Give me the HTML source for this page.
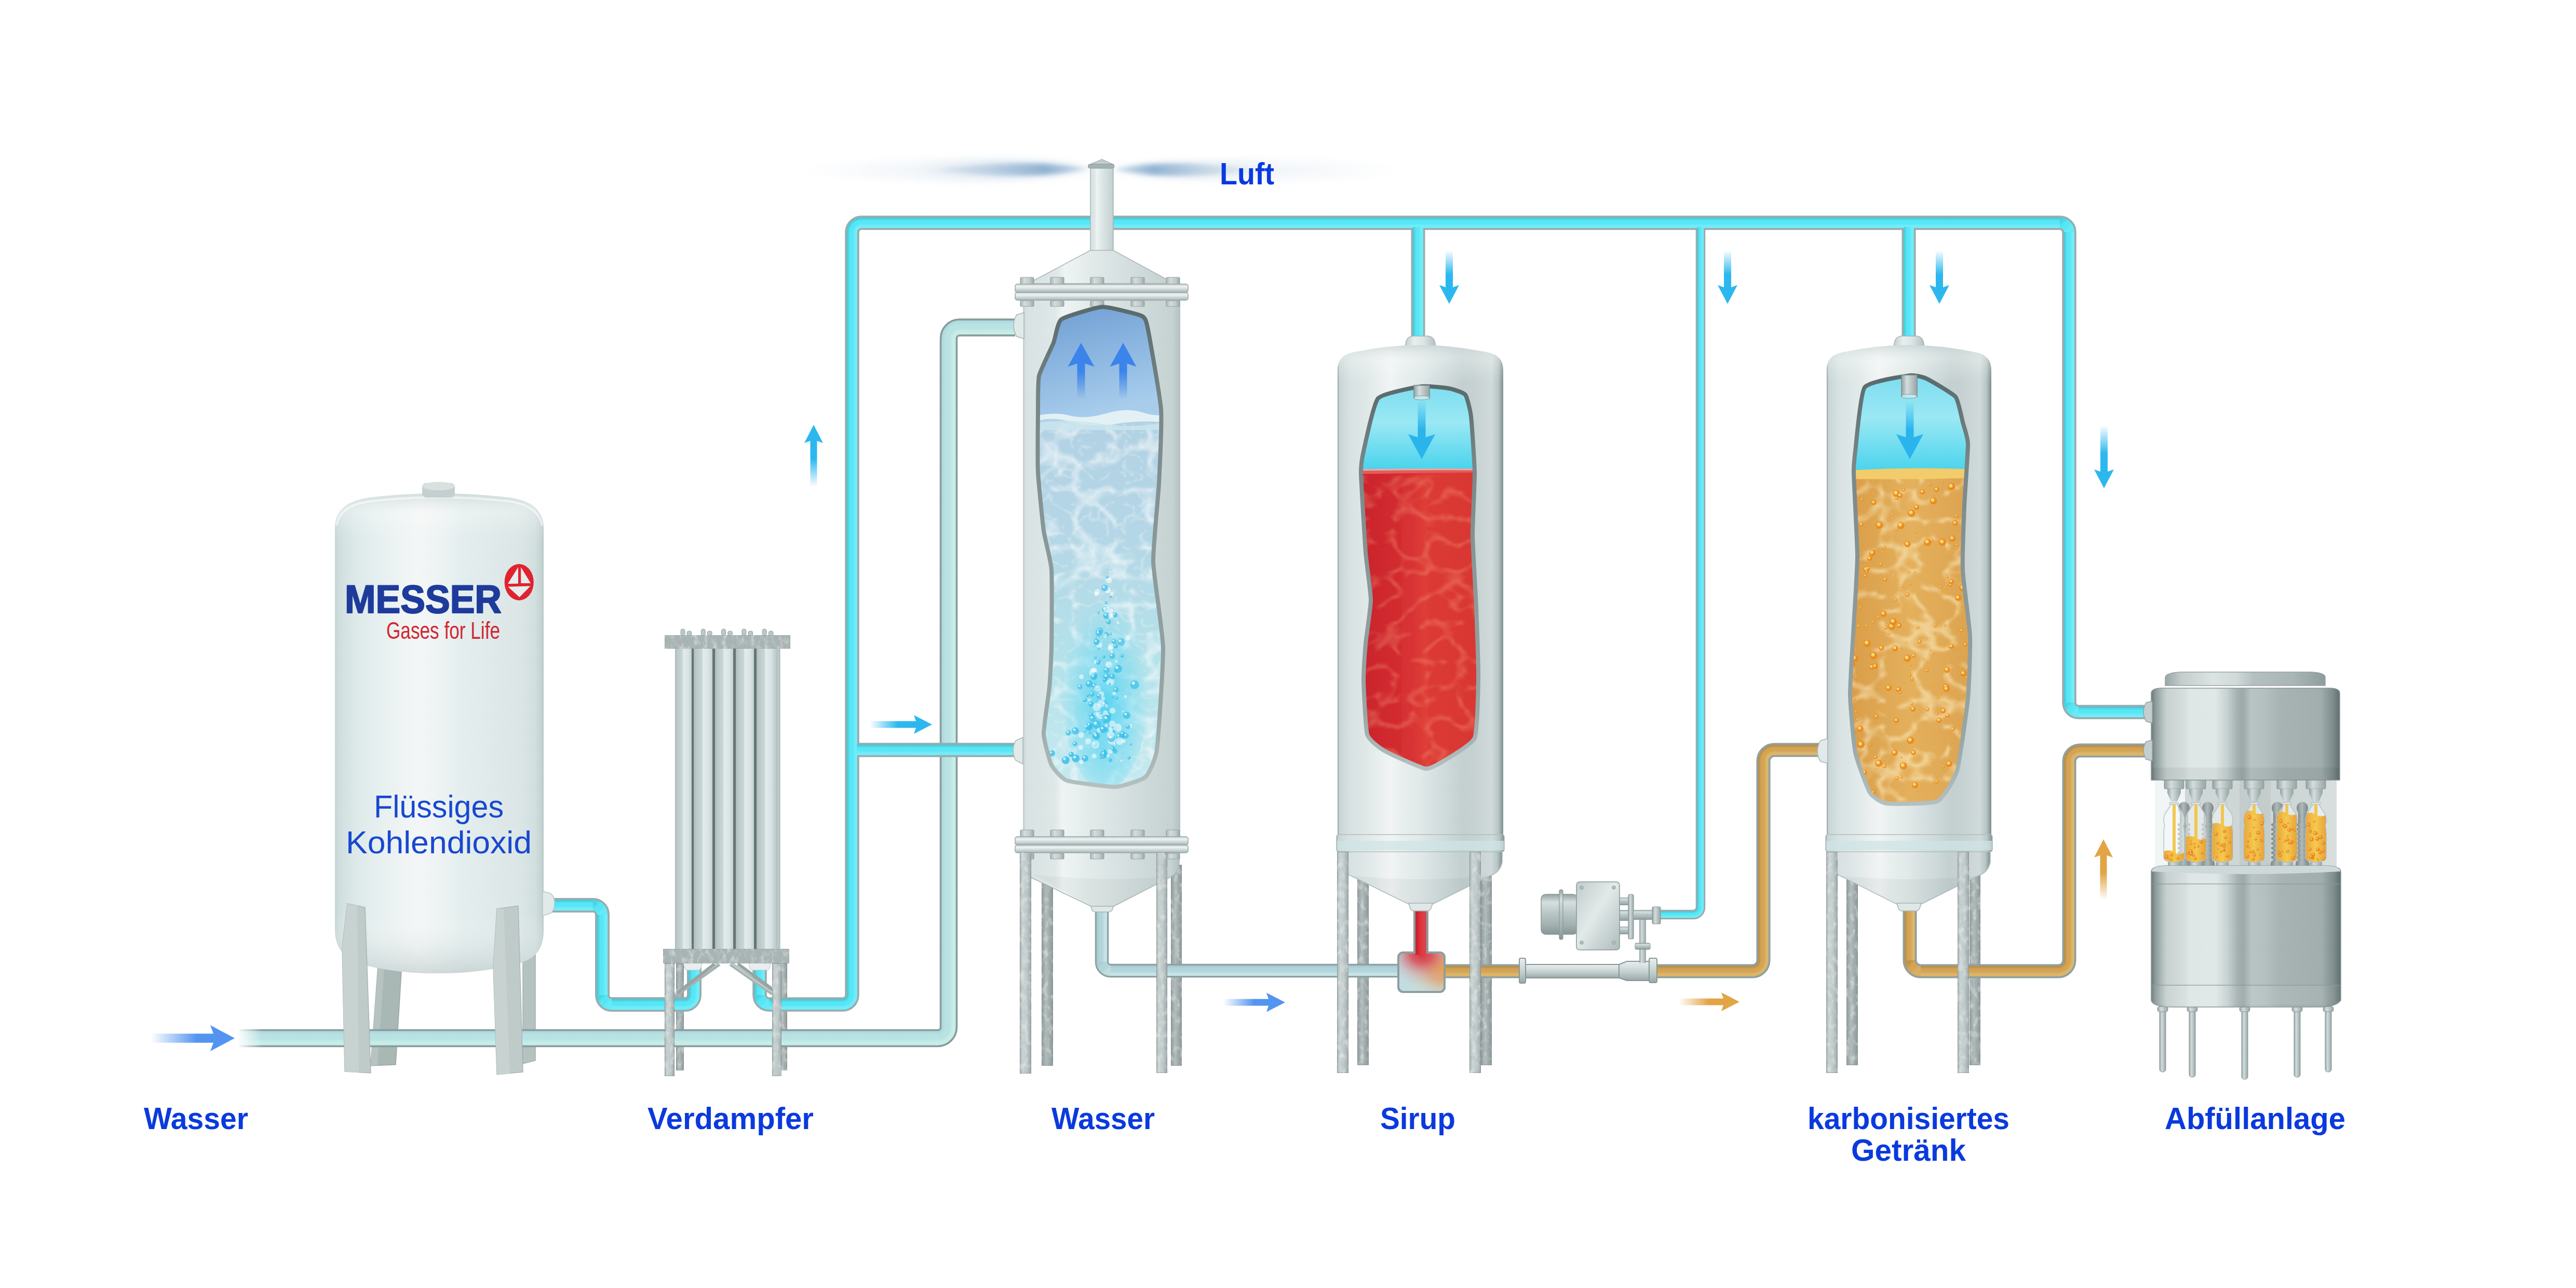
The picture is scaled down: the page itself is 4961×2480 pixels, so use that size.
<!DOCTYPE html>
<html><head><meta charset="utf-8"><style>
html,body{margin:0;padding:0;background:#fff;}
svg{display:block;}
text{font-family:"Liberation Sans",sans-serif;}
</style></head><body>
<svg width="4961" height="2480" viewBox="0 0 4961 2480">
<defs>
<linearGradient id="tankH" x1="0" y1="0" x2="1" y2="0" ><stop offset="0" stop-color="#8a9a9a"/><stop offset="0.01" stop-color="#c8d4d4"/><stop offset="0.075" stop-color="#d8e2e2"/><stop offset="0.18" stop-color="#e0e8e8"/><stop offset="0.32" stop-color="#f2f4f4"/><stop offset="0.37" stop-color="#eaf0f0"/><stop offset="0.5" stop-color="#e0e8e8"/><stop offset="0.65" stop-color="#cfdada"/><stop offset="0.75" stop-color="#c4d0d0"/><stop offset="0.82" stop-color="#c6d1d1"/><stop offset="0.93" stop-color="#d0dada"/><stop offset="0.97" stop-color="#b8c6c6"/><stop offset="1" stop-color="#7e8e8e"/></linearGradient>
<linearGradient id="tankH2" x1="0" y1="0" x2="1" y2="0" ><stop offset="0" stop-color="#c2cece"/><stop offset="0.02" stop-color="#d8e2e2"/><stop offset="0.2" stop-color="#dfe7e7"/><stop offset="0.25" stop-color="#eef3f3"/><stop offset="0.33" stop-color="#eaf0f0"/><stop offset="0.42" stop-color="#e2eaea"/><stop offset="0.6" stop-color="#d9e2e2"/><stop offset="0.8" stop-color="#cdd8d8"/><stop offset="0.95" stop-color="#c6d2d2"/><stop offset="1" stop-color="#b2c1c1"/></linearGradient>
<linearGradient id="co2H" x1="0" y1="0" x2="1" y2="0" ><stop offset="0" stop-color="#c4d4d4"/><stop offset="0.02" stop-color="#d0dede"/><stop offset="0.09" stop-color="#dce8e8"/><stop offset="0.2" stop-color="#e6efef"/><stop offset="0.4" stop-color="#f4f6f6"/><stop offset="0.55" stop-color="#eaf1f1"/><stop offset="0.6" stop-color="#e4eeee"/><stop offset="0.8" stop-color="#dee8e8"/><stop offset="0.88" stop-color="#dce6e6"/><stop offset="0.96" stop-color="#d2dfdf"/><stop offset="0.99" stop-color="#c4d2d2"/><stop offset="1" stop-color="#b8c8c8"/></linearGradient>
<linearGradient id="legG" x1="0" y1="0" x2="1" y2="0" ><stop offset="0" stop-color="#a6b2b2"/><stop offset="0.25" stop-color="#cad3d3"/><stop offset="0.6" stop-color="#c2cbcb"/><stop offset="1" stop-color="#9aa6a6"/></linearGradient>
<linearGradient id="legD" x1="0" y1="0" x2="1" y2="0" ><stop offset="0" stop-color="#8e9a9a"/><stop offset="0.4" stop-color="#b2bcbc"/><stop offset="1" stop-color="#8a9696"/></linearGradient>
<linearGradient id="co2leg" x1="0" y1="0" x2="1" y2="0" ><stop offset="0" stop-color="#bcc7c5"/><stop offset="0.5" stop-color="#d3dcda"/><stop offset="1" stop-color="#b8c3c1"/></linearGradient>
<linearGradient id="co2legD" x1="0" y1="0" x2="1" y2="0" ><stop offset="0" stop-color="#a7b3b1"/><stop offset="1" stop-color="#bcc6c4"/></linearGradient>
<linearGradient id="gasBlue" x1="0" y1="0" x2="0.3" y2="1" ><stop offset="0" stop-color="#6c9bd2"/><stop offset="0.6" stop-color="#8fb9e2"/><stop offset="1" stop-color="#a8cdec"/></linearGradient>
<linearGradient id="waterG" x1="0" y1="0" x2="0" y2="1" ><stop offset="0" stop-color="#b2d2e4"/><stop offset="0.3" stop-color="#b4d6e6"/><stop offset="0.65" stop-color="#b4e2ea"/><stop offset="1" stop-color="#c6eaf0"/></linearGradient>
<linearGradient id="gasCyan" x1="0" y1="0" x2="0" y2="1" ><stop offset="0" stop-color="#7adcef"/><stop offset="0.45" stop-color="#9ae8f4"/><stop offset="1" stop-color="#44d2ec"/></linearGradient>
<linearGradient id="redG" x1="0" y1="0" x2="1" y2="0" ><stop offset="0" stop-color="#c8222c"/><stop offset="0.45" stop-color="#d62e30"/><stop offset="0.55" stop-color="#dc3a34"/><stop offset="1" stop-color="#d83632"/></linearGradient>
<linearGradient id="beerG" x1="0" y1="0" x2="1" y2="0" ><stop offset="0" stop-color="#d99c48"/><stop offset="0.5" stop-color="#e4b05c"/><stop offset="1" stop-color="#dca24e"/></linearGradient>
<linearGradient id="plate" x1="0" y1="0" x2="0" y2="1" ><stop offset="0" stop-color="#c6d0d0"/><stop offset="0.3" stop-color="#eef2f2"/><stop offset="0.55" stop-color="#d6dfdf"/><stop offset="1" stop-color="#a6b4b4"/></linearGradient>
<linearGradient id="nozG" x1="0" y1="0" x2="1" y2="0" ><stop offset="0" stop-color="#c4cece"/><stop offset="0.3" stop-color="#e8eeee"/><stop offset="0.6" stop-color="#dce4e4"/><stop offset="1" stop-color="#b4c2c2"/></linearGradient>
<linearGradient id="boltG" x1="0" y1="0" x2="1" y2="0" ><stop offset="0" stop-color="#a8b4b4"/><stop offset="0.3" stop-color="#d4dcdc"/><stop offset="0.7" stop-color="#c0caca"/><stop offset="1" stop-color="#9aa8a8"/></linearGradient>
<linearGradient id="winStroke" x1="0" y1="0" x2="0" y2="1" ><stop offset="0" stop-color="#5a6a6c"/><stop offset="0.2" stop-color="#788688"/><stop offset="0.5" stop-color="#8a9898"/><stop offset="0.85" stop-color="#98a6a6"/><stop offset="1" stop-color="#b4c0c0"/></linearGradient>
<linearGradient id="evtube" x1="0" y1="0" x2="1" y2="0" ><stop offset="0" stop-color="#a9b9b9"/><stop offset="0.12" stop-color="#bac8c8"/><stop offset="0.44" stop-color="#c9d6d6"/><stop offset="0.5" stop-color="#e3ebeb"/><stop offset="0.8" stop-color="#d8e3e3"/><stop offset="1" stop-color="#c2d0d0"/></linearGradient>
<linearGradient id="redPipe" x1="0" y1="0" x2="1" y2="0" ><stop offset="0" stop-color="#c01e2a"/><stop offset="0.5" stop-color="#e2343c"/><stop offset="1" stop-color="#d44a52"/></linearGradient>
<linearGradient id="steel" x1="0" y1="0" x2="0" y2="1" ><stop offset="0" stop-color="#e8eeee"/><stop offset="0.35" stop-color="#d3dcdc"/><stop offset="0.7" stop-color="#b8c4c4"/><stop offset="1" stop-color="#98a6a6"/></linearGradient>
<linearGradient id="domeV" x1="0" y1="0" x2="0" y2="1" ><stop offset="0" stop-color="#c6d2d2" stop-opacity="0.7"/><stop offset="0.45" stop-color="#ffffff" stop-opacity="0.25"/><stop offset="1" stop-color="#ffffff" stop-opacity="0"/></linearGradient>
<linearGradient id="botV" x1="0" y1="0" x2="0" y2="1" ><stop offset="0" stop-color="#ffffff" stop-opacity="0"/><stop offset="1" stop-color="#b4c2c2" stop-opacity="0.55"/></linearGradient>
<linearGradient id="cylV" x1="0" y1="0" x2="0" y2="1" ><stop offset="0" stop-color="#95a3a3"/><stop offset="0.2" stop-color="#d6dfdf"/><stop offset="0.45" stop-color="#bcc8c8"/><stop offset="0.75" stop-color="#a4b2b2"/><stop offset="1" stop-color="#889696"/></linearGradient>
<linearGradient id="boxG" x1="0" y1="0" x2="1" y2="1" ><stop offset="0" stop-color="#c2cccc"/><stop offset="0.45" stop-color="#e2e9e9"/><stop offset="1" stop-color="#afbcbc"/></linearGradient>
<linearGradient id="cylH" x1="0" y1="0" x2="1" y2="0" ><stop offset="0" stop-color="#94a2a2"/><stop offset="0.35" stop-color="#d4dddd"/><stop offset="1" stop-color="#97a5a5"/></linearGradient>
<linearGradient id="drumH" x1="0" y1="0" x2="1" y2="0" ><stop offset="0" stop-color="#6a7878"/><stop offset="0.02" stop-color="#8a9898"/><stop offset="0.05" stop-color="#aab6b6"/><stop offset="0.08" stop-color="#c8d0d0"/><stop offset="0.18" stop-color="#d6dede"/><stop offset="0.2" stop-color="#dfe6e6"/><stop offset="0.34" stop-color="#e0e7e7"/><stop offset="0.4" stop-color="#c8d2d2"/><stop offset="0.455" stop-color="#a6b2b2"/><stop offset="0.485" stop-color="#9ca9a9"/><stop offset="0.53" stop-color="#b8c4c4"/><stop offset="0.6" stop-color="#b4c0c0"/><stop offset="0.68" stop-color="#a8b4b4"/><stop offset="0.9" stop-color="#a2aeae"/><stop offset="0.965" stop-color="#7e8c8c"/><stop offset="1" stop-color="#5f6e6e"/></linearGradient>
<linearGradient id="capG" x1="0" y1="0" x2="1" y2="0" ><stop offset="0" stop-color="#9aa6a6"/><stop offset="0.1" stop-color="#c4cccc"/><stop offset="0.3" stop-color="#dce3e3"/><stop offset="0.45" stop-color="#d0d8d8"/><stop offset="0.55" stop-color="#b4c0c0"/><stop offset="0.8" stop-color="#aab6b6"/><stop offset="1" stop-color="#8e9c9c"/></linearGradient>
<linearGradient id="bottleG" x1="0" y1="0" x2="1" y2="0" ><stop offset="0" stop-color="#e89c2c"/><stop offset="0.5" stop-color="#f6c848"/><stop offset="1" stop-color="#e4962a"/></linearGradient>
<radialGradient id="wispL" cx="1" cy="0.5" r="1" fx="0.97" fy="0.5"><stop offset="0" stop-color="#6f98c2" stop-opacity="0.9"/><stop offset="0.25" stop-color="#8eb0d0" stop-opacity="0.55"/><stop offset="0.6" stop-color="#c4d6e6" stop-opacity="0.25"/><stop offset="1" stop-color="#e6eef4" stop-opacity="0"/></radialGradient>
<radialGradient id="wispR" cx="0" cy="0.5" r="1" fx="0.03" fy="0.5"><stop offset="0" stop-color="#6f98c2" stop-opacity="0.9"/><stop offset="0.25" stop-color="#8eb0d0" stop-opacity="0.55"/><stop offset="0.6" stop-color="#c4d6e6" stop-opacity="0.25"/><stop offset="1" stop-color="#e6eef4" stop-opacity="0"/></radialGradient>
<radialGradient id="haze" cx="0.5" cy="0.5" r="0.5"><stop offset="0" stop-color="#d8e4ee" stop-opacity="0.6"/><stop offset="1" stop-color="#eef3f7" stop-opacity="0"/></radialGradient>
<filter id="blur6" x="-20%" y="-50%" width="140%" height="200%"><feGaussianBlur stdDeviation="6"/></filter>
<filter id="cblur" x="-5%" y="-5%" width="110%" height="110%"><feGaussianBlur stdDeviation="2.8"/></filter>
<filter id="blur3" x="-20%" y="-50%" width="140%" height="200%"><feGaussianBlur stdDeviation="3"/></filter>
<filter id="cW" x="0" y="0" width="100%" height="100%"><feTurbulence type="turbulence" baseFrequency="0.014 0.018" numOctaves="2" seed="4" result="t"/><feColorMatrix in="t" type="matrix" values="0 0 0 0 1  0 0 0 0 1  0 0 0 0 1  -4.5 0 0 0 1" result="c"/><feGaussianBlur in="c" stdDeviation="1.6" result="bl"/><feComposite in="bl" in2="SourceGraphic" operator="in"/></filter>
<filter id="cW2" x="0" y="0" width="100%" height="100%"><feTurbulence type="turbulence" baseFrequency="0.03 0.036" numOctaves="2" seed="7" result="t"/><feColorMatrix in="t" type="matrix" values="0 0 0 0 1  0 0 0 0 1  0 0 0 0 1  -6 0 0 0 1" result="c"/><feGaussianBlur in="c" stdDeviation="1" result="bl"/><feComposite in="bl" in2="SourceGraphic" operator="in"/></filter>
<filter id="cR" x="0" y="0" width="100%" height="100%"><feTurbulence type="turbulence" baseFrequency="0.016 0.02" numOctaves="2" seed="11" result="t"/><feColorMatrix in="t" type="matrix" values="0 0 0 0 1  0 0 0 0 0.42  0 0 0 0 0.25  -4.5 0 0 0 1" result="c"/><feGaussianBlur in="c" stdDeviation="1.4" result="bl"/><feComposite in="bl" in2="SourceGraphic" operator="in"/></filter>
<filter id="cB" x="0" y="0" width="100%" height="100%"><feTurbulence type="turbulence" baseFrequency="0.016 0.02" numOctaves="2" seed="13" result="t"/><feColorMatrix in="t" type="matrix" values="0 0 0 0 1  0 0 0 0 0.92  0 0 0 0 0.62  -4.5 0 0 0 1" result="c"/><feGaussianBlur in="c" stdDeviation="1.4" result="bl"/><feComposite in="bl" in2="SourceGraphic" operator="in"/></filter>
<filter id="galv" x="0" y="0" width="100%" height="100%">
<feTurbulence type="fractalNoise" baseFrequency="0.11 0.07" numOctaves="3" seed="3" result="n"/>
<feColorMatrix in="n" type="matrix" values="0 0 0 0 1  0 0 0 0 1  0 0 0 0 1  0 0 0 1.0 -0.5" result="w"/>
<feComposite in="w" in2="SourceGraphic" operator="in" result="wc"/>
<feColorMatrix in="n" type="matrix" values="0 0 0 0 0.35  0 0 0 0 0.42  0 0 0 0 0.42  0 0 0 -1.2 0.5" result="d"/>
<feComposite in="d" in2="SourceGraphic" operator="in" result="dc"/>
<feMerge><feMergeNode in="SourceGraphic"/><feMergeNode in="dc"/><feMergeNode in="wc"/></feMerge></filter>
<radialGradient id="halo" cx="0.5" cy="0.5" r="0.5"><stop offset="0" stop-color="#dde7f0" stop-opacity="0.9"/><stop offset="0.6" stop-color="#e8eff5" stop-opacity="0.5"/><stop offset="1" stop-color="#f4f7fa" stop-opacity="0"/></radialGradient>
<linearGradient id="wL" gradientUnits="userSpaceOnUse" x1="1760" y1="0" x2="2098" y2="0"><stop offset="0" stop-color="#a8c0d8" stop-opacity="0"/><stop offset="0.45" stop-color="#98b6d2" stop-opacity="0.6"/><stop offset="0.75" stop-color="#7fa6ca" stop-opacity="0.95"/><stop offset="1" stop-color="#b4cce0" stop-opacity="0.7"/></linearGradient>
<linearGradient id="wR" gradientUnits="userSpaceOnUse" x1="2148" y1="0" x2="2480" y2="0"><stop offset="0" stop-color="#b4cce0" stop-opacity="0.7"/><stop offset="0.22" stop-color="#7fa6ca" stop-opacity="0.95"/><stop offset="0.55" stop-color="#a0bcd6" stop-opacity="0.5"/><stop offset="1" stop-color="#c0d2e2" stop-opacity="0"/></linearGradient>
<filter id="wblur" x="-10%" y="-100%" width="120%" height="300%"><feGaussianBlur stdDeviation="5 4"/></filter>
<filter id="wblur2" x="-10%" y="-100%" width="120%" height="300%"><feGaussianBlur stdDeviation="14 9"/></filter>
<mask id="pm1" maskUnits="userSpaceOnUse" x="0" y="0" width="4961" height="2480"><path d="M460,1999 L1806,1999 A21,21 0 0 0 1827,1978 L1827,651.5 A21,21 0 0 1 1848,630.5 L1955,630.5" fill="none" stroke="#fff" stroke-width="26.9" stroke-linejoin="round"/></mask>
<linearGradient id="pg1_0" gradientUnits="userSpaceOnUse" x1="0" y1="1985.55" x2="0" y2="2012.45"><stop offset="0" stop-color="#acd8de"/><stop offset="0.3" stop-color="#b9e2e3"/><stop offset="0.55" stop-color="#b9e2e3"/><stop offset="0.8" stop-color="#c6ede8"/><stop offset="1" stop-color="#c6ede8"/></linearGradient>
<linearGradient id="pg1_1" gradientUnits="userSpaceOnUse" x1="1813.55" y1="0" x2="1840.45" y2="0"><stop offset="0" stop-color="#acd8de"/><stop offset="0.3" stop-color="#b9e2e3"/><stop offset="0.55" stop-color="#b9e2e3"/><stop offset="0.8" stop-color="#c6ede8"/><stop offset="1" stop-color="#c6ede8"/></linearGradient>
<linearGradient id="pg1_2" gradientUnits="userSpaceOnUse" x1="0" y1="617.05" x2="0" y2="643.95"><stop offset="0" stop-color="#acd8de"/><stop offset="0.3" stop-color="#b9e2e3"/><stop offset="0.55" stop-color="#b9e2e3"/><stop offset="0.8" stop-color="#c6ede8"/><stop offset="1" stop-color="#c6ede8"/></linearGradient>
<radialGradient id="pc1_1" gradientUnits="userSpaceOnUse" cx="1806" cy="1978" r="34.45"><stop offset="0" stop-color="#acd8de"/><stop offset="0.219158" stop-color="#acd8de"/><stop offset="0.453411" stop-color="#b9e2e3"/><stop offset="0.648621" stop-color="#b9e2e3"/><stop offset="0.843832" stop-color="#c6ede8"/><stop offset="1" stop-color="#c6ede8"/></radialGradient>
<radialGradient id="pc1_2" gradientUnits="userSpaceOnUse" cx="1848" cy="651.5" r="34.45"><stop offset="0" stop-color="#c6ede8"/><stop offset="0.219158" stop-color="#c6ede8"/><stop offset="0.375327" stop-color="#c6ede8"/><stop offset="0.570537" stop-color="#b9e2e3"/><stop offset="0.765747" stop-color="#b9e2e3"/><stop offset="1" stop-color="#acd8de"/></radialGradient>
<linearGradient id="pipefade" gradientUnits="userSpaceOnUse" x1="456" y1="0" x2="505" y2="0"><stop offset="0" stop-color="#fff" stop-opacity="1"/><stop offset="1" stop-color="#fff" stop-opacity="0"/></linearGradient>
<mask id="pm2" maskUnits="userSpaceOnUse" x="0" y="0" width="4961" height="2480"><path d="M2122,1750 L2122,1852 A17,17 0 0 0 2139,1869 L2700,1869" fill="none" stroke="#fff" stroke-width="20.1" stroke-linejoin="round"/></mask>
<linearGradient id="pg2_0" gradientUnits="userSpaceOnUse" x1="2111.95" y1="0" x2="2132.05" y2="0"><stop offset="0" stop-color="#a2c8d0"/><stop offset="0.3" stop-color="#b3d5da"/><stop offset="0.55" stop-color="#b3d5da"/><stop offset="0.8" stop-color="#c6e4e6"/><stop offset="1" stop-color="#c6e4e6"/></linearGradient>
<linearGradient id="pg2_1" gradientUnits="userSpaceOnUse" x1="0" y1="1858.95" x2="0" y2="1879.05"><stop offset="0" stop-color="#a2c8d0"/><stop offset="0.3" stop-color="#b3d5da"/><stop offset="0.55" stop-color="#b3d5da"/><stop offset="0.8" stop-color="#c6e4e6"/><stop offset="1" stop-color="#c6e4e6"/></linearGradient>
<linearGradient id="pc2_1" gradientUnits="userSpaceOnUse" x1="2112.95" y1="1859.95" x2="2131.05" y2="1878.05"><stop offset="0" stop-color="#a2c8d0"/><stop offset="0.3" stop-color="#b3d5da"/><stop offset="0.55" stop-color="#b3d5da"/><stop offset="0.8" stop-color="#c6e4e6"/><stop offset="1" stop-color="#c6e4e6"/></linearGradient>
<mask id="pm3" maskUnits="userSpaceOnUse" x="0" y="0" width="4961" height="2480"><path d="M2780,1870 L3375,1870 A21,21 0 0 0 3396,1849 L3396,1465 A21,21 0 0 1 3417,1444 L3505,1444" fill="none" stroke="#fff" stroke-width="19.4" stroke-linejoin="round"/></mask>
<linearGradient id="pg3_0" gradientUnits="userSpaceOnUse" x1="0" y1="1860.3" x2="0" y2="1879.7"><stop offset="0" stop-color="#b48a46"/><stop offset="0.3" stop-color="#d4a454"/><stop offset="0.55" stop-color="#d4a454"/><stop offset="0.8" stop-color="#dcb66a"/><stop offset="1" stop-color="#dcb66a"/></linearGradient>
<linearGradient id="pg3_1" gradientUnits="userSpaceOnUse" x1="3386.3" y1="0" x2="3405.7" y2="0"><stop offset="0" stop-color="#b48a46"/><stop offset="0.3" stop-color="#d4a454"/><stop offset="0.55" stop-color="#d4a454"/><stop offset="0.8" stop-color="#dcb66a"/><stop offset="1" stop-color="#dcb66a"/></linearGradient>
<linearGradient id="pg3_2" gradientUnits="userSpaceOnUse" x1="0" y1="1434.3" x2="0" y2="1453.7"><stop offset="0" stop-color="#b48a46"/><stop offset="0.3" stop-color="#d4a454"/><stop offset="0.55" stop-color="#d4a454"/><stop offset="0.8" stop-color="#dcb66a"/><stop offset="1" stop-color="#dcb66a"/></linearGradient>
<radialGradient id="pc3_1" gradientUnits="userSpaceOnUse" cx="3375" cy="1849" r="30.7"><stop offset="0" stop-color="#b48a46"/><stop offset="0.368078" stop-color="#b48a46"/><stop offset="0.557655" stop-color="#d4a454"/><stop offset="0.715635" stop-color="#d4a454"/><stop offset="0.873616" stop-color="#dcb66a"/><stop offset="1" stop-color="#dcb66a"/></radialGradient>
<radialGradient id="pc3_2" gradientUnits="userSpaceOnUse" cx="3417" cy="1465" r="30.7"><stop offset="0" stop-color="#dcb66a"/><stop offset="0.368078" stop-color="#dcb66a"/><stop offset="0.494463" stop-color="#dcb66a"/><stop offset="0.652443" stop-color="#d4a454"/><stop offset="0.810423" stop-color="#d4a454"/><stop offset="1" stop-color="#b48a46"/></radialGradient>
<mask id="pm4" maskUnits="userSpaceOnUse" x="0" y="0" width="4961" height="2480"><path d="M3678,1750 L3678,1849 A21,21 0 0 0 3699,1870 L3964,1870 A21,21 0 0 0 3985,1849 L3985,1466 A21,21 0 0 1 4006,1445 L4140,1445" fill="none" stroke="#fff" stroke-width="19.4" stroke-linejoin="round"/></mask>
<linearGradient id="pg4_0" gradientUnits="userSpaceOnUse" x1="3668.3" y1="0" x2="3687.7" y2="0"><stop offset="0" stop-color="#b48a46"/><stop offset="0.3" stop-color="#d4a454"/><stop offset="0.55" stop-color="#d4a454"/><stop offset="0.8" stop-color="#dcb66a"/><stop offset="1" stop-color="#dcb66a"/></linearGradient>
<linearGradient id="pg4_1" gradientUnits="userSpaceOnUse" x1="0" y1="1860.3" x2="0" y2="1879.7"><stop offset="0" stop-color="#b48a46"/><stop offset="0.3" stop-color="#d4a454"/><stop offset="0.55" stop-color="#d4a454"/><stop offset="0.8" stop-color="#dcb66a"/><stop offset="1" stop-color="#dcb66a"/></linearGradient>
<linearGradient id="pg4_2" gradientUnits="userSpaceOnUse" x1="3975.3" y1="0" x2="3994.7" y2="0"><stop offset="0" stop-color="#b48a46"/><stop offset="0.3" stop-color="#d4a454"/><stop offset="0.55" stop-color="#d4a454"/><stop offset="0.8" stop-color="#dcb66a"/><stop offset="1" stop-color="#dcb66a"/></linearGradient>
<linearGradient id="pg4_3" gradientUnits="userSpaceOnUse" x1="0" y1="1435.3" x2="0" y2="1454.7"><stop offset="0" stop-color="#b48a46"/><stop offset="0.3" stop-color="#d4a454"/><stop offset="0.55" stop-color="#d4a454"/><stop offset="0.8" stop-color="#dcb66a"/><stop offset="1" stop-color="#dcb66a"/></linearGradient>
<linearGradient id="pc4_1" gradientUnits="userSpaceOnUse" x1="3669.27" y1="1861.27" x2="3686.73" y2="1878.73"><stop offset="0" stop-color="#b48a46"/><stop offset="0.3" stop-color="#d4a454"/><stop offset="0.55" stop-color="#d4a454"/><stop offset="0.8" stop-color="#dcb66a"/><stop offset="1" stop-color="#dcb66a"/></linearGradient>
<radialGradient id="pc4_2" gradientUnits="userSpaceOnUse" cx="3964" cy="1849" r="30.7"><stop offset="0" stop-color="#b48a46"/><stop offset="0.368078" stop-color="#b48a46"/><stop offset="0.557655" stop-color="#d4a454"/><stop offset="0.715635" stop-color="#d4a454"/><stop offset="0.873616" stop-color="#dcb66a"/><stop offset="1" stop-color="#dcb66a"/></radialGradient>
<radialGradient id="pc4_3" gradientUnits="userSpaceOnUse" cx="4006" cy="1466" r="30.7"><stop offset="0" stop-color="#dcb66a"/><stop offset="0.368078" stop-color="#dcb66a"/><stop offset="0.494463" stop-color="#dcb66a"/><stop offset="0.652443" stop-color="#d4a454"/><stop offset="0.810423" stop-color="#d4a454"/><stop offset="1" stop-color="#b48a46"/></radialGradient>
<mask id="pm5" maskUnits="userSpaceOnUse" x="0" y="0" width="4961" height="2480"><path d="M1463,1862 L1463,1916 A18,18 0 0 0 1481,1934 L1623,1934 A18,18 0 0 0 1641,1916 L1641,447 A18,18 0 0 1 1659,429 L3967,429 A18,18 0 0 1 3985,447 L3985,1353 A18,18 0 0 0 4003,1371 L4140,1371" fill="none" stroke="#fff" stroke-width="19.9" stroke-linejoin="round"/></mask>
<linearGradient id="pg5_0" gradientUnits="userSpaceOnUse" x1="1453.05" y1="0" x2="1472.95" y2="0"><stop offset="0" stop-color="#42c6d4"/><stop offset="0.3" stop-color="#56e6f6"/><stop offset="0.55" stop-color="#56e6f6"/><stop offset="0.8" stop-color="#72ecf8"/><stop offset="1" stop-color="#72ecf8"/></linearGradient>
<linearGradient id="pg5_1" gradientUnits="userSpaceOnUse" x1="0" y1="1924.05" x2="0" y2="1943.95"><stop offset="0" stop-color="#42c6d4"/><stop offset="0.3" stop-color="#56e6f6"/><stop offset="0.55" stop-color="#56e6f6"/><stop offset="0.8" stop-color="#72ecf8"/><stop offset="1" stop-color="#72ecf8"/></linearGradient>
<linearGradient id="pg5_2" gradientUnits="userSpaceOnUse" x1="1631.05" y1="0" x2="1650.95" y2="0"><stop offset="0" stop-color="#42c6d4"/><stop offset="0.3" stop-color="#56e6f6"/><stop offset="0.55" stop-color="#56e6f6"/><stop offset="0.8" stop-color="#72ecf8"/><stop offset="1" stop-color="#72ecf8"/></linearGradient>
<linearGradient id="pg5_3" gradientUnits="userSpaceOnUse" x1="0" y1="419.05" x2="0" y2="438.95"><stop offset="0" stop-color="#42c6d4"/><stop offset="0.3" stop-color="#56e6f6"/><stop offset="0.55" stop-color="#56e6f6"/><stop offset="0.8" stop-color="#72ecf8"/><stop offset="1" stop-color="#72ecf8"/></linearGradient>
<linearGradient id="pg5_4" gradientUnits="userSpaceOnUse" x1="3975.05" y1="0" x2="3994.95" y2="0"><stop offset="0" stop-color="#42c6d4"/><stop offset="0.3" stop-color="#56e6f6"/><stop offset="0.55" stop-color="#56e6f6"/><stop offset="0.8" stop-color="#72ecf8"/><stop offset="1" stop-color="#72ecf8"/></linearGradient>
<linearGradient id="pg5_5" gradientUnits="userSpaceOnUse" x1="0" y1="1361.05" x2="0" y2="1380.95"><stop offset="0" stop-color="#42c6d4"/><stop offset="0.3" stop-color="#56e6f6"/><stop offset="0.55" stop-color="#56e6f6"/><stop offset="0.8" stop-color="#72ecf8"/><stop offset="1" stop-color="#72ecf8"/></linearGradient>
<linearGradient id="pc5_1" gradientUnits="userSpaceOnUse" x1="1454.05" y1="1925.05" x2="1471.95" y2="1942.95"><stop offset="0" stop-color="#42c6d4"/><stop offset="0.3" stop-color="#56e6f6"/><stop offset="0.55" stop-color="#56e6f6"/><stop offset="0.8" stop-color="#72ecf8"/><stop offset="1" stop-color="#72ecf8"/></linearGradient>
<radialGradient id="pc5_2" gradientUnits="userSpaceOnUse" cx="1623" cy="1916" r="27.95"><stop offset="0" stop-color="#42c6d4"/><stop offset="0.288014" stop-color="#42c6d4"/><stop offset="0.50161" stop-color="#56e6f6"/><stop offset="0.679606" stop-color="#56e6f6"/><stop offset="0.857603" stop-color="#72ecf8"/><stop offset="1" stop-color="#72ecf8"/></radialGradient>
<radialGradient id="pc5_3" gradientUnits="userSpaceOnUse" cx="1659" cy="447" r="27.95"><stop offset="0" stop-color="#72ecf8"/><stop offset="0.288014" stop-color="#72ecf8"/><stop offset="0.430411" stop-color="#72ecf8"/><stop offset="0.608408" stop-color="#56e6f6"/><stop offset="0.786404" stop-color="#56e6f6"/><stop offset="1" stop-color="#42c6d4"/></radialGradient>
<linearGradient id="pc5_4" gradientUnits="userSpaceOnUse" x1="3976.05" y1="420.045" x2="3993.95" y2="437.955"><stop offset="0" stop-color="#42c6d4"/><stop offset="0.3" stop-color="#56e6f6"/><stop offset="0.55" stop-color="#56e6f6"/><stop offset="0.8" stop-color="#72ecf8"/><stop offset="1" stop-color="#72ecf8"/></linearGradient>
<linearGradient id="pc5_5" gradientUnits="userSpaceOnUse" x1="3976.05" y1="1362.05" x2="3993.95" y2="1379.95"><stop offset="0" stop-color="#42c6d4"/><stop offset="0.3" stop-color="#56e6f6"/><stop offset="0.55" stop-color="#56e6f6"/><stop offset="0.8" stop-color="#72ecf8"/><stop offset="1" stop-color="#72ecf8"/></linearGradient>
<mask id="pm6" maskUnits="userSpaceOnUse" x="0" y="0" width="4961" height="2480"><path d="M1060,1743 L1142,1743 A18,18 0 0 1 1160,1761 L1160,1916 A18,18 0 0 0 1178,1934 L1319,1934 A18,18 0 0 0 1337,1916 L1337,1862" fill="none" stroke="#fff" stroke-width="20.4" stroke-linejoin="round"/></mask>
<linearGradient id="pg6_0" gradientUnits="userSpaceOnUse" x1="0" y1="1732.8" x2="0" y2="1753.2"><stop offset="0" stop-color="#42c6d4"/><stop offset="0.3" stop-color="#56e6f6"/><stop offset="0.55" stop-color="#56e6f6"/><stop offset="0.8" stop-color="#72ecf8"/><stop offset="1" stop-color="#72ecf8"/></linearGradient>
<linearGradient id="pg6_1" gradientUnits="userSpaceOnUse" x1="1149.8" y1="0" x2="1170.2" y2="0"><stop offset="0" stop-color="#42c6d4"/><stop offset="0.3" stop-color="#56e6f6"/><stop offset="0.55" stop-color="#56e6f6"/><stop offset="0.8" stop-color="#72ecf8"/><stop offset="1" stop-color="#72ecf8"/></linearGradient>
<linearGradient id="pg6_2" gradientUnits="userSpaceOnUse" x1="0" y1="1923.8" x2="0" y2="1944.2"><stop offset="0" stop-color="#42c6d4"/><stop offset="0.3" stop-color="#56e6f6"/><stop offset="0.55" stop-color="#56e6f6"/><stop offset="0.8" stop-color="#72ecf8"/><stop offset="1" stop-color="#72ecf8"/></linearGradient>
<linearGradient id="pg6_3" gradientUnits="userSpaceOnUse" x1="1326.8" y1="0" x2="1347.2" y2="0"><stop offset="0" stop-color="#42c6d4"/><stop offset="0.3" stop-color="#56e6f6"/><stop offset="0.55" stop-color="#56e6f6"/><stop offset="0.8" stop-color="#72ecf8"/><stop offset="1" stop-color="#72ecf8"/></linearGradient>
<linearGradient id="pc6_1" gradientUnits="userSpaceOnUse" x1="1150.82" y1="1733.82" x2="1169.18" y2="1752.18"><stop offset="0" stop-color="#42c6d4"/><stop offset="0.3" stop-color="#56e6f6"/><stop offset="0.55" stop-color="#56e6f6"/><stop offset="0.8" stop-color="#72ecf8"/><stop offset="1" stop-color="#72ecf8"/></linearGradient>
<linearGradient id="pc6_2" gradientUnits="userSpaceOnUse" x1="1150.82" y1="1924.82" x2="1169.18" y2="1943.18"><stop offset="0" stop-color="#42c6d4"/><stop offset="0.3" stop-color="#56e6f6"/><stop offset="0.55" stop-color="#56e6f6"/><stop offset="0.8" stop-color="#72ecf8"/><stop offset="1" stop-color="#72ecf8"/></linearGradient>
<radialGradient id="pc6_3" gradientUnits="userSpaceOnUse" cx="1319" cy="1916" r="28.2"><stop offset="0" stop-color="#42c6d4"/><stop offset="0.276596" stop-color="#42c6d4"/><stop offset="0.493617" stop-color="#56e6f6"/><stop offset="0.674468" stop-color="#56e6f6"/><stop offset="0.855319" stop-color="#72ecf8"/><stop offset="1" stop-color="#72ecf8"/></radialGradient>
<mask id="pm7" maskUnits="userSpaceOnUse" x="0" y="0" width="4961" height="2480"><path d="M1650,1444 L1955,1444" fill="none" stroke="#fff" stroke-width="19.9" stroke-linejoin="round"/></mask>
<linearGradient id="pg7_0" gradientUnits="userSpaceOnUse" x1="0" y1="1434.05" x2="0" y2="1453.95"><stop offset="0" stop-color="#42c6d4"/><stop offset="0.3" stop-color="#56e6f6"/><stop offset="0.55" stop-color="#56e6f6"/><stop offset="0.8" stop-color="#72ecf8"/><stop offset="1" stop-color="#72ecf8"/></linearGradient>
<mask id="pm8" maskUnits="userSpaceOnUse" x="0" y="0" width="4961" height="2480"><path d="M2731,437 L2731,655" fill="none" stroke="#fff" stroke-width="19.4" stroke-linejoin="round"/></mask>
<linearGradient id="pg8_0" gradientUnits="userSpaceOnUse" x1="2721.3" y1="0" x2="2740.7" y2="0"><stop offset="0" stop-color="#42c6d4"/><stop offset="0.3" stop-color="#56e6f6"/><stop offset="0.55" stop-color="#56e6f6"/><stop offset="0.8" stop-color="#72ecf8"/><stop offset="1" stop-color="#72ecf8"/></linearGradient>
<mask id="pm9" maskUnits="userSpaceOnUse" x="0" y="0" width="4961" height="2480"><path d="M3676,437 L3676,655" fill="none" stroke="#fff" stroke-width="19.4" stroke-linejoin="round"/></mask>
<linearGradient id="pg9_0" gradientUnits="userSpaceOnUse" x1="3666.3" y1="0" x2="3685.7" y2="0"><stop offset="0" stop-color="#42c6d4"/><stop offset="0.3" stop-color="#56e6f6"/><stop offset="0.55" stop-color="#56e6f6"/><stop offset="0.8" stop-color="#72ecf8"/><stop offset="1" stop-color="#72ecf8"/></linearGradient>
<mask id="pm10" maskUnits="userSpaceOnUse" x="0" y="0" width="4961" height="2480"><path d="M3275,437 L3275,1747 A14,14 0 0 1 3261,1761 L3190,1761" fill="none" stroke="#fff" stroke-width="12.1" stroke-linejoin="round"/></mask>
<linearGradient id="pg10_0" gradientUnits="userSpaceOnUse" x1="3268.95" y1="0" x2="3281.05" y2="0"><stop offset="0" stop-color="#42c6d4"/><stop offset="0.3" stop-color="#56e6f6"/><stop offset="0.55" stop-color="#56e6f6"/><stop offset="0.8" stop-color="#72ecf8"/><stop offset="1" stop-color="#72ecf8"/></linearGradient>
<linearGradient id="pg10_1" gradientUnits="userSpaceOnUse" x1="0" y1="1754.95" x2="0" y2="1767.05"><stop offset="0" stop-color="#42c6d4"/><stop offset="0.3" stop-color="#56e6f6"/><stop offset="0.55" stop-color="#56e6f6"/><stop offset="0.8" stop-color="#72ecf8"/><stop offset="1" stop-color="#72ecf8"/></linearGradient>
<radialGradient id="pc10_1" gradientUnits="userSpaceOnUse" cx="3261" cy="1747" r="20.05"><stop offset="0" stop-color="#42c6d4"/><stop offset="0.396509" stop-color="#42c6d4"/><stop offset="0.577556" stop-color="#56e6f6"/><stop offset="0.728429" stop-color="#56e6f6"/><stop offset="0.879302" stop-color="#72ecf8"/><stop offset="1" stop-color="#72ecf8"/></radialGradient>
<radialGradient id="jRed" cx="0.5" cy="0" r="0.85"><stop offset="0" stop-color="#d82e3c" stop-opacity="1"/><stop offset="0.3" stop-color="#d8444e" stop-opacity="0.8"/><stop offset="0.7" stop-color="#d08890" stop-opacity="0.25"/><stop offset="1" stop-color="#d0a0a8" stop-opacity="0"/></radialGradient>
<radialGradient id="jOr" cx="1" cy="0.4" r="0.95"><stop offset="0" stop-color="#eca442" stop-opacity="1"/><stop offset="0.35" stop-color="#e89a5a" stop-opacity="0.7"/><stop offset="0.75" stop-color="#e0c4a8" stop-opacity="0.25"/><stop offset="1" stop-color="#e0d0c0" stop-opacity="0"/></radialGradient>
<clipPath id="cw"><path d="M2123,591 C2135.32,590.44 2191.04,604.88 2198,608 C2204.96,611.12 2206.96,615.6 2210,630 C2213.04,644.4 2234.24,763.92 2236,788 C2237.76,812.08 2233.2,907.48 2232,931 C2230.8,954.52 2220.36,1056.72 2221,1082 C2221.64,1107.28 2239.44,1218.12 2240,1247 C2240.56,1275.88 2230.72,1423.08 2228,1443 C2225.28,1462.92 2212.32,1490.24 2206,1496 C2199.68,1501.76 2161.08,1514.44 2149,1515 C2136.92,1515.56 2064.92,1506.36 2055,1503 C2045.08,1499.64 2028.6,1480.2 2025,1473 C2021.4,1465.8 2010.32,1425 2010,1413 C2009.68,1401 2019.8,1336.28 2021,1323 C2022.2,1309.72 2024.68,1265.08 2025,1247 C2025.32,1228.92 2026.2,1115 2025,1097 C2023.8,1079 2012.08,1037.04 2010,1022 C2007.92,1006.96 1999.88,927.08 1999,909 C1998.12,890.92 1998.84,810.8 1999,796 C1999.16,781.2 1998.6,734.88 2001,724 C2003.4,713.12 2025.56,668.72 2029,660 C2032.44,651.28 2036.48,620.52 2044,615 C2051.52,609.48 2110.68,591.56 2123,591 Z"/></clipPath>
<clipPath id="cs"><path d="M2738,744 C2748.96,742.48 2784.28,746.72 2791,748 C2797.72,749.28 2818.64,755.68 2822,760 C2825.36,764.32 2831.56,789.92 2833,802 C2834.44,814.08 2839.76,892.76 2840,911 C2840.24,929.24 2835.76,1009.36 2836,1030 C2836.24,1050.64 2842.12,1146.68 2843,1169 C2843.88,1191.32 2847.24,1288.84 2847,1309 C2846.76,1329.16 2845.04,1408.68 2840,1421 C2834.96,1433.32 2791.6,1458.28 2784,1463 C2776.4,1467.72 2754.52,1481.44 2745,1480 C2735.48,1478.56 2673.96,1450.28 2665,1445 C2656.04,1439.72 2636.12,1424.88 2633,1414 C2629.88,1403.12 2626.24,1323 2626,1309 C2625.76,1295 2628.88,1251.32 2630,1239 C2631.12,1226.68 2640,1169 2640,1155 C2640,1141 2631.52,1083.52 2630,1064 C2628.48,1044.48 2621.32,926.6 2621,911 C2620.68,895.4 2623.36,880.52 2626,869 C2628.64,857.48 2645.04,777 2654,767 C2662.96,757 2727.04,745.52 2738,744 Z"/></clipPath>
<clipPath id="ck"><path d="M3678,723 C3687.52,721.64 3702.96,725.72 3710,729 C3717.04,732.28 3760.4,757.28 3766,764 C3771.6,770.72 3778.08,805.72 3780,813 C3781.92,820.28 3789.76,842.12 3790,855 C3790.24,867.88 3783.8,954.48 3783,974 C3782.2,993.52 3779.12,1078.92 3780,1099 C3780.88,1119.08 3793.2,1205.4 3794,1225 C3794.8,1244.6 3792,1323.28 3790,1344 C3788,1364.72 3773.72,1468.08 3769,1484 C3764.28,1499.92 3741.88,1537.96 3731,1543 C3720.12,1548.04 3643.4,1548.36 3633,1547 C3622.6,1545.64 3605.8,1533.84 3601,1526 C3596.2,1518.16 3576.04,1464.12 3573,1449 C3569.96,1433.88 3563.24,1356.6 3563,1337 C3562.76,1317.4 3568.88,1225.28 3570,1204 C3571.12,1182.72 3577,1094.44 3577,1071 C3577,1047.56 3570.32,927.16 3570,911 C3569.68,894.84 3571.32,882.2 3573,869 C3574.68,855.8 3582.6,757.68 3591,746 C3599.4,734.32 3668.48,724.36 3678,723 Z"/></clipPath>
<radialGradient id="bglow" cx="0.5" cy="0.62" r="0.55"><stop offset="0" stop-color="#42d0f2" stop-opacity="0.85"/><stop offset="0.6" stop-color="#6ad8f2" stop-opacity="0.45"/><stop offset="1" stop-color="#90e0f0" stop-opacity="0"/></radialGradient>
<linearGradient id="ag1" gradientUnits="userSpaceOnUse" x1="2082" y1="768" x2="2082" y2="660"><stop offset="0" stop-color="#3a84ea" stop-opacity="0"/><stop offset="0.5" stop-color="#3a84ea" stop-opacity="1"/></linearGradient>
<linearGradient id="ag2" gradientUnits="userSpaceOnUse" x1="2163" y1="768" x2="2163" y2="660"><stop offset="0" stop-color="#3a84ea" stop-opacity="0"/><stop offset="0.5" stop-color="#3a84ea" stop-opacity="1"/></linearGradient>
<linearGradient id="ag3" gradientUnits="userSpaceOnUse" x1="2738" y1="770" x2="2738" y2="884"><stop offset="0" stop-color="#2ab4ec" stop-opacity="0"/><stop offset="0.5" stop-color="#2ab4ec" stop-opacity="1"/></linearGradient>
<linearGradient id="ag4" gradientUnits="userSpaceOnUse" x1="3678" y1="772" x2="3678" y2="884"><stop offset="0" stop-color="#2ab4ec" stop-opacity="0"/><stop offset="0.5" stop-color="#2ab4ec" stop-opacity="1"/></linearGradient>
<linearGradient id="bellowG" x1="0" y1="0" x2="1" y2="0"><stop offset="0" stop-color="#7c8888"/><stop offset="0.45" stop-color="#b0baba"/><stop offset="1" stop-color="#7a8686"/></linearGradient>
<linearGradient id="ag5" gradientUnits="userSpaceOnUse" x1="291" y1="1999" x2="452" y2="1999"><stop offset="0" stop-color="#5394f0" stop-opacity="0"/><stop offset="0.55" stop-color="#5394f0" stop-opacity="1"/></linearGradient>
<linearGradient id="ag6" gradientUnits="userSpaceOnUse" x1="1567" y1="937" x2="1567" y2="818"><stop offset="0" stop-color="#2cb8ee" stop-opacity="0"/><stop offset="0.45" stop-color="#2cb8ee" stop-opacity="1"/></linearGradient>
<linearGradient id="ag7" gradientUnits="userSpaceOnUse" x1="1675" y1="1395" x2="1795" y2="1395"><stop offset="0" stop-color="#2cb8ee" stop-opacity="0"/><stop offset="0.45" stop-color="#2cb8ee" stop-opacity="1"/></linearGradient>
<linearGradient id="ag8" gradientUnits="userSpaceOnUse" x1="2791" y1="482" x2="2791" y2="585"><stop offset="0" stop-color="#2cb8ee" stop-opacity="0"/><stop offset="0.45" stop-color="#2cb8ee" stop-opacity="1"/></linearGradient>
<linearGradient id="ag9" gradientUnits="userSpaceOnUse" x1="3327" y1="482" x2="3327" y2="585"><stop offset="0" stop-color="#2cb8ee" stop-opacity="0"/><stop offset="0.45" stop-color="#2cb8ee" stop-opacity="1"/></linearGradient>
<linearGradient id="ag10" gradientUnits="userSpaceOnUse" x1="3735" y1="482" x2="3735" y2="585"><stop offset="0" stop-color="#2cb8ee" stop-opacity="0"/><stop offset="0.45" stop-color="#2cb8ee" stop-opacity="1"/></linearGradient>
<linearGradient id="ag11" gradientUnits="userSpaceOnUse" x1="4052" y1="819" x2="4052" y2="940"><stop offset="0" stop-color="#2cb8ee" stop-opacity="0"/><stop offset="0.45" stop-color="#2cb8ee" stop-opacity="1"/></linearGradient>
<linearGradient id="ag12" gradientUnits="userSpaceOnUse" x1="2356" y1="1930" x2="2475" y2="1930"><stop offset="0" stop-color="#5394f0" stop-opacity="0"/><stop offset="0.5" stop-color="#5394f0" stop-opacity="1"/></linearGradient>
<linearGradient id="ag13" gradientUnits="userSpaceOnUse" x1="3233" y1="1929" x2="3350" y2="1929"><stop offset="0" stop-color="#e2a444" stop-opacity="0"/><stop offset="0.5" stop-color="#e2a444" stop-opacity="1"/></linearGradient>
<linearGradient id="ag14" gradientUnits="userSpaceOnUse" x1="4051" y1="1733" x2="4051" y2="1616"><stop offset="0" stop-color="#e2a444" stop-opacity="0"/><stop offset="0.45" stop-color="#e2a444" stop-opacity="1"/></linearGradient>
</defs>
<rect width="4961" height="2480" fill="#fff"/>
<!-- bg -->
<ellipse cx="1850" cy="328" rx="320" ry="32" fill="url(#halo)" opacity="0.6"/>
<ellipse cx="2420" cy="328" rx="300" ry="32" fill="url(#halo)" opacity="0.5"/>
<path d="M1620,327 Q1850,292 2098,324 Q1850,362 1620,327 Z" fill="url(#wL)" filter="url(#wblur2)" opacity="0.4"/>
<path d="M1790,327 Q1980,304 2098,325 Q1980,350 1790,327 Z" fill="url(#wL)" filter="url(#wblur)" opacity="0.85"/>
<path d="M2148,325 Q2260,304 2420,327 Q2260,350 2148,327 Z" fill="url(#wR)" filter="url(#wblur)" opacity="0.85"/>
<path d="M2148,325 Q2400,294 2700,327 Q2400,360 2148,327 Z" fill="url(#wR)" filter="url(#wblur2)" opacity="0.35"/>
<!-- back -->
<path d="M728,1859 L773,1870 L762,2050 L714,2052 Z" fill="#a9b7b5" stroke="#9aa8a6" stroke-width="1.5"/>
<path d="M728,1859 L740,1862 L727,2051 L714,2052 Z" fill="#b6c3c1"/>
<path d="M1007,1833 L1031,1830 L1031,2042 L1007,2048 Z" fill="#b4c2c0" stroke="#a2b0ae" stroke-width="1.5"/>
<rect x="1302" y="1855" width="15" height="206" rx="2" fill="url(#legD)" stroke="#7f8c8c" stroke-width="1.5" filter="url(#galv)"/>
<rect x="1502" y="1855" width="14" height="206" rx="2" fill="url(#legD)" stroke="#7f8c8c" stroke-width="1.5" filter="url(#galv)"/>
<rect x="2006" y="1680" width="22" height="372" rx="2" fill="url(#legD)" stroke="#7f8c8c" stroke-width="1.5" filter="url(#galv)"/>
<rect x="2255" y="1665" width="21" height="387" rx="2" fill="url(#legD)" stroke="#7f8c8c" stroke-width="1.5" filter="url(#galv)"/>
<rect x="2614" y="1682" width="22" height="369" rx="2" fill="url(#legD)" stroke="#7f8c8c" stroke-width="1.5" filter="url(#galv)"/>
<rect x="2852" y="1660" width="21" height="391" rx="2" fill="url(#legD)" stroke="#7f8c8c" stroke-width="1.5" filter="url(#galv)"/>
<rect x="3556" y="1682" width="22" height="369" rx="2" fill="url(#legD)" stroke="#7f8c8c" stroke-width="1.5" filter="url(#galv)"/>
<rect x="3793" y="1660" width="21" height="391" rx="2" fill="url(#legD)" stroke="#7f8c8c" stroke-width="1.5" filter="url(#galv)"/>
<!-- pipes -->
<path d="M460,1999 L1806,1999 A21,21 0 0 0 1827,1978 L1827,651.5 A21,21 0 0 1 1848,630.5 L1955,630.5" fill="none" stroke="#889b9b" stroke-width="34.5" stroke-linejoin="round" />
<path d="M460,1999 L1806,1999 A21,21 0 0 0 1827,1978 L1827,651.5 A21,21 0 0 1 1848,630.5 L1955,630.5" fill="none" stroke="#b9e2e3" stroke-width="26.9" stroke-linejoin="round" /><g mask="url(#pm1)"><rect x="433.1" y="1984.55" width="1372.9" height="28.9" fill="url(#pg1_0)"/><rect x="1812.55" y="651.5" width="28.9" height="1326.5" fill="url(#pg1_1)"/><rect x="1848" y="616.05" width="133.9" height="28.9" fill="url(#pg1_2)"/><rect x="1806" y="1978" width="35.45" height="35.45" fill="url(#pc1_1)"/><rect x="1812.55" y="616.05" width="35.45" height="35.45" fill="url(#pc1_2)"/></g>
<rect x="440" y="1975" width="70" height="50" fill="url(#pipefade)"/>
<path d="M2122,1750 L2122,1852 A17,17 0 0 0 2139,1869 L2700,1869" fill="none" stroke="#8fa0a3" stroke-width="26.5" stroke-linejoin="round" />
<path d="M2122,1750 L2122,1852 A17,17 0 0 0 2139,1869 L2700,1869" fill="none" stroke="#b3d5da" stroke-width="20.1" stroke-linejoin="round" /><g mask="url(#pm2)"><rect x="2110.95" y="1729.9" width="22.1" height="122.1" fill="url(#pg2_0)"/><rect x="2139" y="1857.95" width="581.1" height="22.1" fill="url(#pg2_1)"/><rect x="2110.95" y="1852" width="28.05" height="28.05" fill="url(#pc2_1)" opacity="0.6"/></g>
<path d="M2780,1870 L3375,1870 A21,21 0 0 0 3396,1849 L3396,1465 A21,21 0 0 1 3417,1444 L3505,1444" fill="none" stroke="#8fa0a0" stroke-width="27" stroke-linejoin="round" /><path d="M3678,1750 L3678,1849 A21,21 0 0 0 3699,1870 L3964,1870 A21,21 0 0 0 3985,1849 L3985,1466 A21,21 0 0 1 4006,1445 L4140,1445" fill="none" stroke="#8fa0a0" stroke-width="27" stroke-linejoin="round" />
<path d="M2780,1870 L3375,1870 A21,21 0 0 0 3396,1849 L3396,1465 A21,21 0 0 1 3417,1444 L3505,1444" fill="none" stroke="#d4a454" stroke-width="19.4" stroke-linejoin="round" /><g mask="url(#pm3)"><rect x="2760.6" y="1859.3" width="614.4" height="21.4" fill="url(#pg3_0)"/><rect x="3385.3" y="1465" width="21.4" height="384" fill="url(#pg3_1)"/><rect x="3417" y="1433.3" width="107.4" height="21.4" fill="url(#pg3_2)"/><rect x="3375" y="1849" width="31.7" height="31.7" fill="url(#pc3_1)"/><rect x="3385.3" y="1433.3" width="31.7" height="31.7" fill="url(#pc3_2)"/></g><path d="M3678,1750 L3678,1849 A21,21 0 0 0 3699,1870 L3964,1870 A21,21 0 0 0 3985,1849 L3985,1466 A21,21 0 0 1 4006,1445 L4140,1445" fill="none" stroke="#d4a454" stroke-width="19.4" stroke-linejoin="round" /><g mask="url(#pm4)"><rect x="3667.3" y="1730.6" width="21.4" height="118.4" fill="url(#pg4_0)"/><rect x="3699" y="1859.3" width="265" height="21.4" fill="url(#pg4_1)"/><rect x="3974.3" y="1466" width="21.4" height="383" fill="url(#pg4_2)"/><rect x="4006" y="1434.3" width="153.4" height="21.4" fill="url(#pg4_3)"/><rect x="3667.3" y="1849" width="31.7" height="31.7" fill="url(#pc4_1)" opacity="0.6"/><rect x="3964" y="1849" width="31.7" height="31.7" fill="url(#pc4_2)"/><rect x="3974.3" y="1434.3" width="31.7" height="31.7" fill="url(#pc4_3)"/></g>
<path d="M1463,1862 L1463,1916 A18,18 0 0 0 1481,1934 L1623,1934 A18,18 0 0 0 1641,1916 L1641,447 A18,18 0 0 1 1659,429 L3967,429 A18,18 0 0 1 3985,447 L3985,1353 A18,18 0 0 0 4003,1371 L4140,1371" fill="none" stroke="#9aabac" stroke-width="27.5" stroke-linejoin="round" /><path d="M1060,1743 L1142,1743 A18,18 0 0 1 1160,1761 L1160,1916 A18,18 0 0 0 1178,1934 L1319,1934 A18,18 0 0 0 1337,1916 L1337,1862" fill="none" stroke="#9aabac" stroke-width="28" stroke-linejoin="round" /><path d="M1650,1444 L1955,1444" fill="none" stroke="#9aabac" stroke-width="27.5" stroke-linejoin="round" /><path d="M2731,437 L2731,655" fill="none" stroke="#9aabac" stroke-width="27" stroke-linejoin="round" /><path d="M3676,437 L3676,655" fill="none" stroke="#9aabac" stroke-width="27" stroke-linejoin="round" /><path d="M3275,437 L3275,1747 A14,14 0 0 1 3261,1761 L3190,1761" fill="none" stroke="#9aabac" stroke-width="18.5" stroke-linejoin="round" />
<path d="M1463,1862 L1463,1916 A18,18 0 0 0 1481,1934 L1623,1934 A18,18 0 0 0 1641,1916 L1641,447 A18,18 0 0 1 1659,429 L3967,429 A18,18 0 0 1 3985,447 L3985,1353 A18,18 0 0 0 4003,1371 L4140,1371" fill="none" stroke="#56e6f6" stroke-width="19.9" stroke-linejoin="round" /><g mask="url(#pm5)"><rect x="1452.05" y="1842.1" width="21.9" height="73.9" fill="url(#pg5_0)"/><rect x="1481" y="1923.05" width="142" height="21.9" fill="url(#pg5_1)"/><rect x="1630.05" y="447" width="21.9" height="1469" fill="url(#pg5_2)"/><rect x="1659" y="418.05" width="2308" height="21.9" fill="url(#pg5_3)"/><rect x="3974.05" y="447" width="21.9" height="906" fill="url(#pg5_4)"/><rect x="4003" y="1360.05" width="156.9" height="21.9" fill="url(#pg5_5)"/><rect x="1452.05" y="1916" width="28.95" height="28.95" fill="url(#pc5_1)" opacity="0.6"/><rect x="1623" y="1916" width="28.95" height="28.95" fill="url(#pc5_2)"/><rect x="1630.05" y="418.05" width="28.95" height="28.95" fill="url(#pc5_3)"/><rect x="3967" y="418.05" width="28.95" height="28.95" fill="url(#pc5_4)" opacity="0.6"/><rect x="3974.05" y="1353" width="28.95" height="28.95" fill="url(#pc5_5)" opacity="0.6"/></g><path d="M1060,1743 L1142,1743 A18,18 0 0 1 1160,1761 L1160,1916 A18,18 0 0 0 1178,1934 L1319,1934 A18,18 0 0 0 1337,1916 L1337,1862" fill="none" stroke="#56e6f6" stroke-width="20.4" stroke-linejoin="round" /><g mask="url(#pm6)"><rect x="1039.6" y="1731.8" width="102.4" height="22.4" fill="url(#pg6_0)"/><rect x="1148.8" y="1761" width="22.4" height="155" fill="url(#pg6_1)"/><rect x="1178" y="1922.8" width="141" height="22.4" fill="url(#pg6_2)"/><rect x="1325.8" y="1841.6" width="22.4" height="74.4" fill="url(#pg6_3)"/><rect x="1142" y="1731.8" width="29.2" height="29.2" fill="url(#pc6_1)" opacity="0.6"/><rect x="1148.8" y="1916" width="29.2" height="29.2" fill="url(#pc6_2)" opacity="0.6"/><rect x="1319" y="1916" width="29.2" height="29.2" fill="url(#pc6_3)"/></g><path d="M1650,1444 L1955,1444" fill="none" stroke="#56e6f6" stroke-width="19.9" stroke-linejoin="round" /><g mask="url(#pm7)"><rect x="1630.1" y="1433.05" width="344.8" height="21.9" fill="url(#pg7_0)"/></g><path d="M2731,437 L2731,655" fill="none" stroke="#56e6f6" stroke-width="19.4" stroke-linejoin="round" /><g mask="url(#pm8)"><rect x="2720.3" y="417.6" width="21.4" height="256.8" fill="url(#pg8_0)"/></g><path d="M3676,437 L3676,655" fill="none" stroke="#56e6f6" stroke-width="19.4" stroke-linejoin="round" /><g mask="url(#pm9)"><rect x="3665.3" y="417.6" width="21.4" height="256.8" fill="url(#pg9_0)"/></g><path d="M3275,437 L3275,1747 A14,14 0 0 1 3261,1761 L3190,1761" fill="none" stroke="#56e6f6" stroke-width="12.1" stroke-linejoin="round" /><g mask="url(#pm10)"><rect x="3267.95" y="424.9" width="14.1" height="1322.1" fill="url(#pg10_0)"/><rect x="3177.9" y="1753.95" width="83.1" height="14.1" fill="url(#pg10_1)"/><rect x="3261" y="1747" width="21.05" height="21.05" fill="url(#pc10_1)"/></g>
<rect x="2722" y="1750" width="29" height="90" fill="#8e9ea0"/><rect x="2726" y="1750" width="21" height="90" fill="url(#redPipe)"/>
<rect x="2691" y="1832" width="93" height="80" rx="11" fill="#8e9ea0"/>
<rect x="2695" y="1836" width="85" height="72" rx="8" fill="#c2dde0"/>
<rect x="2695" y="1836" width="85" height="72" rx="8" fill="url(#jOr)"/>
<rect x="2695" y="1836" width="85" height="72" rx="8" fill="url(#jRed)"/>
<rect x="2726" y="1828" width="21" height="10" fill="url(#redPipe)"/>
<rect x="2930" y="1857" width="200" height="26" fill="url(#steel)" stroke="#889898" stroke-width="2"/>
<path d="M3118,1857 L3133,1851 L3178,1851 L3178,1888 L3133,1888 L3118,1883 Z" fill="url(#steel)" stroke="#889898" stroke-width="2"/>
<rect x="2926" y="1845" width="12" height="48" rx="3" fill="url(#steel)" stroke="#889898" stroke-width="2"/>
<rect x="3176" y="1845" width="15" height="47" rx="3" fill="url(#steel)" stroke="#889898" stroke-width="2"/>
<!-- main -->
<path d="M645,1790 L645,1018 C645,985 665,962 720,957 Q846,943 972,957 C1027,962 1047,985 1047,1018 L1047,1790 C1047,1830 1030,1845 1000,1855 Q920,1875 846,1874 Q770,1875 700,1858 C668,1848 645,1830 645,1790 Z" fill="url(#co2H)"/>
<path d="M645,1040 L645,1018 C645,985 665,962 720,957 Q846,943 972,957 C1027,962 1047,985 1047,1018 L1047,1040 Z" fill="url(#domeV)"/>
<path d="M648,1012 C652,988 672,968 724,964 Q846,951 968,964 C1020,968 1040,988 1044,1012" fill="none" stroke="#ffffff" stroke-width="4" opacity="0.55"/>
<path d="M645,1760 L1047,1760 L1047,1790 C1047,1830 1030,1845 1000,1855 Q920,1875 846,1874 Q770,1875 700,1858 C668,1848 645,1830 645,1790 Z" fill="url(#botV)"/>
<rect x="813" y="930" width="63" height="28" rx="8" fill="#c4cfcf"/><ellipse cx="844.5" cy="936" rx="31" ry="8" fill="#d8e0e0"/>
<path d="M1045,1716 L1056,1719 Q1068,1722 1068,1739 Q1068,1757 1056,1760 L1045,1763 Z" fill="#e2e9e9" stroke="#b8c4c4" stroke-width="1.5"/>
<text x="664" y="1180" font-family="Liberation Sans" font-weight="bold" font-size="76" fill="#1e3b9c" stroke="#1e3b9c" stroke-width="2.2" stroke-linejoin="round" textLength="302" lengthAdjust="spacingAndGlyphs">MESSER</text>
<ellipse cx="999.7" cy="1121" rx="28.1" ry="35" fill="#e0232f"/>
<path d="M978,1124.1 L997.9,1092.1 L997.9,1123.8 Z M1003.2,1092.1 L1022.1,1122.9 L1003.2,1122.9 Z M978.3,1129.7 L1021.5,1128.5 L1000.4,1149.9 Z" fill="#e6eded"/>
<text x="744" y="1230" font-family="Liberation Sans" font-size="46" fill="#d32630" textLength="219" lengthAdjust="spacingAndGlyphs">Gases for Life</text>
<text x="720" y="1574" font-family="Liberation Sans" font-size="61" fill="#1848d0" textLength="250" lengthAdjust="spacingAndGlyphs">Flüssiges</text>
<text x="666" y="1643" font-family="Liberation Sans" font-size="61" fill="#1848d0" textLength="358" lengthAdjust="spacingAndGlyphs">Kohlendioxid</text>
<path d="M1297,1919 L1385,1856 M1407,1856 L1488,1913" stroke="#a6b2b2" stroke-width="8" fill="none"/><path d="M1297,1919 L1385,1856 M1407,1856 L1488,1913" stroke="#c4cece" stroke-width="2.5" fill="none" transform="translate(-1,-2)"/>
<path d="M1304,1912 L1376,1856 M1421,1856 L1488,1905" stroke="#98a4a4" stroke-width="6" fill="none"/>
<path d="M1316,1854 L1352,1854 L1350,1864 Q1349,1868 1344,1868 L1324,1868 Q1319,1868 1318,1864 Z" fill="#e8eeee" stroke="#b8c4c4"/>
<path d="M1442,1854 L1484,1854 L1482,1864 Q1481,1868 1476,1868 L1450,1868 Q1445,1868 1444,1864 Z" fill="#e8eeee" stroke="#b8c4c4"/>
<rect x="1300" y="1249" width="203" height="580" fill="#667474"/>
<rect x="1300" y="1249" width="32" height="580" fill="url(#evtube)"/>
<rect x="1336" y="1249" width="36" height="580" fill="url(#evtube)"/>
<rect x="1377" y="1249" width="35" height="580" fill="url(#evtube)"/>
<rect x="1417" y="1249" width="35" height="580" fill="url(#evtube)"/>
<rect x="1457" y="1249" width="35" height="580" fill="url(#evtube)"/>
<rect x="1492" y="1249" width="11" height="580" fill="#c4d0d0"/><path d="M1495,1249 V1829 M1498,1249 V1829 M1501,1249 V1829" stroke="#a4b2b2" stroke-width="1"/>
<rect x="1280" y="1223" width="242" height="26" rx="2" fill="#a9b5b5" stroke="#98a4a4" stroke-width="1.5" filter="url(#galv)"/>
<rect x="1311" y="1211" width="8" height="13" rx="4" fill="#bcc8c8" stroke="#96a2a2"/>
<rect x="1323" y="1215" width="9" height="9" rx="4" fill="#bcc8c8" stroke="#96a2a2"/>
<rect x="1350.3" y="1211" width="8" height="13" rx="4" fill="#bcc8c8" stroke="#96a2a2"/>
<rect x="1362.3" y="1215" width="9" height="9" rx="4" fill="#bcc8c8" stroke="#96a2a2"/>
<rect x="1389.6" y="1211" width="8" height="13" rx="4" fill="#bcc8c8" stroke="#96a2a2"/>
<rect x="1401.6" y="1215" width="9" height="9" rx="4" fill="#bcc8c8" stroke="#96a2a2"/>
<rect x="1428.9" y="1211" width="8" height="13" rx="4" fill="#bcc8c8" stroke="#96a2a2"/>
<rect x="1440.9" y="1215" width="9" height="9" rx="4" fill="#bcc8c8" stroke="#96a2a2"/>
<rect x="1468.2" y="1211" width="8" height="13" rx="4" fill="#bcc8c8" stroke="#96a2a2"/>
<rect x="1480.2" y="1215" width="9" height="9" rx="4" fill="#bcc8c8" stroke="#96a2a2"/>
<rect x="1277" y="1827" width="243" height="28" rx="2" fill="#a9b5b5" stroke="#98a4a4" stroke-width="1.5" filter="url(#galv)"/>
<rect x="2100" y="322" width="44" height="165" fill="url(#tankH2)" stroke="#a8b6b6" stroke-width="1.5"/>
<path d="M2098,317 L2122,307 L2145,317 Z" fill="#c4cece" stroke="#9aa8a8" stroke-width="1.2"/><rect x="2095.5" y="316" width="50.5" height="8" rx="4" fill="#a4b2b2" stroke="#8a9898" stroke-width="1"/>
<path d="M2100,482 L2144,482 L2262,546 L1980,546 Z" fill="url(#tankH2)" stroke="#a8b6b6" stroke-width="1.5"/>
<rect x="1970" y="575" width="303" height="1040" fill="url(#tankH2)"/>
<path d="M1972,1640 L1972,1668 Q1976,1688 1995,1694 L2103,1746 L2143,1746 L2252,1690 Q2270,1682 2271,1660 L2271,1640 Z" fill="url(#tankH2)" stroke="#a8b6b6" stroke-width="1.5"/>
<path d="M1990,1684 L2103,1746 L2143,1746 L2255,1686 Q2150,1700 1990,1684 Z" fill="#000" opacity="0.03"/>
<path d="M2101,1745 L2144,1745 L2142,1752 Q2140,1756 2134,1756 L2111,1756 Q2105,1756 2103,1752 Z" fill="#dfe7e7" stroke="#a8b6b6" stroke-width="1.5"/>
<rect x="1965" y="534" width="26" height="14" rx="2" fill="url(#boltG)" stroke="#98a6a6" stroke-width="1.2"/>
<rect x="2023" y="534" width="26" height="14" rx="2" fill="url(#boltG)" stroke="#98a6a6" stroke-width="1.2"/>
<rect x="2100" y="534" width="26" height="14" rx="2" fill="url(#boltG)" stroke="#98a6a6" stroke-width="1.2"/>
<rect x="2178" y="534" width="26" height="14" rx="2" fill="url(#boltG)" stroke="#98a6a6" stroke-width="1.2"/>
<rect x="2246" y="534" width="26" height="14" rx="2" fill="url(#boltG)" stroke="#98a6a6" stroke-width="1.2"/>
<rect x="1955" y="547" width="333" height="16" rx="4" fill="url(#plate)" stroke="#98a6a6" stroke-width="1.5"/>
<rect x="1955" y="563" width="333" height="15" rx="4" fill="url(#plate)" stroke="#98a6a6" stroke-width="1.5"/>
<rect x="1965" y="579" width="26" height="11" rx="2" fill="url(#boltG)" stroke="#98a6a6" stroke-width="1.2"/>
<rect x="2023" y="579" width="26" height="11" rx="2" fill="url(#boltG)" stroke="#98a6a6" stroke-width="1.2"/>
<rect x="2100" y="579" width="26" height="11" rx="2" fill="url(#boltG)" stroke="#98a6a6" stroke-width="1.2"/>
<rect x="2178" y="579" width="26" height="11" rx="2" fill="url(#boltG)" stroke="#98a6a6" stroke-width="1.2"/>
<rect x="2246" y="579" width="26" height="11" rx="2" fill="url(#boltG)" stroke="#98a6a6" stroke-width="1.2"/>
<rect x="1965" y="1598" width="26" height="14" rx="2" fill="url(#boltG)" stroke="#98a6a6" stroke-width="1.2"/>
<rect x="2023" y="1598" width="26" height="14" rx="2" fill="url(#boltG)" stroke="#98a6a6" stroke-width="1.2"/>
<rect x="2100" y="1598" width="26" height="14" rx="2" fill="url(#boltG)" stroke="#98a6a6" stroke-width="1.2"/>
<rect x="2178" y="1598" width="26" height="14" rx="2" fill="url(#boltG)" stroke="#98a6a6" stroke-width="1.2"/>
<rect x="2246" y="1598" width="26" height="14" rx="2" fill="url(#boltG)" stroke="#98a6a6" stroke-width="1.2"/>
<rect x="1955" y="1611" width="333" height="16" rx="4" fill="url(#plate)" stroke="#98a6a6" stroke-width="1.5"/>
<rect x="1955" y="1627" width="333" height="15" rx="4" fill="url(#plate)" stroke="#98a6a6" stroke-width="1.5"/>
<rect x="1965" y="1643" width="26" height="11" rx="2" fill="url(#boltG)" stroke="#98a6a6" stroke-width="1.2"/>
<rect x="2023" y="1643" width="26" height="11" rx="2" fill="url(#boltG)" stroke="#98a6a6" stroke-width="1.2"/>
<rect x="2100" y="1643" width="26" height="11" rx="2" fill="url(#boltG)" stroke="#98a6a6" stroke-width="1.2"/>
<rect x="2178" y="1643" width="26" height="11" rx="2" fill="url(#boltG)" stroke="#98a6a6" stroke-width="1.2"/>
<rect x="2246" y="1643" width="26" height="11" rx="2" fill="url(#boltG)" stroke="#98a6a6" stroke-width="1.2"/>
<path d="M1972,602 L1958,606 Q1946,627 1958,648 L1972,652 Z" fill="#e2e9e9" stroke="#a8b6b6" stroke-width="1.5"/>
<path d="M1970,1420 L1956,1426 Q1946,1445 1956,1464 L1970,1471 Z" fill="#e2e9e9" stroke="#a8b6b6" stroke-width="1.5"/>
<path d="M2706.5,668 C2706.5,652 2713.5,647 2723.5,647 L2747.5,647 C2757.5,647 2764.5,652 2764.5,668 Z" fill="url(#nozG)" stroke="#a8b6b6" stroke-width="1.5"/>
<path d="M2576,1612 L2576,714 C2576,692 2586,681 2614,677 Q2735.5,652 2857,677 C2885,681 2895,692 2895,714 L2895,1612 Z" fill="url(#tankH)"/>
<path d="M2576,735 L2576,714 C2576,692 2586,681 2614,677 Q2735.5,652 2857,677 C2885,681 2895,692 2895,714 L2895,735 Z" fill="url(#domeV)"/>
<path d="M2578,1636 L2578,1660 Q2582,1680 2601,1686 L2713,1741 L2759,1741 L2870,1686 Q2889,1680 2893,1660 L2893,1636 Z" fill="url(#tankH)" stroke="#b0bebe" stroke-width="1.5"/>
<path d="M2601,1686 L2713,1741 L2759,1741 L2870,1686 Q2735.5,1700 2601,1686 Z" fill="#000" opacity="0.035"/>
<path d="M2713,1739 L2759,1739 L2756,1749 Q2754,1754 2749,1754 L2723,1754 Q2718,1754 2716,1749 Z" fill="#dfe7e7" stroke="#a8b6b6" stroke-width="1.5"/>
<rect x="2574" y="1607" width="323" height="33" rx="4" fill="url(#tankH)" stroke="#b0bebe" stroke-width="1.5"/>
<rect x="2575" y="1619" width="321" height="18" fill="#cfe4e6" opacity="0.75"/>
<path d="M3647.5,668 C3647.5,652 3654.5,647 3664.5,647 L3688.5,647 C3698.5,647 3705.5,652 3705.5,668 Z" fill="url(#nozG)" stroke="#a8b6b6" stroke-width="1.5"/>
<path d="M3518,1612 L3518,714 C3518,692 3528,681 3556,677 Q3676.5,652 3797,677 C3825,681 3835,692 3835,714 L3835,1612 Z" fill="url(#tankH)"/>
<path d="M3518,735 L3518,714 C3518,692 3528,681 3556,677 Q3676.5,652 3797,677 C3825,681 3835,692 3835,714 L3835,735 Z" fill="url(#domeV)"/>
<path d="M3520,1636 L3520,1660 Q3524,1680 3543,1686 L3653,1741 L3700,1741 L3810,1686 Q3829,1680 3833,1660 L3833,1636 Z" fill="url(#tankH)" stroke="#b0bebe" stroke-width="1.5"/>
<path d="M3543,1686 L3653,1741 L3700,1741 L3810,1686 Q3676.5,1700 3543,1686 Z" fill="#000" opacity="0.035"/>
<path d="M3653,1739 L3700,1739 L3697,1749 Q3695,1754 3690,1754 L3663,1754 Q3658,1754 3656,1749 Z" fill="#dfe7e7" stroke="#a8b6b6" stroke-width="1.5"/>
<rect x="3516" y="1607" width="321" height="33" rx="4" fill="url(#tankH)" stroke="#b0bebe" stroke-width="1.5"/>
<rect x="3517" y="1619" width="319" height="18" fill="#cfe4e6" opacity="0.75"/>
<path d="M3520,1422 L3506,1426 Q3494,1447 3506,1466 L3520,1470 Z" fill="#e2e9e9" stroke="#a8b6b6" stroke-width="1.5"/>
<g clip-path="url(#cw)">
<rect x="1990" y="580" width="260" height="230" fill="url(#gasBlue)"/>
<rect x="1990" y="805" width="260" height="720" fill="url(#waterG)"/>
<rect x="1990" y="815" width="260" height="710" fill="#fff" filter="url(#cW)" opacity="0.55"/>
<rect x="1990" y="815" width="260" height="710" fill="#fff" filter="url(#cW2)" opacity="0.35"/>
<path d="M1990,802 Q2030,792 2060,800 T2130,796 T2200,794 T2250,796 L2250,814 Q2200,808 2150,816 T2060,812 T1990,814 Z" fill="#e6f2f6" opacity="0.95"/>
<path d="M1990,814 Q2060,806 2120,816 T2250,812 L2250,828 L1990,828 Z" fill="#cae6ee" opacity="0.8"/>
<ellipse cx="2128" cy="1320" rx="85" ry="200" fill="url(#bglow)"/>
<circle cx="2118.8" cy="1377.3" r="7.8" fill="#ffffff" opacity="0.55" stroke="#8ad0ea" stroke-width="0.8"/>
<circle cx="2113.3" cy="1139.8" r="6.2" fill="#ffffff" opacity="0.55" stroke="#8ad0ea" stroke-width="0.8"/>
<circle cx="2148.0" cy="1447.2" r="4.4" fill="#36bfe8" opacity="0.55"/><circle cx="2146.7" cy="1445.7" r="1.6" fill="#ffffff" opacity="0.75"/>
<circle cx="2139.6" cy="1244.8" r="6.1" fill="#ffffff" opacity="0.55" stroke="#8ad0ea" stroke-width="0.8"/>
<circle cx="2129.9" cy="1219.7" r="2.6" fill="#36bfe8" opacity="0.81"/><circle cx="2129.1" cy="1218.8" r="0.9" fill="#ffffff" opacity="0.75"/>
<circle cx="2117.2" cy="1241.8" r="6.4" fill="#ffffff" opacity="0.55" stroke="#8ad0ea" stroke-width="0.8"/>
<circle cx="2149.8" cy="1273.2" r="2.9" fill="#ffffff" opacity="0.55" stroke="#8ad0ea" stroke-width="0.8"/>
<circle cx="2111.8" cy="1395.3" r="8.2" fill="#36bfe8" opacity="0.66"/><circle cx="2109.4" cy="1392.4" r="2.9" fill="#ffffff" opacity="0.75"/>
<circle cx="2130.9" cy="1222.7" r="4.7" fill="#36bfe8" opacity="0.75"/><circle cx="2129.4" cy="1221.0" r="1.6" fill="#ffffff" opacity="0.75"/>
<circle cx="2131.0" cy="1290.6" r="5.7" fill="#36bfe8" opacity="0.64"/><circle cx="2129.3" cy="1288.6" r="2.0" fill="#ffffff" opacity="0.75"/>
<circle cx="2120.5" cy="1336.8" r="6.1" fill="#ffffff" opacity="0.55" stroke="#8ad0ea" stroke-width="0.8"/>
<circle cx="2108.5" cy="1433.9" r="5.5" fill="#36bfe8" opacity="0.72"/><circle cx="2106.8" cy="1432.0" r="1.9" fill="#ffffff" opacity="0.75"/>
<circle cx="2135.9" cy="1117.3" r="6.5" fill="#ffffff" opacity="0.55" stroke="#8ad0ea" stroke-width="0.8"/>
<circle cx="2124.9" cy="1453.9" r="6.9" fill="#36bfe8" opacity="0.71"/><circle cx="2122.9" cy="1451.5" r="2.4" fill="#ffffff" opacity="0.75"/>
<circle cx="2161.0" cy="1417.0" r="5.9" fill="#36bfe8" opacity="0.83"/><circle cx="2159.3" cy="1414.9" r="2.1" fill="#ffffff" opacity="0.75"/>
<circle cx="2142.4" cy="1184.1" r="4.7" fill="#ffffff" opacity="0.55" stroke="#8ad0ea" stroke-width="0.8"/>
<circle cx="2148.9" cy="1291.3" r="3.4" fill="#36bfe8" opacity="0.57"/><circle cx="2147.9" cy="1290.1" r="1.2" fill="#ffffff" opacity="0.75"/>
<circle cx="2118.6" cy="1214.6" r="6.5" fill="#36bfe8" opacity="0.56"/><circle cx="2116.6" cy="1212.3" r="2.3" fill="#ffffff" opacity="0.75"/>
<circle cx="2082.4" cy="1467.0" r="4.7" fill="#ffffff" opacity="0.55" stroke="#8ad0ea" stroke-width="0.8"/>
<circle cx="2118.0" cy="1329.0" r="2.3" fill="#ffffff" opacity="0.55" stroke="#8ad0ea" stroke-width="0.8"/>
<circle cx="2111.4" cy="1143.2" r="5.3" fill="#ffffff" opacity="0.55" stroke="#8ad0ea" stroke-width="0.8"/>
<circle cx="2123.6" cy="1379.3" r="2.5" fill="#36bfe8" opacity="0.59"/><circle cx="2122.9" cy="1378.4" r="0.9" fill="#ffffff" opacity="0.75"/>
<circle cx="2109.2" cy="1433.9" r="8.1" fill="#ffffff" opacity="0.55" stroke="#8ad0ea" stroke-width="0.8"/>
<circle cx="2149.3" cy="1328.3" r="5.3" fill="#36bfe8" opacity="0.64"/><circle cx="2147.7" cy="1326.5" r="1.8" fill="#ffffff" opacity="0.75"/>
<circle cx="2137.7" cy="1312.6" r="8.4" fill="#ffffff" opacity="0.55" stroke="#8ad0ea" stroke-width="0.8"/>
<circle cx="2142.7" cy="1342.2" r="2.4" fill="#36bfe8" opacity="0.78"/><circle cx="2142.0" cy="1341.4" r="0.8" fill="#ffffff" opacity="0.75"/>
<circle cx="2081.2" cy="1439.3" r="5.1" fill="#ffffff" opacity="0.55" stroke="#8ad0ea" stroke-width="0.8"/>
<circle cx="2162.4" cy="1413.0" r="5.2" fill="#36bfe8" opacity="0.70"/><circle cx="2160.8" cy="1411.2" r="1.8" fill="#ffffff" opacity="0.75"/>
<circle cx="2110.5" cy="1415.5" r="7.6" fill="#36bfe8" opacity="0.55"/><circle cx="2108.2" cy="1412.8" r="2.7" fill="#ffffff" opacity="0.75"/>
<circle cx="2101.4" cy="1356.1" r="5.0" fill="#36bfe8" opacity="0.80"/><circle cx="2099.8" cy="1354.3" r="1.8" fill="#ffffff" opacity="0.75"/>
<circle cx="2129.2" cy="1383.9" r="5.3" fill="#ffffff" opacity="0.55" stroke="#8ad0ea" stroke-width="0.8"/>
<circle cx="2105.1" cy="1294.8" r="8.2" fill="#ffffff" opacity="0.55" stroke="#8ad0ea" stroke-width="0.8"/>
<circle cx="2159.6" cy="1464.6" r="2.7" fill="#ffffff" opacity="0.55" stroke="#8ad0ea" stroke-width="0.8"/>
<circle cx="2107.2" cy="1455.7" r="5.1" fill="#ffffff" opacity="0.55" stroke="#8ad0ea" stroke-width="0.8"/>
<circle cx="2145.7" cy="1405.6" r="5.0" fill="#36bfe8" opacity="0.74"/><circle cx="2144.2" cy="1403.8" r="1.7" fill="#ffffff" opacity="0.75"/>
<circle cx="2168.7" cy="1416.7" r="5.2" fill="#36bfe8" opacity="0.60"/><circle cx="2167.1" cy="1414.9" r="1.8" fill="#ffffff" opacity="0.75"/>
<circle cx="2113.4" cy="1324.5" r="4.8" fill="#36bfe8" opacity="0.69"/><circle cx="2111.9" cy="1322.8" r="1.7" fill="#ffffff" opacity="0.75"/>
<circle cx="2115.8" cy="1248.7" r="2.6" fill="#36bfe8" opacity="0.60"/><circle cx="2115.1" cy="1247.8" r="0.9" fill="#ffffff" opacity="0.75"/>
<circle cx="2145.5" cy="1234.9" r="4.8" fill="#36bfe8" opacity="0.62"/><circle cx="2144.1" cy="1233.2" r="1.7" fill="#ffffff" opacity="0.75"/>
<circle cx="2127.3" cy="1447.8" r="3.8" fill="#36bfe8" opacity="0.67"/><circle cx="2126.2" cy="1446.4" r="1.3" fill="#ffffff" opacity="0.75"/>
<circle cx="2134.9" cy="1197.5" r="4.8" fill="#36bfe8" opacity="0.71"/><circle cx="2133.5" cy="1195.8" r="1.7" fill="#ffffff" opacity="0.75"/>
<circle cx="2106.4" cy="1291.1" r="6.3" fill="#ffffff" opacity="0.55" stroke="#8ad0ea" stroke-width="0.8"/>
<circle cx="2136.9" cy="1317.5" r="2.6" fill="#36bfe8" opacity="0.72"/><circle cx="2136.1" cy="1316.6" r="0.9" fill="#ffffff" opacity="0.75"/>
<circle cx="2071.8" cy="1460.3" r="7.5" fill="#36bfe8" opacity="0.82"/><circle cx="2069.5" cy="1457.7" r="2.6" fill="#ffffff" opacity="0.75"/>
<circle cx="2138.3" cy="1100.8" r="2.6" fill="#ffffff" opacity="0.55" stroke="#8ad0ea" stroke-width="0.8"/>
<circle cx="2146.5" cy="1445.0" r="3.9" fill="#36bfe8" opacity="0.64"/><circle cx="2145.3" cy="1443.6" r="1.4" fill="#ffffff" opacity="0.75"/>
<circle cx="2052.4" cy="1463.8" r="7.5" fill="#36bfe8" opacity="0.84"/><circle cx="2050.1" cy="1461.1" r="2.6" fill="#ffffff" opacity="0.75"/>
<circle cx="2167.7" cy="1341.3" r="3.4" fill="#ffffff" opacity="0.55" stroke="#8ad0ea" stroke-width="0.8"/>
<circle cx="2116.2" cy="1340.0" r="4.8" fill="#36bfe8" opacity="0.64"/><circle cx="2114.8" cy="1338.3" r="1.7" fill="#ffffff" opacity="0.75"/>
<circle cx="2155.3" cy="1418.5" r="6.0" fill="#36bfe8" opacity="0.63"/><circle cx="2153.5" cy="1416.4" r="2.1" fill="#ffffff" opacity="0.75"/>
<circle cx="2123.8" cy="1455.2" r="2.7" fill="#ffffff" opacity="0.55" stroke="#8ad0ea" stroke-width="0.8"/>
<circle cx="2110.3" cy="1274.6" r="4.1" fill="#ffffff" opacity="0.55" stroke="#8ad0ea" stroke-width="0.8"/>
<circle cx="2121.1" cy="1372.1" r="3.4" fill="#36bfe8" opacity="0.65"/><circle cx="2120.1" cy="1370.9" r="1.2" fill="#ffffff" opacity="0.75"/>
<circle cx="2115.0" cy="1275.9" r="4.1" fill="#36bfe8" opacity="0.77"/><circle cx="2113.8" cy="1274.5" r="1.4" fill="#ffffff" opacity="0.75"/>
<circle cx="2142.5" cy="1368.5" r="6.1" fill="#ffffff" opacity="0.55" stroke="#8ad0ea" stroke-width="0.8"/>
<circle cx="2126.9" cy="1355.7" r="5.5" fill="#36bfe8" opacity="0.72"/><circle cx="2125.3" cy="1353.8" r="1.9" fill="#ffffff" opacity="0.75"/>
<circle cx="2097.1" cy="1399.9" r="7.0" fill="#36bfe8" opacity="0.81"/><circle cx="2095.0" cy="1397.4" r="2.4" fill="#ffffff" opacity="0.75"/>
<circle cx="2112.1" cy="1236.3" r="5.7" fill="#36bfe8" opacity="0.80"/><circle cx="2110.4" cy="1234.2" r="2.0" fill="#ffffff" opacity="0.75"/>
<circle cx="2098.2" cy="1396.4" r="6.1" fill="#36bfe8" opacity="0.69"/><circle cx="2096.4" cy="1394.2" r="2.1" fill="#ffffff" opacity="0.75"/>
<circle cx="2131.3" cy="1356.7" r="3.5" fill="#36bfe8" opacity="0.73"/><circle cx="2130.2" cy="1355.5" r="1.2" fill="#ffffff" opacity="0.75"/>
<circle cx="2141.0" cy="1425.9" r="8.0" fill="#ffffff" opacity="0.55" stroke="#8ad0ea" stroke-width="0.8"/>
<circle cx="2133.3" cy="1136.5" r="6.4" fill="#ffffff" opacity="0.55" stroke="#8ad0ea" stroke-width="0.8"/>
<circle cx="2176.1" cy="1398.1" r="4.9" fill="#ffffff" opacity="0.55" stroke="#8ad0ea" stroke-width="0.8"/>
<circle cx="2138.3" cy="1401.0" r="3.3" fill="#ffffff" opacity="0.55" stroke="#8ad0ea" stroke-width="0.8"/>
<circle cx="2115.1" cy="1215.0" r="4.8" fill="#36bfe8" opacity="0.58"/><circle cx="2113.7" cy="1213.3" r="1.7" fill="#ffffff" opacity="0.75"/>
<circle cx="2109.1" cy="1304.6" r="2.3" fill="#36bfe8" opacity="0.77"/><circle cx="2108.4" cy="1303.8" r="0.8" fill="#ffffff" opacity="0.75"/>
<circle cx="2142.9" cy="1441.9" r="4.7" fill="#36bfe8" opacity="0.83"/><circle cx="2141.5" cy="1440.3" r="1.6" fill="#ffffff" opacity="0.75"/>
<circle cx="2142.2" cy="1302.9" r="5.1" fill="#36bfe8" opacity="0.74"/><circle cx="2140.7" cy="1301.1" r="1.8" fill="#ffffff" opacity="0.75"/>
<circle cx="2150.6" cy="1344.1" r="3.2" fill="#36bfe8" opacity="0.63"/><circle cx="2149.6" cy="1343.0" r="1.1" fill="#ffffff" opacity="0.75"/>
<circle cx="2099.0" cy="1410.7" r="2.6" fill="#36bfe8" opacity="0.66"/><circle cx="2098.2" cy="1409.8" r="0.9" fill="#ffffff" opacity="0.75"/>
<circle cx="2141.4" cy="1407.2" r="2.4" fill="#ffffff" opacity="0.55" stroke="#8ad0ea" stroke-width="0.8"/>
<circle cx="2147.4" cy="1184.1" r="4.7" fill="#36bfe8" opacity="0.81"/><circle cx="2146.0" cy="1182.5" r="1.6" fill="#ffffff" opacity="0.75"/>
<circle cx="2102.9" cy="1336.6" r="5.3" fill="#36bfe8" opacity="0.60"/><circle cx="2101.3" cy="1334.7" r="1.8" fill="#ffffff" opacity="0.75"/>
<circle cx="2174.6" cy="1459.1" r="3.0" fill="#36bfe8" opacity="0.84"/><circle cx="2173.7" cy="1458.1" r="1.1" fill="#ffffff" opacity="0.75"/>
<circle cx="2128.0" cy="1388.6" r="3.6" fill="#36bfe8" opacity="0.65"/><circle cx="2126.9" cy="1387.3" r="1.3" fill="#ffffff" opacity="0.75"/>
<circle cx="2107.5" cy="1374.8" r="3.7" fill="#36bfe8" opacity="0.80"/><circle cx="2106.4" cy="1373.5" r="1.3" fill="#ffffff" opacity="0.75"/>
<circle cx="2131.6" cy="1384.0" r="7.3" fill="#36bfe8" opacity="0.72"/><circle cx="2129.4" cy="1381.5" r="2.6" fill="#ffffff" opacity="0.75"/>
<circle cx="2089.1" cy="1408.1" r="2.4" fill="#36bfe8" opacity="0.61"/><circle cx="2088.4" cy="1407.2" r="0.9" fill="#ffffff" opacity="0.75"/>
<circle cx="2139.1" cy="1148.9" r="2.0" fill="#36bfe8" opacity="0.82"/><circle cx="2138.5" cy="1148.2" r="0.7" fill="#ffffff" opacity="0.75"/>
<circle cx="2100.6" cy="1376.3" r="4.1" fill="#36bfe8" opacity="0.60"/><circle cx="2099.3" cy="1374.9" r="1.4" fill="#ffffff" opacity="0.75"/>
<circle cx="2116.2" cy="1219.4" r="6.4" fill="#36bfe8" opacity="0.63"/><circle cx="2114.3" cy="1217.2" r="2.2" fill="#ffffff" opacity="0.75"/>
<circle cx="2138.5" cy="1220.6" r="3.1" fill="#36bfe8" opacity="0.56"/><circle cx="2137.6" cy="1219.5" r="1.1" fill="#ffffff" opacity="0.75"/>
<circle cx="2063.2" cy="1452.8" r="5.0" fill="#36bfe8" opacity="0.83"/><circle cx="2061.6" cy="1451.0" r="1.8" fill="#ffffff" opacity="0.75"/>
<circle cx="2152.9" cy="1199.0" r="3.3" fill="#ffffff" opacity="0.55" stroke="#8ad0ea" stroke-width="0.8"/>
<circle cx="2131.1" cy="1405.3" r="3.0" fill="#36bfe8" opacity="0.67"/><circle cx="2130.2" cy="1404.2" r="1.1" fill="#ffffff" opacity="0.75"/>
<circle cx="2138.6" cy="1464.0" r="3.4" fill="#36bfe8" opacity="0.63"/><circle cx="2137.6" cy="1462.8" r="1.2" fill="#ffffff" opacity="0.75"/>
<circle cx="2116.7" cy="1406.1" r="5.0" fill="#ffffff" opacity="0.55" stroke="#8ad0ea" stroke-width="0.8"/>
<circle cx="2104.2" cy="1383.5" r="6.4" fill="#36bfe8" opacity="0.57"/><circle cx="2102.3" cy="1381.2" r="2.2" fill="#ffffff" opacity="0.75"/>
<circle cx="2111.8" cy="1417.9" r="6.5" fill="#36bfe8" opacity="0.66"/><circle cx="2109.9" cy="1415.6" r="2.3" fill="#ffffff" opacity="0.75"/>
<circle cx="2130.8" cy="1185.7" r="6.0" fill="#36bfe8" opacity="0.83"/><circle cx="2129.0" cy="1183.5" r="2.1" fill="#ffffff" opacity="0.75"/>
<circle cx="2129.7" cy="1159.9" r="2.3" fill="#36bfe8" opacity="0.67"/><circle cx="2129.0" cy="1159.1" r="0.8" fill="#ffffff" opacity="0.75"/>
<circle cx="2131.8" cy="1279.3" r="2.2" fill="#ffffff" opacity="0.55" stroke="#8ad0ea" stroke-width="0.8"/>
<circle cx="2110.1" cy="1228.8" r="2.4" fill="#36bfe8" opacity="0.58"/><circle cx="2109.4" cy="1227.9" r="0.8" fill="#ffffff" opacity="0.75"/>
<circle cx="2120.8" cy="1354.7" r="7.5" fill="#ffffff" opacity="0.55" stroke="#8ad0ea" stroke-width="0.8"/>
<circle cx="2148.6" cy="1243.9" r="4.6" fill="#36bfe8" opacity="0.74"/><circle cx="2147.2" cy="1242.3" r="1.6" fill="#ffffff" opacity="0.75"/>
<circle cx="2124.6" cy="1404.4" r="6.8" fill="#36bfe8" opacity="0.80"/><circle cx="2122.6" cy="1402.0" r="2.4" fill="#ffffff" opacity="0.75"/>
<circle cx="2138.1" cy="1247.8" r="5.5" fill="#ffffff" opacity="0.55" stroke="#8ad0ea" stroke-width="0.8"/>
<circle cx="2137.1" cy="1281.7" r="2.4" fill="#36bfe8" opacity="0.58"/><circle cx="2136.3" cy="1280.9" r="0.8" fill="#ffffff" opacity="0.75"/>
<circle cx="2107.6" cy="1320.6" r="5.2" fill="#36bfe8" opacity="0.61"/><circle cx="2106.1" cy="1318.8" r="1.8" fill="#ffffff" opacity="0.75"/>
<circle cx="2118.4" cy="1272.0" r="2.4" fill="#36bfe8" opacity="0.64"/><circle cx="2117.6" cy="1271.1" r="0.9" fill="#ffffff" opacity="0.75"/>
<circle cx="2057.7" cy="1411.1" r="5.4" fill="#36bfe8" opacity="0.68"/><circle cx="2056.1" cy="1409.2" r="1.9" fill="#ffffff" opacity="0.75"/>
<circle cx="2095.7" cy="1427.1" r="6.3" fill="#ffffff" opacity="0.55" stroke="#8ad0ea" stroke-width="0.8"/>
<circle cx="2114.5" cy="1398.1" r="2.6" fill="#36bfe8" opacity="0.60"/><circle cx="2113.8" cy="1397.2" r="0.9" fill="#ffffff" opacity="0.75"/>
<circle cx="2161.1" cy="1263.1" r="3.3" fill="#36bfe8" opacity="0.78"/><circle cx="2160.1" cy="1262.0" r="1.1" fill="#ffffff" opacity="0.75"/>
<circle cx="2130.8" cy="1359.0" r="3.6" fill="#ffffff" opacity="0.55" stroke="#8ad0ea" stroke-width="0.8"/>
<circle cx="2120.4" cy="1458.5" r="3.0" fill="#36bfe8" opacity="0.66"/><circle cx="2119.5" cy="1457.4" r="1.1" fill="#ffffff" opacity="0.75"/>
<circle cx="2153.1" cy="1287.9" r="7.8" fill="#36bfe8" opacity="0.71"/><circle cx="2150.8" cy="1285.2" r="2.7" fill="#ffffff" opacity="0.75"/>
<circle cx="2128.8" cy="1225.1" r="4.0" fill="#ffffff" opacity="0.55" stroke="#8ad0ea" stroke-width="0.8"/>
<circle cx="2140.5" cy="1421.7" r="7.2" fill="#36bfe8" opacity="0.68"/><circle cx="2138.3" cy="1419.2" r="2.5" fill="#ffffff" opacity="0.75"/>
<circle cx="2138.7" cy="1414.9" r="7.3" fill="#ffffff" opacity="0.55" stroke="#8ad0ea" stroke-width="0.8"/>
<circle cx="2162.6" cy="1369.9" r="2.2" fill="#ffffff" opacity="0.55" stroke="#8ad0ea" stroke-width="0.8"/>
<circle cx="2141.2" cy="1143.3" r="4.2" fill="#ffffff" opacity="0.55" stroke="#8ad0ea" stroke-width="0.8"/>
<circle cx="2128.0" cy="1309.0" r="4.5" fill="#36bfe8" opacity="0.78"/><circle cx="2126.6" cy="1307.4" r="1.6" fill="#ffffff" opacity="0.75"/>
<circle cx="2140.8" cy="1254.9" r="3.1" fill="#ffffff" opacity="0.55" stroke="#8ad0ea" stroke-width="0.8"/>
<circle cx="2146.3" cy="1432.8" r="2.6" fill="#ffffff" opacity="0.55" stroke="#8ad0ea" stroke-width="0.8"/>
<circle cx="2094.2" cy="1339.5" r="2.8" fill="#36bfe8" opacity="0.77"/><circle cx="2093.3" cy="1338.5" r="1.0" fill="#ffffff" opacity="0.75"/>
<circle cx="2138.0" cy="1447.1" r="5.1" fill="#ffffff" opacity="0.55" stroke="#8ad0ea" stroke-width="0.8"/>
<circle cx="2169.9" cy="1377.3" r="6.9" fill="#36bfe8" opacity="0.70"/><circle cx="2167.9" cy="1374.9" r="2.4" fill="#ffffff" opacity="0.75"/>
<circle cx="2132.8" cy="1367.3" r="2.1" fill="#36bfe8" opacity="0.66"/><circle cx="2132.2" cy="1366.6" r="0.7" fill="#ffffff" opacity="0.75"/>
<circle cx="2146.0" cy="1335.2" r="3.8" fill="#ffffff" opacity="0.55" stroke="#8ad0ea" stroke-width="0.8"/>
<circle cx="2164.0" cy="1426.8" r="4.4" fill="#ffffff" opacity="0.55" stroke="#8ad0ea" stroke-width="0.8"/>
<circle cx="2108.6" cy="1299.1" r="5.1" fill="#36bfe8" opacity="0.64"/><circle cx="2107.1" cy="1297.3" r="1.8" fill="#ffffff" opacity="0.75"/>
<circle cx="2139.0" cy="1176.0" r="5.4" fill="#ffffff" opacity="0.55" stroke="#8ad0ea" stroke-width="0.8"/>
<circle cx="2135.3" cy="1279.6" r="6.7" fill="#ffffff" opacity="0.55" stroke="#8ad0ea" stroke-width="0.8"/>
<circle cx="2129.5" cy="1172.4" r="8.2" fill="#ffffff" opacity="0.55" stroke="#8ad0ea" stroke-width="0.8"/>
<circle cx="2070.3" cy="1432.3" r="4.7" fill="#36bfe8" opacity="0.71"/><circle cx="2068.9" cy="1430.7" r="1.7" fill="#ffffff" opacity="0.75"/>
<circle cx="2125.2" cy="1446.1" r="3.8" fill="#36bfe8" opacity="0.67"/><circle cx="2124.1" cy="1444.8" r="1.3" fill="#ffffff" opacity="0.75"/>
<circle cx="2172.1" cy="1228.2" r="6.0" fill="#ffffff" opacity="0.55" stroke="#8ad0ea" stroke-width="0.8"/>
<circle cx="2111.2" cy="1374.7" r="4.5" fill="#ffffff" opacity="0.55" stroke="#8ad0ea" stroke-width="0.8"/>
<circle cx="2131.3" cy="1302.9" r="6.5" fill="#36bfe8" opacity="0.63"/><circle cx="2129.4" cy="1300.6" r="2.3" fill="#ffffff" opacity="0.75"/>
<circle cx="2135.3" cy="1377.1" r="5.4" fill="#36bfe8" opacity="0.57"/><circle cx="2133.6" cy="1375.2" r="1.9" fill="#ffffff" opacity="0.75"/>
<circle cx="2112.1" cy="1361.5" r="8.2" fill="#ffffff" opacity="0.55" stroke="#8ad0ea" stroke-width="0.8"/>
<circle cx="2097.7" cy="1316.8" r="6.8" fill="#36bfe8" opacity="0.73"/><circle cx="2095.7" cy="1314.5" r="2.4" fill="#ffffff" opacity="0.75"/>
<circle cx="2137.9" cy="1462.4" r="2.1" fill="#36bfe8" opacity="0.72"/><circle cx="2137.3" cy="1461.7" r="0.7" fill="#ffffff" opacity="0.75"/>
<circle cx="2129.0" cy="1372.0" r="4.9" fill="#ffffff" opacity="0.55" stroke="#8ad0ea" stroke-width="0.8"/>
<circle cx="2138.7" cy="1405.2" r="4.2" fill="#ffffff" opacity="0.55" stroke="#8ad0ea" stroke-width="0.8"/>
<circle cx="2089.7" cy="1460.3" r="6.2" fill="#36bfe8" opacity="0.76"/><circle cx="2087.9" cy="1458.1" r="2.2" fill="#ffffff" opacity="0.75"/>
<circle cx="2177.9" cy="1432.9" r="2.5" fill="#36bfe8" opacity="0.60"/><circle cx="2177.2" cy="1432.1" r="0.9" fill="#ffffff" opacity="0.75"/>
<circle cx="2139.2" cy="1185.1" r="5.4" fill="#ffffff" opacity="0.55" stroke="#8ad0ea" stroke-width="0.8"/>
<circle cx="2156.4" cy="1427.0" r="7.8" fill="#ffffff" opacity="0.55" stroke="#8ad0ea" stroke-width="0.8"/>
<circle cx="2053.9" cy="1460.2" r="2.5" fill="#36bfe8" opacity="0.61"/><circle cx="2053.2" cy="1459.4" r="0.9" fill="#ffffff" opacity="0.75"/>
<circle cx="2082.7" cy="1303.0" r="5.1" fill="#ffffff" opacity="0.55" stroke="#8ad0ea" stroke-width="0.8"/>
<circle cx="2115.7" cy="1179.7" r="2.5" fill="#36bfe8" opacity="0.66"/><circle cx="2114.9" cy="1178.8" r="0.9" fill="#ffffff" opacity="0.75"/>
<circle cx="2142.2" cy="1393.5" r="6.3" fill="#ffffff" opacity="0.55" stroke="#8ad0ea" stroke-width="0.8"/>
<circle cx="2130.3" cy="1172.5" r="2.5" fill="#36bfe8" opacity="0.66"/><circle cx="2129.5" cy="1171.6" r="0.9" fill="#ffffff" opacity="0.75"/>
<circle cx="2070.9" cy="1407.3" r="7.0" fill="#36bfe8" opacity="0.70"/><circle cx="2068.8" cy="1404.9" r="2.4" fill="#ffffff" opacity="0.75"/>
<circle cx="2130.3" cy="1396.9" r="3.5" fill="#ffffff" opacity="0.55" stroke="#8ad0ea" stroke-width="0.8"/>
<circle cx="2089.2" cy="1348.1" r="3.9" fill="#36bfe8" opacity="0.75"/><circle cx="2088.0" cy="1346.7" r="1.4" fill="#ffffff" opacity="0.75"/>
<circle cx="2128.4" cy="1173.2" r="6.4" fill="#36bfe8" opacity="0.67"/><circle cx="2126.4" cy="1171.0" r="2.3" fill="#ffffff" opacity="0.75"/>
<circle cx="2134.1" cy="1454.9" r="3.6" fill="#ffffff" opacity="0.55" stroke="#8ad0ea" stroke-width="0.8"/>
<circle cx="2132.1" cy="1110.8" r="3.1" fill="#36bfe8" opacity="0.66"/><circle cx="2131.2" cy="1109.7" r="1.1" fill="#ffffff" opacity="0.75"/>
<circle cx="2097.9" cy="1347.4" r="3.0" fill="#ffffff" opacity="0.55" stroke="#8ad0ea" stroke-width="0.8"/>
<circle cx="2113.3" cy="1325.0" r="6.3" fill="#ffffff" opacity="0.55" stroke="#8ad0ea" stroke-width="0.8"/>
<circle cx="2124.6" cy="1344.7" r="3.8" fill="#ffffff" opacity="0.55" stroke="#8ad0ea" stroke-width="0.8"/>
<circle cx="2080.1" cy="1322.5" r="4.9" fill="#36bfe8" opacity="0.56"/><circle cx="2078.6" cy="1320.8" r="1.7" fill="#ffffff" opacity="0.75"/>
<circle cx="2082.2" cy="1415.5" r="5.9" fill="#ffffff" opacity="0.55" stroke="#8ad0ea" stroke-width="0.8"/>
<circle cx="2025.8" cy="1450.6" r="6.0" fill="#36bfe8" opacity="0.78"/><circle cx="2024.0" cy="1448.5" r="2.1" fill="#ffffff" opacity="0.75"/>
<circle cx="2185.2" cy="1318.5" r="8.5" fill="#36bfe8" opacity="0.68"/><circle cx="2182.7" cy="1315.5" r="3.0" fill="#ffffff" opacity="0.75"/>
<circle cx="2109.7" cy="1266.3" r="2.6" fill="#36bfe8" opacity="0.69"/><circle cx="2108.9" cy="1265.4" r="0.9" fill="#ffffff" opacity="0.75"/>
<circle cx="2131.0" cy="1173.6" r="6.0" fill="#ffffff" opacity="0.55" stroke="#8ad0ea" stroke-width="0.8"/>
<circle cx="2159.0" cy="1236.3" r="7.5" fill="#36bfe8" opacity="0.62"/><circle cx="2156.7" cy="1233.7" r="2.6" fill="#ffffff" opacity="0.75"/>
<circle cx="2126.2" cy="1451.7" r="6.1" fill="#36bfe8" opacity="0.68"/><circle cx="2124.4" cy="1449.6" r="2.1" fill="#ffffff" opacity="0.75"/>
<circle cx="2126.1" cy="1264.7" r="2.7" fill="#36bfe8" opacity="0.84"/><circle cx="2125.3" cy="1263.7" r="0.9" fill="#ffffff" opacity="0.75"/>
<circle cx="2091.4" cy="1398.3" r="2.5" fill="#ffffff" opacity="0.55" stroke="#8ad0ea" stroke-width="0.8"/>
<circle cx="2106.7" cy="1303.2" r="6.3" fill="#36bfe8" opacity="0.72"/><circle cx="2104.8" cy="1301.0" r="2.2" fill="#ffffff" opacity="0.75"/>
<circle cx="2142.0" cy="1263.3" r="5.3" fill="#36bfe8" opacity="0.69"/><circle cx="2140.4" cy="1261.4" r="1.9" fill="#ffffff" opacity="0.75"/>
<circle cx="2172.7" cy="1399.2" r="4.3" fill="#36bfe8" opacity="0.79"/><circle cx="2171.4" cy="1397.8" r="1.5" fill="#ffffff" opacity="0.75"/>
<circle cx="2130.5" cy="1161.6" r="2.2" fill="#36bfe8" opacity="0.65"/><circle cx="2129.9" cy="1160.8" r="0.8" fill="#ffffff" opacity="0.75"/>
<circle cx="2127.7" cy="1132.3" r="6.2" fill="#36bfe8" opacity="0.71"/><circle cx="2125.9" cy="1130.2" r="2.2" fill="#ffffff" opacity="0.75"/>
<circle cx="2152.4" cy="1401.2" r="8.4" fill="#ffffff" opacity="0.55" stroke="#8ad0ea" stroke-width="0.8"/>
</g>
<path d="M2123,591 C2135.32,590.44 2191.04,604.88 2198,608 C2204.96,611.12 2206.96,615.6 2210,630 C2213.04,644.4 2234.24,763.92 2236,788 C2237.76,812.08 2233.2,907.48 2232,931 C2230.8,954.52 2220.36,1056.72 2221,1082 C2221.64,1107.28 2239.44,1218.12 2240,1247 C2240.56,1275.88 2230.72,1423.08 2228,1443 C2225.28,1462.92 2212.32,1490.24 2206,1496 C2199.68,1501.76 2161.08,1514.44 2149,1515 C2136.92,1515.56 2064.92,1506.36 2055,1503 C2045.08,1499.64 2028.6,1480.2 2025,1473 C2021.4,1465.8 2010.32,1425 2010,1413 C2009.68,1401 2019.8,1336.28 2021,1323 C2022.2,1309.72 2024.68,1265.08 2025,1247 C2025.32,1228.92 2026.2,1115 2025,1097 C2023.8,1079 2012.08,1037.04 2010,1022 C2007.92,1006.96 1999.88,927.08 1999,909 C1998.12,890.92 1998.84,810.8 1999,796 C1999.16,781.2 1998.6,734.88 2001,724 C2003.4,713.12 2025.56,668.72 2029,660 C2032.44,651.28 2036.48,620.52 2044,615 C2051.52,609.48 2110.68,591.56 2123,591 Z" fill="none" stroke="url(#winStroke)" stroke-width="8"/>
<path d="M2089.5,768 L2089.5,700 L2107.5,706 L2082,660 L2056.5,706 L2074.5,700 L2074.5,768 Z" fill="url(#ag1)"/>
<path d="M2170.5,768 L2170.5,700 L2188.5,706 L2163,660 L2137.5,706 L2155.5,700 L2155.5,768 Z" fill="url(#ag2)"/>
<g clip-path="url(#cs)">
<rect x="2610" y="735" width="245" height="175" fill="url(#gasCyan)"/>
<rect x="2610" y="904" width="245" height="590" fill="url(#redG)"/>
<rect x="2610" y="915" width="245" height="575" fill="#fff" filter="url(#cR)" opacity="0.32"/>
<rect x="2700" y="920" width="50" height="570" fill="#ff9070" opacity="0.06"/>
<path d="M2610,904 Q2740,902 2855,903 L2855,910 Q2740,910 2610,913 Z" fill="#e45c5a"/><path d="M2610,905 Q2740,903 2855,904" stroke="#f2a8a4" stroke-width="3" fill="none"/>
</g>
<path d="M2738,744 C2748.96,742.48 2784.28,746.72 2791,748 C2797.72,749.28 2818.64,755.68 2822,760 C2825.36,764.32 2831.56,789.92 2833,802 C2834.44,814.08 2839.76,892.76 2840,911 C2840.24,929.24 2835.76,1009.36 2836,1030 C2836.24,1050.64 2842.12,1146.68 2843,1169 C2843.88,1191.32 2847.24,1288.84 2847,1309 C2846.76,1329.16 2845.04,1408.68 2840,1421 C2834.96,1433.32 2791.6,1458.28 2784,1463 C2776.4,1467.72 2754.52,1481.44 2745,1480 C2735.48,1478.56 2673.96,1450.28 2665,1445 C2656.04,1439.72 2636.12,1424.88 2633,1414 C2629.88,1403.12 2626.24,1323 2626,1309 C2625.76,1295 2628.88,1251.32 2630,1239 C2631.12,1226.68 2640,1169 2640,1155 C2640,1141 2631.52,1083.52 2630,1064 C2628.48,1044.48 2621.32,926.6 2621,911 C2620.68,895.4 2623.36,880.52 2626,869 C2628.64,857.48 2645.04,777 2654,767 C2662.96,757 2727.04,745.52 2738,744 Z" fill="none" stroke="url(#winStroke)" stroke-width="8"/>
<rect x="2723" y="742" width="30" height="25" fill="url(#cylH)" stroke="#7e8c8c" stroke-width="1.5"/><ellipse cx="2738" cy="766" rx="15" ry="4" fill="#bfeaf2" stroke="#8e9c9c"/>
<path d="M2730.5,770 L2730.5,842 L2712,836 L2738,884 L2764,836 L2745.5,842 L2745.5,770 Z" fill="url(#ag3)"/>
<g clip-path="url(#ck)">
<rect x="3555" y="715" width="250" height="200" fill="url(#gasCyan)"/>
<rect x="3555" y="910" width="250" height="645" fill="url(#beerG)"/>
<rect x="3555" y="918" width="250" height="640" fill="#fff" filter="url(#cB)" opacity="0.55"/>
<circle cx="3650.9" cy="1212.1" r="2.0" fill="#ea8a1c" opacity="0.70"/><circle cx="3650.5" cy="1211.6" r="1.0" fill="#ffe27c" opacity="0.85"/>
<circle cx="3720.6" cy="1040.4" r="3.0" fill="#ea8a1c" opacity="0.70"/><circle cx="3720.0" cy="1039.7" r="1.5" fill="#ffe27c" opacity="0.85"/>
<circle cx="3771.6" cy="1236.7" r="2.0" fill="#ea8a1c" opacity="0.70"/><circle cx="3771.2" cy="1236.2" r="1.0" fill="#ffe27c" opacity="0.85"/>
<circle cx="3780.4" cy="1132.1" r="7.0" fill="#ea8a1c" opacity="0.90"/><circle cx="3779.0" cy="1130.3" r="3.5" fill="#ffe27c" opacity="0.85"/>
<circle cx="3652.2" cy="950.4" r="7.0" fill="#ea8a1c" opacity="0.90"/><circle cx="3650.8" cy="948.6" r="3.5" fill="#ffe27c" opacity="0.85"/>
<circle cx="3783.8" cy="1511.7" r="3.0" fill="#ea8a1c" opacity="0.70"/><circle cx="3783.2" cy="1510.9" r="1.5" fill="#ffe27c" opacity="0.85"/>
<circle cx="3619.7" cy="1022.4" r="2.0" fill="#ea8a1c" opacity="0.70"/><circle cx="3619.3" cy="1021.9" r="1.0" fill="#ffe27c" opacity="0.85"/>
<circle cx="3765.5" cy="1007.1" r="5.0" fill="#ea8a1c" opacity="0.90"/><circle cx="3764.5" cy="1005.9" r="2.5" fill="#ffe27c" opacity="0.85"/>
<circle cx="3723.3" cy="964.3" r="7.0" fill="#ea8a1c" opacity="0.90"/><circle cx="3721.9" cy="962.5" r="3.5" fill="#ffe27c" opacity="0.85"/>
<circle cx="3776.4" cy="1475.1" r="2.5" fill="#ea8a1c" opacity="0.70"/><circle cx="3775.9" cy="1474.5" r="1.2" fill="#ffe27c" opacity="0.85"/>
<circle cx="3731.9" cy="1343.0" r="3.0" fill="#ea8a1c" opacity="0.70"/><circle cx="3731.3" cy="1342.3" r="1.5" fill="#ffe27c" opacity="0.85"/>
<circle cx="3742.7" cy="1476.5" r="2.5" fill="#ea8a1c" opacity="0.70"/><circle cx="3742.2" cy="1475.9" r="1.2" fill="#ffe27c" opacity="0.85"/>
<circle cx="3643.6" cy="1170.9" r="1.5" fill="#ea8a1c" opacity="0.70"/><circle cx="3643.3" cy="1170.5" r="0.8" fill="#ffe27c" opacity="0.85"/>
<circle cx="3768.9" cy="1048.7" r="3.0" fill="#ea8a1c" opacity="0.70"/><circle cx="3768.3" cy="1047.9" r="1.5" fill="#ffe27c" opacity="0.85"/>
<circle cx="3652.1" cy="959.0" r="3.5" fill="#ea8a1c" opacity="0.70"/><circle cx="3651.4" cy="958.1" r="1.8" fill="#ffe27c" opacity="0.85"/>
<circle cx="3619.4" cy="1011.3" r="7.0" fill="#ea8a1c" opacity="0.90"/><circle cx="3618.0" cy="1009.5" r="3.5" fill="#ffe27c" opacity="0.85"/>
<circle cx="3590.8" cy="1487.0" r="5.0" fill="#ea8a1c" opacity="0.90"/><circle cx="3589.8" cy="1485.7" r="2.5" fill="#ffe27c" opacity="0.85"/>
<circle cx="3740.8" cy="927.4" r="2.5" fill="#ea8a1c" opacity="0.70"/><circle cx="3740.3" cy="926.8" r="1.2" fill="#ffe27c" opacity="0.85"/>
<circle cx="3611.7" cy="1480.1" r="1.5" fill="#ea8a1c" opacity="0.70"/><circle cx="3611.4" cy="1479.7" r="0.8" fill="#ffe27c" opacity="0.85"/>
<circle cx="3595.6" cy="1478.3" r="1.5" fill="#ea8a1c" opacity="0.70"/><circle cx="3595.3" cy="1478.0" r="0.8" fill="#ffe27c" opacity="0.85"/>
<circle cx="3696.8" cy="1235.5" r="4.0" fill="#ea8a1c" opacity="0.70"/><circle cx="3696.0" cy="1234.5" r="2.0" fill="#ffe27c" opacity="0.85"/>
<circle cx="3661.6" cy="1496.0" r="3.0" fill="#ea8a1c" opacity="0.70"/><circle cx="3661.0" cy="1495.2" r="1.5" fill="#ffe27c" opacity="0.85"/>
<circle cx="3740.9" cy="1044.1" r="7.0" fill="#ea8a1c" opacity="0.90"/><circle cx="3739.5" cy="1042.4" r="3.5" fill="#ffe27c" opacity="0.85"/>
<circle cx="3604.7" cy="1284.5" r="5.0" fill="#ea8a1c" opacity="0.90"/><circle cx="3603.7" cy="1283.2" r="2.5" fill="#ffe27c" opacity="0.85"/>
<circle cx="3574.5" cy="1371.2" r="2.5" fill="#ea8a1c" opacity="0.70"/><circle cx="3574.0" cy="1370.5" r="1.2" fill="#ffe27c" opacity="0.85"/>
<circle cx="3704.5" cy="1269.1" r="2.0" fill="#ea8a1c" opacity="0.70"/><circle cx="3704.1" cy="1268.6" r="1.0" fill="#ffe27c" opacity="0.85"/>
<circle cx="3734.5" cy="1387.0" r="5.0" fill="#ea8a1c" opacity="0.90"/><circle cx="3733.5" cy="1385.7" r="2.5" fill="#ffe27c" opacity="0.85"/>
<circle cx="3592.9" cy="1543.7" r="7.0" fill="#ea8a1c" opacity="0.90"/><circle cx="3591.5" cy="1542.0" r="3.5" fill="#ffe27c" opacity="0.85"/>
<circle cx="3773.4" cy="1174.5" r="2.0" fill="#ea8a1c" opacity="0.70"/><circle cx="3773.0" cy="1174.0" r="1.0" fill="#ffe27c" opacity="0.85"/>
<circle cx="3574.9" cy="1303.9" r="3.0" fill="#ea8a1c" opacity="0.70"/><circle cx="3574.3" cy="1303.1" r="1.5" fill="#ffe27c" opacity="0.85"/>
<circle cx="3685.1" cy="1449.3" r="5.0" fill="#ea8a1c" opacity="0.90"/><circle cx="3684.1" cy="1448.1" r="2.5" fill="#ffe27c" opacity="0.85"/>
<circle cx="3584.9" cy="1405.3" r="3.0" fill="#ea8a1c" opacity="0.70"/><circle cx="3584.3" cy="1404.5" r="1.5" fill="#ffe27c" opacity="0.85"/>
<circle cx="3767.8" cy="993.2" r="3.0" fill="#ea8a1c" opacity="0.70"/><circle cx="3767.2" cy="992.4" r="1.5" fill="#ffe27c" opacity="0.85"/>
<circle cx="3657.5" cy="1204.8" r="5.0" fill="#ea8a1c" opacity="0.90"/><circle cx="3656.5" cy="1203.6" r="2.5" fill="#ffe27c" opacity="0.85"/>
<circle cx="3652.2" cy="1387.3" r="5.0" fill="#ea8a1c" opacity="0.90"/><circle cx="3651.2" cy="1386.1" r="2.5" fill="#ffe27c" opacity="0.85"/>
<circle cx="3664.7" cy="1128.8" r="2.5" fill="#ea8a1c" opacity="0.70"/><circle cx="3664.2" cy="1128.2" r="1.2" fill="#ffe27c" opacity="0.85"/>
<circle cx="3627.0" cy="1062.5" r="2.0" fill="#ea8a1c" opacity="0.70"/><circle cx="3626.6" cy="1062.0" r="1.0" fill="#ffe27c" opacity="0.85"/>
<circle cx="3630.5" cy="1115.4" r="4.0" fill="#ea8a1c" opacity="0.70"/><circle cx="3629.7" cy="1114.4" r="2.0" fill="#ffe27c" opacity="0.85"/>
<circle cx="3570.8" cy="1411.1" r="4.0" fill="#ea8a1c" opacity="0.70"/><circle cx="3570.0" cy="1410.1" r="2.0" fill="#ffe27c" opacity="0.85"/>
<circle cx="3679.4" cy="1425.7" r="7.0" fill="#ea8a1c" opacity="0.90"/><circle cx="3678.0" cy="1423.9" r="3.5" fill="#ffe27c" opacity="0.85"/>
<circle cx="3695.2" cy="1407.2" r="2.0" fill="#ea8a1c" opacity="0.70"/><circle cx="3694.8" cy="1406.7" r="1.0" fill="#ffe27c" opacity="0.85"/>
<circle cx="3618.1" cy="1188.5" r="3.0" fill="#ea8a1c" opacity="0.70"/><circle cx="3617.5" cy="1187.8" r="1.5" fill="#ffe27c" opacity="0.85"/>
<circle cx="3784.8" cy="1241.1" r="4.0" fill="#ea8a1c" opacity="0.70"/><circle cx="3784.0" cy="1240.1" r="2.0" fill="#ffe27c" opacity="0.85"/>
<circle cx="3718.5" cy="1154.0" r="2.0" fill="#ea8a1c" opacity="0.70"/><circle cx="3718.1" cy="1153.5" r="1.0" fill="#ffe27c" opacity="0.85"/>
<circle cx="3766.4" cy="1354.4" r="1.5" fill="#ea8a1c" opacity="0.70"/><circle cx="3766.1" cy="1354.1" r="0.8" fill="#ffe27c" opacity="0.85"/>
<circle cx="3789.3" cy="956.3" r="2.0" fill="#ea8a1c" opacity="0.70"/><circle cx="3788.9" cy="955.8" r="1.0" fill="#ffe27c" opacity="0.85"/>
<circle cx="3602.8" cy="1088.0" r="2.0" fill="#ea8a1c" opacity="0.70"/><circle cx="3602.4" cy="1087.5" r="1.0" fill="#ffe27c" opacity="0.85"/>
<circle cx="3567.7" cy="1301.1" r="1.5" fill="#ea8a1c" opacity="0.70"/><circle cx="3567.4" cy="1300.7" r="0.8" fill="#ffe27c" opacity="0.85"/>
<circle cx="3745.9" cy="1204.3" r="2.5" fill="#ea8a1c" opacity="0.70"/><circle cx="3745.4" cy="1203.6" r="1.2" fill="#ffe27c" opacity="0.85"/>
<circle cx="3787.3" cy="1304.2" r="3.0" fill="#ea8a1c" opacity="0.70"/><circle cx="3786.7" cy="1303.4" r="1.5" fill="#ffe27c" opacity="0.85"/>
<circle cx="3675.6" cy="1101.7" r="2.5" fill="#ea8a1c" opacity="0.70"/><circle cx="3675.1" cy="1101.1" r="1.2" fill="#ffe27c" opacity="0.85"/>
<circle cx="3584.9" cy="1010.1" r="4.0" fill="#ea8a1c" opacity="0.70"/><circle cx="3584.1" cy="1009.1" r="2.0" fill="#ffe27c" opacity="0.85"/>
<circle cx="3592.1" cy="1108.5" r="3.0" fill="#ea8a1c" opacity="0.70"/><circle cx="3591.5" cy="1107.8" r="1.5" fill="#ffe27c" opacity="0.85"/>
<circle cx="3726.9" cy="1204.9" r="3.0" fill="#ea8a1c" opacity="0.70"/><circle cx="3726.3" cy="1204.1" r="1.5" fill="#ffe27c" opacity="0.85"/>
<circle cx="3749.6" cy="1289.7" r="6.0" fill="#ea8a1c" opacity="0.90"/><circle cx="3748.4" cy="1288.2" r="3.0" fill="#ffe27c" opacity="0.85"/>
<circle cx="3742.5" cy="1368.6" r="5.0" fill="#ea8a1c" opacity="0.90"/><circle cx="3741.5" cy="1367.3" r="2.5" fill="#ffe27c" opacity="0.85"/>
<circle cx="3587.8" cy="1231.6" r="1.5" fill="#ea8a1c" opacity="0.70"/><circle cx="3587.5" cy="1231.2" r="0.8" fill="#ffe27c" opacity="0.85"/>
<circle cx="3594.5" cy="1096.6" r="6.0" fill="#ea8a1c" opacity="0.90"/><circle cx="3593.3" cy="1095.1" r="3.0" fill="#ffe27c" opacity="0.85"/>
<circle cx="3602.3" cy="1433.6" r="2.5" fill="#ea8a1c" opacity="0.70"/><circle cx="3601.8" cy="1433.0" r="1.2" fill="#ffe27c" opacity="0.85"/>
<circle cx="3611.7" cy="1457.6" r="3.5" fill="#ea8a1c" opacity="0.70"/><circle cx="3611.0" cy="1456.8" r="1.8" fill="#ffe27c" opacity="0.85"/>
<circle cx="3693.6" cy="1208.2" r="3.0" fill="#ea8a1c" opacity="0.70"/><circle cx="3693.0" cy="1207.4" r="1.5" fill="#ffe27c" opacity="0.85"/>
<circle cx="3691.2" cy="976.6" r="5.0" fill="#ea8a1c" opacity="0.90"/><circle cx="3690.2" cy="975.3" r="2.5" fill="#ffe27c" opacity="0.85"/>
<circle cx="3688.1" cy="1511.8" r="6.0" fill="#ea8a1c" opacity="0.90"/><circle cx="3686.9" cy="1510.3" r="3.0" fill="#ffe27c" opacity="0.85"/>
<circle cx="3793.4" cy="942.8" r="3.0" fill="#ea8a1c" opacity="0.70"/><circle cx="3792.8" cy="942.1" r="1.5" fill="#ffe27c" opacity="0.85"/>
<circle cx="3685.4" cy="1262.5" r="4.0" fill="#ea8a1c" opacity="0.70"/><circle cx="3684.6" cy="1261.5" r="2.0" fill="#ffe27c" opacity="0.85"/>
<circle cx="3748.1" cy="1322.8" r="6.0" fill="#ea8a1c" opacity="0.90"/><circle cx="3746.9" cy="1321.3" r="3.0" fill="#ffe27c" opacity="0.85"/>
<circle cx="3784.8" cy="1280.8" r="2.0" fill="#ea8a1c" opacity="0.70"/><circle cx="3784.4" cy="1280.3" r="1.0" fill="#ffe27c" opacity="0.85"/>
<circle cx="3730.8" cy="1374.5" r="2.0" fill="#ea8a1c" opacity="0.70"/><circle cx="3730.4" cy="1374.0" r="1.0" fill="#ffe27c" opacity="0.85"/>
<circle cx="3678.1" cy="986.8" r="1.5" fill="#ea8a1c" opacity="0.70"/><circle cx="3677.8" cy="986.4" r="0.8" fill="#ffe27c" opacity="0.85"/>
<circle cx="3711.5" cy="1228.9" r="1.5" fill="#ea8a1c" opacity="0.70"/><circle cx="3711.2" cy="1228.6" r="0.8" fill="#ffe27c" opacity="0.85"/>
<circle cx="3571.7" cy="1345.9" r="2.5" fill="#ea8a1c" opacity="0.70"/><circle cx="3571.2" cy="1345.2" r="1.2" fill="#ffe27c" opacity="0.85"/>
<circle cx="3618.2" cy="1469.8" r="7.0" fill="#ea8a1c" opacity="0.90"/><circle cx="3616.8" cy="1468.1" r="3.5" fill="#ffe27c" opacity="0.85"/>
<circle cx="3679.1" cy="1280.4" r="2.5" fill="#ea8a1c" opacity="0.70"/><circle cx="3678.6" cy="1279.7" r="1.2" fill="#ffe27c" opacity="0.85"/>
<circle cx="3702.3" cy="947.3" r="5.0" fill="#ea8a1c" opacity="0.90"/><circle cx="3701.3" cy="946.1" r="2.5" fill="#ffe27c" opacity="0.85"/>
<circle cx="3659.2" cy="954.1" r="5.0" fill="#ea8a1c" opacity="0.90"/><circle cx="3658.2" cy="952.8" r="2.5" fill="#ffe27c" opacity="0.85"/>
<circle cx="3608.5" cy="967.8" r="5.0" fill="#ea8a1c" opacity="0.90"/><circle cx="3607.5" cy="966.5" r="2.5" fill="#ffe27c" opacity="0.85"/>
<circle cx="3584.4" cy="1391.6" r="1.5" fill="#ea8a1c" opacity="0.70"/><circle cx="3584.1" cy="1391.3" r="0.8" fill="#ffe27c" opacity="0.85"/>
<circle cx="3673.2" cy="1145.0" r="4.0" fill="#ea8a1c" opacity="0.70"/><circle cx="3672.4" cy="1144.0" r="2.0" fill="#ffe27c" opacity="0.85"/>
<circle cx="3726.8" cy="1219.3" r="2.0" fill="#ea8a1c" opacity="0.70"/><circle cx="3726.4" cy="1218.8" r="1.0" fill="#ffe27c" opacity="0.85"/>
<circle cx="3745.0" cy="1132.0" r="1.5" fill="#ea8a1c" opacity="0.70"/><circle cx="3744.7" cy="1131.6" r="0.8" fill="#ffe27c" opacity="0.85"/>
<circle cx="3668.3" cy="1212.6" r="2.0" fill="#ea8a1c" opacity="0.70"/><circle cx="3667.9" cy="1212.1" r="1.0" fill="#ffe27c" opacity="0.85"/>
<circle cx="3791.9" cy="1530.3" r="2.0" fill="#ea8a1c" opacity="0.70"/><circle cx="3791.5" cy="1529.8" r="1.0" fill="#ffe27c" opacity="0.85"/>
<circle cx="3645.2" cy="990.9" r="2.5" fill="#ea8a1c" opacity="0.70"/><circle cx="3644.7" cy="990.2" r="1.2" fill="#ffe27c" opacity="0.85"/>
<circle cx="3594.8" cy="1204.9" r="2.5" fill="#ea8a1c" opacity="0.70"/><circle cx="3594.3" cy="1204.3" r="1.2" fill="#ffe27c" opacity="0.85"/>
<circle cx="3577.1" cy="992.4" r="2.0" fill="#ea8a1c" opacity="0.70"/><circle cx="3576.7" cy="991.9" r="1.0" fill="#ffe27c" opacity="0.85"/>
<circle cx="3789.5" cy="1506.6" r="3.0" fill="#ea8a1c" opacity="0.70"/><circle cx="3788.9" cy="1505.9" r="1.5" fill="#ffe27c" opacity="0.85"/>
<circle cx="3570.4" cy="989.2" r="6.0" fill="#ea8a1c" opacity="0.90"/><circle cx="3569.2" cy="987.7" r="3.0" fill="#ffe27c" opacity="0.85"/>
<circle cx="3650.0" cy="1248.6" r="6.0" fill="#ea8a1c" opacity="0.90"/><circle cx="3648.8" cy="1247.1" r="3.0" fill="#ffe27c" opacity="0.85"/>
<circle cx="3566.3" cy="975.3" r="4.0" fill="#ea8a1c" opacity="0.70"/><circle cx="3565.5" cy="974.3" r="2.0" fill="#ffe27c" opacity="0.85"/>
<circle cx="3568.6" cy="1348.3" r="2.5" fill="#ea8a1c" opacity="0.70"/><circle cx="3568.1" cy="1347.7" r="1.2" fill="#ffe27c" opacity="0.85"/>
<circle cx="3570.1" cy="1510.2" r="2.0" fill="#ea8a1c" opacity="0.70"/><circle cx="3569.7" cy="1509.7" r="1.0" fill="#ffe27c" opacity="0.85"/>
<circle cx="3660.9" cy="1247.1" r="2.5" fill="#ea8a1c" opacity="0.70"/><circle cx="3660.4" cy="1246.4" r="1.2" fill="#ffe27c" opacity="0.85"/>
<circle cx="3637.5" cy="1219.9" r="2.5" fill="#ea8a1c" opacity="0.70"/><circle cx="3637.0" cy="1219.2" r="1.2" fill="#ffe27c" opacity="0.85"/>
<circle cx="3721.7" cy="1321.1" r="2.0" fill="#ea8a1c" opacity="0.70"/><circle cx="3721.3" cy="1320.6" r="1.0" fill="#ffe27c" opacity="0.85"/>
<circle cx="3749.1" cy="1111.1" r="3.0" fill="#ea8a1c" opacity="0.70"/><circle cx="3748.5" cy="1110.3" r="1.5" fill="#ffe27c" opacity="0.85"/>
<circle cx="3772.4" cy="1412.5" r="1.5" fill="#ea8a1c" opacity="0.70"/><circle cx="3772.1" cy="1412.1" r="0.8" fill="#ffe27c" opacity="0.85"/>
<circle cx="3776.6" cy="1468.5" r="2.0" fill="#ea8a1c" opacity="0.70"/><circle cx="3776.2" cy="1468.0" r="1.0" fill="#ffe27c" opacity="0.85"/>
<circle cx="3666.0" cy="943.3" r="3.0" fill="#ea8a1c" opacity="0.70"/><circle cx="3665.4" cy="942.5" r="1.5" fill="#ffe27c" opacity="0.85"/>
<circle cx="3678.1" cy="1299.6" r="3.0" fill="#ea8a1c" opacity="0.70"/><circle cx="3677.5" cy="1298.8" r="1.5" fill="#ffe27c" opacity="0.85"/>
<circle cx="3770.3" cy="1471.1" r="3.0" fill="#ea8a1c" opacity="0.70"/><circle cx="3769.7" cy="1470.4" r="1.5" fill="#ffe27c" opacity="0.85"/>
<circle cx="3628.6" cy="1054.5" r="3.5" fill="#ea8a1c" opacity="0.70"/><circle cx="3627.9" cy="1053.7" r="1.8" fill="#ffe27c" opacity="0.85"/>
<circle cx="3777.7" cy="1214.3" r="3.5" fill="#ea8a1c" opacity="0.70"/><circle cx="3777.0" cy="1213.4" r="1.8" fill="#ffe27c" opacity="0.85"/>
<circle cx="3607.9" cy="1197.8" r="3.0" fill="#ea8a1c" opacity="0.70"/><circle cx="3607.3" cy="1197.0" r="1.5" fill="#ffe27c" opacity="0.85"/>
<circle cx="3586.1" cy="961.5" r="3.0" fill="#ea8a1c" opacity="0.70"/><circle cx="3585.5" cy="960.8" r="1.5" fill="#ffe27c" opacity="0.85"/>
<circle cx="3608.4" cy="1262.2" r="7.0" fill="#ea8a1c" opacity="0.90"/><circle cx="3607.0" cy="1260.5" r="3.5" fill="#ffe27c" opacity="0.85"/>
<circle cx="3771.2" cy="1151.1" r="6.0" fill="#ea8a1c" opacity="0.90"/><circle cx="3770.0" cy="1149.6" r="3.0" fill="#ffe27c" opacity="0.85"/>
<circle cx="3789.2" cy="978.3" r="5.0" fill="#ea8a1c" opacity="0.90"/><circle cx="3788.2" cy="977.0" r="2.5" fill="#ffe27c" opacity="0.85"/>
<circle cx="3781.3" cy="1296.7" r="6.0" fill="#ea8a1c" opacity="0.90"/><circle cx="3780.1" cy="1295.2" r="3.0" fill="#ffe27c" opacity="0.85"/>
<circle cx="3613.6" cy="1379.8" r="4.0" fill="#ea8a1c" opacity="0.70"/><circle cx="3612.8" cy="1378.8" r="2.0" fill="#ffe27c" opacity="0.85"/>
<circle cx="3582.4" cy="1403.3" r="6.0" fill="#ea8a1c" opacity="0.90"/><circle cx="3581.2" cy="1401.8" r="3.0" fill="#ffe27c" opacity="0.85"/>
<circle cx="3673.2" cy="1267.5" r="7.0" fill="#ea8a1c" opacity="0.90"/><circle cx="3671.8" cy="1265.8" r="3.5" fill="#ffe27c" opacity="0.85"/>
<circle cx="3756.7" cy="1125.7" r="4.0" fill="#ea8a1c" opacity="0.70"/><circle cx="3755.9" cy="1124.7" r="2.0" fill="#ffe27c" opacity="0.85"/>
<circle cx="3671.5" cy="1236.5" r="1.5" fill="#ea8a1c" opacity="0.70"/><circle cx="3671.2" cy="1236.1" r="0.8" fill="#ffe27c" opacity="0.85"/>
<circle cx="3687.7" cy="1101.5" r="2.0" fill="#ea8a1c" opacity="0.70"/><circle cx="3687.3" cy="1101.0" r="1.0" fill="#ffe27c" opacity="0.85"/>
<circle cx="3791.1" cy="1063.7" r="3.0" fill="#ea8a1c" opacity="0.70"/><circle cx="3790.5" cy="1063.0" r="1.5" fill="#ffe27c" opacity="0.85"/>
<circle cx="3599.3" cy="951.1" r="2.0" fill="#ea8a1c" opacity="0.70"/><circle cx="3598.9" cy="950.6" r="1.0" fill="#ffe27c" opacity="0.85"/>
<circle cx="3682.2" cy="1355.0" r="3.0" fill="#ea8a1c" opacity="0.70"/><circle cx="3681.6" cy="1354.3" r="1.5" fill="#ffe27c" opacity="0.85"/>
<circle cx="3656.0" cy="1327.5" r="5.0" fill="#ea8a1c" opacity="0.90"/><circle cx="3655.0" cy="1326.2" r="2.5" fill="#ffe27c" opacity="0.85"/>
<circle cx="3596.0" cy="1238.8" r="7.0" fill="#ea8a1c" opacity="0.90"/><circle cx="3594.6" cy="1237.1" r="3.5" fill="#ffe27c" opacity="0.85"/>
<circle cx="3782.8" cy="1146.6" r="2.5" fill="#ea8a1c" opacity="0.70"/><circle cx="3782.3" cy="1146.0" r="1.2" fill="#ffe27c" opacity="0.85"/>
<circle cx="3653.6" cy="1123.7" r="2.0" fill="#ea8a1c" opacity="0.70"/><circle cx="3653.2" cy="1123.2" r="1.0" fill="#ffe27c" opacity="0.85"/>
<circle cx="3743.7" cy="1420.7" r="2.0" fill="#ea8a1c" opacity="0.70"/><circle cx="3743.3" cy="1420.2" r="1.0" fill="#ffe27c" opacity="0.85"/>
<circle cx="3567.2" cy="1278.9" r="6.0" fill="#ea8a1c" opacity="0.90"/><circle cx="3566.0" cy="1277.4" r="3.0" fill="#ffe27c" opacity="0.85"/>
<circle cx="3629.1" cy="1475.3" r="4.0" fill="#ea8a1c" opacity="0.70"/><circle cx="3628.3" cy="1474.3" r="2.0" fill="#ffe27c" opacity="0.85"/>
<circle cx="3720.7" cy="1461.8" r="2.0" fill="#ea8a1c" opacity="0.70"/><circle cx="3720.3" cy="1461.3" r="1.0" fill="#ffe27c" opacity="0.85"/>
<circle cx="3598.1" cy="1094.1" r="3.5" fill="#ea8a1c" opacity="0.70"/><circle cx="3597.4" cy="1093.3" r="1.8" fill="#ffe27c" opacity="0.85"/>
<circle cx="3793.6" cy="1221.9" r="2.0" fill="#ea8a1c" opacity="0.70"/><circle cx="3793.2" cy="1221.4" r="1.0" fill="#ffe27c" opacity="0.85"/>
<circle cx="3737.1" cy="1130.3" r="3.0" fill="#ea8a1c" opacity="0.70"/><circle cx="3736.5" cy="1129.5" r="1.5" fill="#ffe27c" opacity="0.85"/>
<circle cx="3576.7" cy="1386.0" r="2.5" fill="#ea8a1c" opacity="0.70"/><circle cx="3576.2" cy="1385.4" r="1.2" fill="#ffe27c" opacity="0.85"/>
<circle cx="3571.0" cy="1500.9" r="2.0" fill="#ea8a1c" opacity="0.70"/><circle cx="3570.6" cy="1500.4" r="1.0" fill="#ffe27c" opacity="0.85"/>
<circle cx="3783.6" cy="1258.4" r="2.0" fill="#ea8a1c" opacity="0.70"/><circle cx="3783.2" cy="1257.9" r="1.0" fill="#ffe27c" opacity="0.85"/>
<circle cx="3643.4" cy="1206.1" r="7.0" fill="#ea8a1c" opacity="0.90"/><circle cx="3642.0" cy="1204.4" r="3.5" fill="#ffe27c" opacity="0.85"/>
<circle cx="3772.5" cy="1261.7" r="2.5" fill="#ea8a1c" opacity="0.70"/><circle cx="3772.0" cy="1261.1" r="1.2" fill="#ffe27c" opacity="0.85"/>
<circle cx="3758.0" cy="1244.5" r="5.0" fill="#ea8a1c" opacity="0.90"/><circle cx="3757.0" cy="1243.3" r="2.5" fill="#ffe27c" opacity="0.85"/>
<circle cx="3759.7" cy="1187.3" r="1.5" fill="#ea8a1c" opacity="0.70"/><circle cx="3759.4" cy="1186.9" r="0.8" fill="#ffe27c" opacity="0.85"/>
<circle cx="3729.6" cy="1505.4" r="3.5" fill="#ea8a1c" opacity="0.70"/><circle cx="3728.9" cy="1504.5" r="1.8" fill="#ffe27c" opacity="0.85"/>
<circle cx="3650.6" cy="1155.7" r="3.0" fill="#ea8a1c" opacity="0.70"/><circle cx="3650.0" cy="1154.9" r="1.5" fill="#ffe27c" opacity="0.85"/>
<circle cx="3665.6" cy="1474.7" r="7.0" fill="#ea8a1c" opacity="0.90"/><circle cx="3664.2" cy="1473.0" r="3.5" fill="#ffe27c" opacity="0.85"/>
<circle cx="3692.9" cy="1522.7" r="2.0" fill="#ea8a1c" opacity="0.70"/><circle cx="3692.5" cy="1522.2" r="1.0" fill="#ffe27c" opacity="0.85"/>
<circle cx="3584.5" cy="1522.8" r="3.0" fill="#ea8a1c" opacity="0.70"/><circle cx="3583.9" cy="1522.0" r="1.5" fill="#ffe27c" opacity="0.85"/>
<circle cx="3621.8" cy="1086.3" r="3.5" fill="#ea8a1c" opacity="0.70"/><circle cx="3621.1" cy="1085.4" r="1.8" fill="#ffe27c" opacity="0.85"/>
<circle cx="3607.9" cy="1525.8" r="4.0" fill="#ea8a1c" opacity="0.70"/><circle cx="3607.1" cy="1524.8" r="2.0" fill="#ffe27c" opacity="0.85"/>
<circle cx="3717.3" cy="932.5" r="3.0" fill="#ea8a1c" opacity="0.70"/><circle cx="3716.7" cy="931.7" r="1.5" fill="#ffe27c" opacity="0.85"/>
<circle cx="3789.2" cy="1340.6" r="2.0" fill="#ea8a1c" opacity="0.70"/><circle cx="3788.8" cy="1340.1" r="1.0" fill="#ffe27c" opacity="0.85"/>
<circle cx="3729.8" cy="942.4" r="5.0" fill="#ea8a1c" opacity="0.90"/><circle cx="3728.8" cy="941.2" r="2.5" fill="#ffe27c" opacity="0.85"/>
<circle cx="3611.1" cy="1285.3" r="3.0" fill="#ea8a1c" opacity="0.70"/><circle cx="3610.5" cy="1284.5" r="1.5" fill="#ffe27c" opacity="0.85"/>
<circle cx="3594.8" cy="1100.8" r="2.5" fill="#ea8a1c" opacity="0.70"/><circle cx="3594.3" cy="1100.2" r="1.2" fill="#ffe27c" opacity="0.85"/>
<circle cx="3582.6" cy="1170.3" r="2.5" fill="#ea8a1c" opacity="0.70"/><circle cx="3582.1" cy="1169.6" r="1.2" fill="#ffe27c" opacity="0.85"/>
<circle cx="3786.9" cy="1206.5" r="1.5" fill="#ea8a1c" opacity="0.70"/><circle cx="3786.6" cy="1206.1" r="0.8" fill="#ffe27c" opacity="0.85"/>
<circle cx="3757.9" cy="1119.9" r="5.0" fill="#ea8a1c" opacity="0.90"/><circle cx="3756.9" cy="1118.7" r="2.5" fill="#ffe27c" opacity="0.85"/>
<circle cx="3711.5" cy="1365.8" r="4.0" fill="#ea8a1c" opacity="0.70"/><circle cx="3710.7" cy="1364.8" r="2.0" fill="#ffe27c" opacity="0.85"/>
<circle cx="3652.7" cy="1498.2" r="4.0" fill="#ea8a1c" opacity="0.70"/><circle cx="3651.9" cy="1497.2" r="2.0" fill="#ffe27c" opacity="0.85"/>
<circle cx="3652.2" cy="1019.3" r="3.0" fill="#ea8a1c" opacity="0.70"/><circle cx="3651.6" cy="1018.5" r="1.5" fill="#ffe27c" opacity="0.85"/>
<circle cx="3660.7" cy="1011.9" r="7.0" fill="#ea8a1c" opacity="0.90"/><circle cx="3659.3" cy="1010.1" r="3.5" fill="#ffe27c" opacity="0.85"/>
<circle cx="3760.1" cy="1037.1" r="6.0" fill="#ea8a1c" opacity="0.90"/><circle cx="3758.9" cy="1035.6" r="3.0" fill="#ffe27c" opacity="0.85"/>
<circle cx="3682.8" cy="1307.6" r="3.5" fill="#ea8a1c" opacity="0.70"/><circle cx="3682.1" cy="1306.7" r="1.8" fill="#ffe27c" opacity="0.85"/>
<circle cx="3623.4" cy="1247.7" r="5.0" fill="#ea8a1c" opacity="0.90"/><circle cx="3622.4" cy="1246.4" r="2.5" fill="#ffe27c" opacity="0.85"/>
<circle cx="3760.4" cy="1403.7" r="4.0" fill="#ea8a1c" opacity="0.70"/><circle cx="3759.6" cy="1402.7" r="2.0" fill="#ffe27c" opacity="0.85"/>
<circle cx="3610.5" cy="933.6" r="1.5" fill="#ea8a1c" opacity="0.70"/><circle cx="3610.2" cy="933.3" r="0.8" fill="#ffe27c" opacity="0.85"/>
<circle cx="3671.6" cy="1326.0" r="2.0" fill="#ea8a1c" opacity="0.70"/><circle cx="3671.2" cy="1325.5" r="1.0" fill="#ffe27c" opacity="0.85"/>
<circle cx="3568.5" cy="1052.9" r="3.5" fill="#ea8a1c" opacity="0.70"/><circle cx="3567.8" cy="1052.0" r="1.8" fill="#ffe27c" opacity="0.85"/>
<circle cx="3623.6" cy="1371.8" r="2.5" fill="#ea8a1c" opacity="0.70"/><circle cx="3623.1" cy="1371.2" r="1.2" fill="#ffe27c" opacity="0.85"/>
<circle cx="3606.0" cy="1064.8" r="6.0" fill="#ea8a1c" opacity="0.90"/><circle cx="3604.8" cy="1063.3" r="3.0" fill="#ffe27c" opacity="0.85"/>
<circle cx="3627.5" cy="1182.1" r="6.0" fill="#ea8a1c" opacity="0.90"/><circle cx="3626.3" cy="1180.6" r="3.0" fill="#ffe27c" opacity="0.85"/>
<circle cx="3693.7" cy="1140.9" r="2.0" fill="#ea8a1c" opacity="0.70"/><circle cx="3693.3" cy="1140.4" r="1.0" fill="#ffe27c" opacity="0.85"/>
<circle cx="3571.7" cy="1267.8" r="7.0" fill="#ea8a1c" opacity="0.90"/><circle cx="3570.3" cy="1266.0" r="3.5" fill="#ffe27c" opacity="0.85"/>
<circle cx="3585.5" cy="1527.9" r="2.5" fill="#ea8a1c" opacity="0.70"/><circle cx="3585.0" cy="1527.3" r="1.2" fill="#ffe27c" opacity="0.85"/>
<circle cx="3758.3" cy="937.0" r="7.0" fill="#ea8a1c" opacity="0.90"/><circle cx="3756.9" cy="935.3" r="3.5" fill="#ffe27c" opacity="0.85"/>
<circle cx="3646.2" cy="1197.0" r="7.0" fill="#ea8a1c" opacity="0.90"/><circle cx="3644.8" cy="1195.2" r="3.5" fill="#ffe27c" opacity="0.85"/>
<circle cx="3586.6" cy="1486.9" r="3.0" fill="#ea8a1c" opacity="0.70"/><circle cx="3586.0" cy="1486.2" r="1.5" fill="#ffe27c" opacity="0.85"/>
<circle cx="3781.7" cy="1364.4" r="1.5" fill="#ea8a1c" opacity="0.70"/><circle cx="3781.4" cy="1364.1" r="0.8" fill="#ffe27c" opacity="0.85"/>
<circle cx="3600.7" cy="1075.2" r="5.0" fill="#ea8a1c" opacity="0.90"/><circle cx="3599.7" cy="1074.0" r="2.5" fill="#ffe27c" opacity="0.85"/>
<circle cx="3648.7" cy="1449.6" r="6.0" fill="#ea8a1c" opacity="0.90"/><circle cx="3647.5" cy="1448.1" r="3.0" fill="#ffe27c" opacity="0.85"/>
<circle cx="3712.2" cy="1044.2" r="7.0" fill="#ea8a1c" opacity="0.90"/><circle cx="3710.8" cy="1042.5" r="3.5" fill="#ffe27c" opacity="0.85"/>
<circle cx="3770.5" cy="1244.5" r="1.5" fill="#ea8a1c" opacity="0.70"/><circle cx="3770.2" cy="1244.2" r="0.8" fill="#ffe27c" opacity="0.85"/>
<circle cx="3690.5" cy="1024.9" r="2.5" fill="#ea8a1c" opacity="0.70"/><circle cx="3690.0" cy="1024.3" r="1.2" fill="#ffe27c" opacity="0.85"/>
<circle cx="3631.2" cy="1208.5" r="4.0" fill="#ea8a1c" opacity="0.70"/><circle cx="3630.4" cy="1207.5" r="2.0" fill="#ffe27c" opacity="0.85"/>
<circle cx="3739.9" cy="1187.8" r="1.5" fill="#ea8a1c" opacity="0.70"/><circle cx="3739.6" cy="1187.4" r="0.8" fill="#ffe27c" opacity="0.85"/>
<circle cx="3753.8" cy="1470.8" r="6.0" fill="#ea8a1c" opacity="0.90"/><circle cx="3752.6" cy="1469.3" r="3.0" fill="#ffe27c" opacity="0.85"/>
<circle cx="3659.9" cy="1333.3" r="3.0" fill="#ea8a1c" opacity="0.70"/><circle cx="3659.3" cy="1332.6" r="1.5" fill="#ffe27c" opacity="0.85"/>
<circle cx="3580.0" cy="1205.3" r="3.0" fill="#ea8a1c" opacity="0.70"/><circle cx="3579.4" cy="1204.5" r="1.5" fill="#ffe27c" opacity="0.85"/>
<circle cx="3732.9" cy="1240.2" r="2.0" fill="#ea8a1c" opacity="0.70"/><circle cx="3732.5" cy="1239.7" r="1.0" fill="#ffe27c" opacity="0.85"/>
<circle cx="3748.7" cy="1326.8" r="6.0" fill="#ea8a1c" opacity="0.90"/><circle cx="3747.5" cy="1325.3" r="3.0" fill="#ffe27c" opacity="0.85"/>
<circle cx="3678.7" cy="1125.0" r="2.5" fill="#ea8a1c" opacity="0.70"/><circle cx="3678.2" cy="1124.3" r="1.2" fill="#ffe27c" opacity="0.85"/>
<circle cx="3654.7" cy="1195.0" r="2.5" fill="#ea8a1c" opacity="0.70"/><circle cx="3654.2" cy="1194.4" r="1.2" fill="#ffe27c" opacity="0.85"/>
<circle cx="3785.1" cy="1528.6" r="3.5" fill="#ea8a1c" opacity="0.70"/><circle cx="3784.4" cy="1527.7" r="1.8" fill="#ffe27c" opacity="0.85"/>
<circle cx="3571.8" cy="1029.7" r="2.5" fill="#ea8a1c" opacity="0.70"/><circle cx="3571.3" cy="1029.1" r="1.2" fill="#ffe27c" opacity="0.85"/>
<circle cx="3684.3" cy="1365.4" r="5.0" fill="#ea8a1c" opacity="0.90"/><circle cx="3683.3" cy="1364.1" r="2.5" fill="#ffe27c" opacity="0.85"/>
<circle cx="3611.2" cy="1282.9" r="5.0" fill="#ea8a1c" opacity="0.90"/><circle cx="3610.2" cy="1281.6" r="2.5" fill="#ffe27c" opacity="0.85"/>
<circle cx="3681.4" cy="988.3" r="7.0" fill="#ea8a1c" opacity="0.90"/><circle cx="3680.0" cy="986.5" r="3.5" fill="#ffe27c" opacity="0.85"/>
<circle cx="3607.8" cy="1526.0" r="2.0" fill="#ea8a1c" opacity="0.70"/><circle cx="3607.4" cy="1525.5" r="1.0" fill="#ffe27c" opacity="0.85"/>
<circle cx="3717.5" cy="1251.6" r="2.0" fill="#ea8a1c" opacity="0.70"/><circle cx="3717.1" cy="1251.1" r="1.0" fill="#ffe27c" opacity="0.85"/>
<circle cx="3661.9" cy="1458.2" r="2.0" fill="#ea8a1c" opacity="0.70"/><circle cx="3661.5" cy="1457.7" r="1.0" fill="#ffe27c" opacity="0.85"/>
<circle cx="3673.7" cy="1047.8" r="6.0" fill="#ea8a1c" opacity="0.90"/><circle cx="3672.5" cy="1046.3" r="3.0" fill="#ffe27c" opacity="0.85"/>
<circle cx="3750.7" cy="1377.4" r="4.0" fill="#ea8a1c" opacity="0.70"/><circle cx="3749.9" cy="1376.4" r="2.0" fill="#ffe27c" opacity="0.85"/>
<circle cx="3637.2" cy="1324.5" r="6.0" fill="#ea8a1c" opacity="0.90"/><circle cx="3636.0" cy="1323.0" r="3.0" fill="#ffe27c" opacity="0.85"/>
<circle cx="3763.0" cy="1238.9" r="1.5" fill="#ea8a1c" opacity="0.70"/><circle cx="3762.7" cy="1238.5" r="0.8" fill="#ffe27c" opacity="0.85"/>
<circle cx="3711.0" cy="1291.0" r="3.5" fill="#ea8a1c" opacity="0.70"/><circle cx="3710.3" cy="1290.1" r="1.8" fill="#ffe27c" opacity="0.85"/>
<circle cx="3583.8" cy="1433.8" r="7.0" fill="#ea8a1c" opacity="0.90"/><circle cx="3582.4" cy="1432.1" r="3.5" fill="#ffe27c" opacity="0.85"/>
<circle cx="3748.0" cy="1134.1" r="2.0" fill="#ea8a1c" opacity="0.70"/><circle cx="3747.6" cy="1133.6" r="1.0" fill="#ffe27c" opacity="0.85"/>
<path d="M3555,906 Q3680,898 3805,904 L3805,920 Q3680,924 3555,922 Z" fill="#f2cc6a"/>
</g>
<path d="M3678,723 C3687.52,721.64 3702.96,725.72 3710,729 C3717.04,732.28 3760.4,757.28 3766,764 C3771.6,770.72 3778.08,805.72 3780,813 C3781.92,820.28 3789.76,842.12 3790,855 C3790.24,867.88 3783.8,954.48 3783,974 C3782.2,993.52 3779.12,1078.92 3780,1099 C3780.88,1119.08 3793.2,1205.4 3794,1225 C3794.8,1244.6 3792,1323.28 3790,1344 C3788,1364.72 3773.72,1468.08 3769,1484 C3764.28,1499.92 3741.88,1537.96 3731,1543 C3720.12,1548.04 3643.4,1548.36 3633,1547 C3622.6,1545.64 3605.8,1533.84 3601,1526 C3596.2,1518.16 3576.04,1464.12 3573,1449 C3569.96,1433.88 3563.24,1356.6 3563,1337 C3562.76,1317.4 3568.88,1225.28 3570,1204 C3571.12,1182.72 3577,1094.44 3577,1071 C3577,1047.56 3570.32,927.16 3570,911 C3569.68,894.84 3571.32,882.2 3573,869 C3574.68,855.8 3582.6,757.68 3591,746 C3599.4,734.32 3668.48,724.36 3678,723 Z" fill="none" stroke="url(#winStroke)" stroke-width="8"/>
<rect x="3662" y="722" width="30" height="42" fill="url(#cylH)" stroke="#7e8c8c" stroke-width="1.5"/><ellipse cx="3677" cy="763" rx="15" ry="4" fill="#bfeaf2" stroke="#8e9c9c"/>
<path d="M3670.5,772 L3670.5,842 L3652,836 L3678,884 L3704,836 L3685.5,842 L3685.5,772 Z" fill="url(#ag4)"/>
<rect x="2968" y="1722" width="70" height="77" rx="9" fill="url(#cylV)" stroke="#8a9898" stroke-width="1.5"/>
<rect x="3003" y="1713" width="7" height="96" rx="3" fill="url(#cylV)" stroke="#8a9898" stroke-width="1.2"/>
<rect x="3117" y="1728" width="20" height="15" fill="url(#cylV)"/><rect x="3117" y="1752" width="20" height="21" fill="url(#cylV)"/><rect x="3117" y="1784" width="20" height="15" fill="url(#cylV)"/>
<rect x="3136" y="1722" width="10" height="86" rx="3" fill="url(#cylH)" stroke="#8a9898" stroke-width="1.2"/>
<rect x="3146" y="1752" width="37" height="19" fill="url(#cylV)"/>
<rect x="3157" y="1771" width="13" height="83" fill="url(#cylH)"/>
<rect x="3149" y="1816" width="29" height="12" rx="2" fill="url(#cylV)" stroke="#8a9898" stroke-width="1"/>
<rect x="3182" y="1746" width="16" height="33" rx="3" fill="url(#cylH)" stroke="#8a9898" stroke-width="1.2"/>
<rect x="3036" y="1698" width="83" height="131" rx="6" fill="url(#boxG)" stroke="#8a9898" stroke-width="1.5"/>
<circle cx="3046" cy="1709" r="3.2" fill="#b4c0c0" stroke="#8a9898" stroke-width="1"/>
<circle cx="3108" cy="1709" r="3.2" fill="#b4c0c0" stroke="#8a9898" stroke-width="1"/>
<circle cx="3046" cy="1815" r="3.2" fill="#b4c0c0" stroke="#8a9898" stroke-width="1"/>
<circle cx="3108" cy="1815" r="3.2" fill="#b4c0c0" stroke="#8a9898" stroke-width="1"/>
<rect x="4159" y="1930" width="12" height="134" rx="5" fill="url(#cylH)" stroke="#8a9898" stroke-width="1"/>
<rect x="4155" y="1938" width="20" height="10" rx="4" fill="url(#cylH)" stroke="#8a9898" stroke-width="1"/>
<rect x="4216" y="1930" width="12" height="144" rx="5" fill="url(#cylH)" stroke="#8a9898" stroke-width="1"/>
<rect x="4212" y="1938" width="20" height="10" rx="4" fill="url(#cylH)" stroke="#8a9898" stroke-width="1"/>
<rect x="4317" y="1930" width="12" height="148" rx="5" fill="url(#cylH)" stroke="#8a9898" stroke-width="1"/>
<rect x="4313" y="1938" width="20" height="10" rx="4" fill="url(#cylH)" stroke="#8a9898" stroke-width="1"/>
<rect x="4418" y="1930" width="12" height="144" rx="5" fill="url(#cylH)" stroke="#8a9898" stroke-width="1"/>
<rect x="4414" y="1938" width="20" height="10" rx="4" fill="url(#cylH)" stroke="#8a9898" stroke-width="1"/>
<rect x="4478" y="1930" width="12" height="134" rx="5" fill="url(#cylH)" stroke="#8a9898" stroke-width="1"/>
<rect x="4474" y="1938" width="20" height="10" rx="4" fill="url(#cylH)" stroke="#8a9898" stroke-width="1"/>
<rect x="4172" y="1500" width="306" height="172" fill="#cfd6d6"/>
<rect x="4150" y="1500" width="58" height="172" fill="#f2f5f5"/>
<rect x="4313" y="1500" width="60" height="172" fill="#c4cccc"/>
<rect x="4460" y="1500" width="40" height="172" fill="#d8dede"/>
<rect x="4198" y="1545" width="16" height="125" rx="7" fill="url(#bellowG)"/>
<ellipse cx="4206" cy="1556" rx="11" ry="12" fill="url(#bellowG)"/>
<rect x="4194" y="1585" width="24" height="6" rx="3" fill="url(#bellowG)"/>
<rect x="4194" y="1594" width="24" height="6" rx="3" fill="url(#bellowG)"/>
<rect x="4194" y="1603" width="24" height="6" rx="3" fill="url(#bellowG)"/>
<rect x="4194" y="1612" width="24" height="6" rx="3" fill="url(#bellowG)"/>
<rect x="4194" y="1621" width="24" height="6" rx="3" fill="url(#bellowG)"/>
<rect x="4194" y="1630" width="24" height="6" rx="3" fill="url(#bellowG)"/>
<rect x="4194" y="1639" width="24" height="6" rx="3" fill="url(#bellowG)"/>
<rect x="4194" y="1648" width="24" height="6" rx="3" fill="url(#bellowG)"/>
<rect x="4194" y="1657" width="24" height="6" rx="3" fill="url(#bellowG)"/>
<rect x="4193" y="1660" width="26" height="12" rx="3" fill="url(#bellowG)"/>
<rect x="4244" y="1545" width="16" height="125" rx="7" fill="url(#bellowG)"/>
<ellipse cx="4252" cy="1556" rx="11" ry="12" fill="url(#bellowG)"/>
<rect x="4240" y="1585" width="24" height="6" rx="3" fill="url(#bellowG)"/>
<rect x="4240" y="1594" width="24" height="6" rx="3" fill="url(#bellowG)"/>
<rect x="4240" y="1603" width="24" height="6" rx="3" fill="url(#bellowG)"/>
<rect x="4240" y="1612" width="24" height="6" rx="3" fill="url(#bellowG)"/>
<rect x="4240" y="1621" width="24" height="6" rx="3" fill="url(#bellowG)"/>
<rect x="4240" y="1630" width="24" height="6" rx="3" fill="url(#bellowG)"/>
<rect x="4240" y="1639" width="24" height="6" rx="3" fill="url(#bellowG)"/>
<rect x="4240" y="1648" width="24" height="6" rx="3" fill="url(#bellowG)"/>
<rect x="4240" y="1657" width="24" height="6" rx="3" fill="url(#bellowG)"/>
<rect x="4239" y="1660" width="26" height="12" rx="3" fill="url(#bellowG)"/>
<rect x="4378" y="1545" width="16" height="125" rx="7" fill="url(#bellowG)"/>
<ellipse cx="4386" cy="1556" rx="11" ry="12" fill="url(#bellowG)"/>
<rect x="4374" y="1585" width="24" height="6" rx="3" fill="url(#bellowG)"/>
<rect x="4374" y="1594" width="24" height="6" rx="3" fill="url(#bellowG)"/>
<rect x="4374" y="1603" width="24" height="6" rx="3" fill="url(#bellowG)"/>
<rect x="4374" y="1612" width="24" height="6" rx="3" fill="url(#bellowG)"/>
<rect x="4374" y="1621" width="24" height="6" rx="3" fill="url(#bellowG)"/>
<rect x="4374" y="1630" width="24" height="6" rx="3" fill="url(#bellowG)"/>
<rect x="4374" y="1639" width="24" height="6" rx="3" fill="url(#bellowG)"/>
<rect x="4374" y="1648" width="24" height="6" rx="3" fill="url(#bellowG)"/>
<rect x="4374" y="1657" width="24" height="6" rx="3" fill="url(#bellowG)"/>
<rect x="4373" y="1660" width="26" height="12" rx="3" fill="url(#bellowG)"/>
<rect x="4426" y="1545" width="16" height="125" rx="7" fill="url(#bellowG)"/>
<ellipse cx="4434" cy="1556" rx="11" ry="12" fill="url(#bellowG)"/>
<rect x="4422" y="1585" width="24" height="6" rx="3" fill="url(#bellowG)"/>
<rect x="4422" y="1594" width="24" height="6" rx="3" fill="url(#bellowG)"/>
<rect x="4422" y="1603" width="24" height="6" rx="3" fill="url(#bellowG)"/>
<rect x="4422" y="1612" width="24" height="6" rx="3" fill="url(#bellowG)"/>
<rect x="4422" y="1621" width="24" height="6" rx="3" fill="url(#bellowG)"/>
<rect x="4422" y="1630" width="24" height="6" rx="3" fill="url(#bellowG)"/>
<rect x="4422" y="1639" width="24" height="6" rx="3" fill="url(#bellowG)"/>
<rect x="4422" y="1648" width="24" height="6" rx="3" fill="url(#bellowG)"/>
<rect x="4422" y="1657" width="24" height="6" rx="3" fill="url(#bellowG)"/>
<rect x="4421" y="1660" width="26" height="12" rx="3" fill="url(#bellowG)"/>
<rect x="4175" y="1659" width="24" height="14" rx="3" fill="url(#cylH)"/>
<rect x="4168" y="1500" width="38" height="19" rx="2" fill="url(#cylH)" stroke="#8a9898" stroke-width="1"/>
<rect x="4174" y="1519" width="26" height="8" fill="url(#cylH)"/>
<path d="M4174,1527 L4200,1527 L4193,1543 L4181,1543 Z" fill="url(#cylH)"/>
<clipPath id="bc0"><path d="M4180,1547 L4194,1547 L4194,1551 Q4197,1556 4204,1566 Q4207,1572 4207,1580 Q4207,1586 4205,1590 Q4207,1596 4207,1604 L4207,1650 Q4207,1657 4199,1658 Q4187,1663 4175,1658 Q4167,1657 4167,1650 L4167,1604 Q4167,1596 4169,1590 Q4167,1586 4167,1580 Q4167,1572 4170,1566 Q4177,1556 4180,1551 Z"/></clipPath>
<path d="M4180,1547 L4194,1547 L4194,1551 Q4197,1556 4204,1566 Q4207,1572 4207,1580 Q4207,1586 4205,1590 Q4207,1596 4207,1604 L4207,1650 Q4207,1657 4199,1658 Q4187,1663 4175,1658 Q4167,1657 4167,1650 L4167,1604 Q4167,1596 4169,1590 Q4167,1586 4167,1580 Q4167,1572 4170,1566 Q4177,1556 4180,1551 Z" fill="#f4f7f7" opacity="0.55"/>
<g clip-path="url(#bc0)"><path d="M4163,1642 Q4175,1633 4187,1641 T4211,1638 L4211,1670 L4163,1670 Z" fill="url(#bottleG)" opacity="0.95"/>
<circle cx="4185.6" cy="1645.7" r="3.4" fill="#e27a12" opacity="0.7"/><circle cx="4184.7" cy="1644.9" r="1.4" fill="#ffe080" opacity="0.8"/>
<circle cx="4194.4" cy="1652.5" r="2.6" fill="#e27a12" opacity="0.7"/><circle cx="4193.8" cy="1651.8" r="1.0" fill="#ffe080" opacity="0.8"/>
<circle cx="4188.1" cy="1653.6" r="1.7" fill="#e27a12" opacity="0.7"/><circle cx="4187.6" cy="1653.2" r="0.7" fill="#ffe080" opacity="0.8"/>
<circle cx="4172.5" cy="1649.5" r="3.8" fill="#e27a12" opacity="0.7"/><circle cx="4171.6" cy="1648.5" r="1.5" fill="#ffe080" opacity="0.8"/>
<circle cx="4181.7" cy="1655.4" r="2.3" fill="#e27a12" opacity="0.7"/><circle cx="4181.2" cy="1654.8" r="0.9" fill="#ffe080" opacity="0.8"/>
<circle cx="4177.5" cy="1653.2" r="1.9" fill="#e27a12" opacity="0.7"/><circle cx="4177.0" cy="1652.7" r="0.8" fill="#ffe080" opacity="0.8"/>
<circle cx="4182.1" cy="1646.3" r="3.1" fill="#e27a12" opacity="0.7"/><circle cx="4181.3" cy="1645.5" r="1.2" fill="#ffe080" opacity="0.8"/>
</g>
<path d="M4180,1547 L4194,1547 L4194,1551 Q4197,1556 4204,1566 Q4207,1572 4207,1580 Q4207,1586 4205,1590 Q4207,1596 4207,1604 L4207,1650 Q4207,1657 4199,1658 Q4187,1663 4175,1658 Q4167,1657 4167,1650 L4167,1604 Q4167,1596 4169,1590 Q4167,1586 4167,1580 Q4167,1572 4170,1566 Q4177,1556 4180,1551 Z" fill="none" stroke="#b4c0c0" stroke-width="1.5" opacity="0.9"/>
<rect x="4178" y="1545" width="18" height="4" rx="2" fill="#dfe6e6" stroke="#a8b4b4" stroke-width="1"/>
<rect x="4184" y="1549" width="6" height="106" fill="#f2c23e" opacity="0.9"/>
<rect x="4217" y="1659" width="24" height="14" rx="3" fill="url(#cylH)"/>
<rect x="4210" y="1500" width="38" height="19" rx="2" fill="url(#cylH)" stroke="#8a9898" stroke-width="1"/>
<rect x="4216" y="1519" width="26" height="8" fill="url(#cylH)"/>
<path d="M4216,1527 L4242,1527 L4235,1543 L4223,1543 Z" fill="url(#cylH)"/>
<clipPath id="bc1"><path d="M4222,1547 L4236,1547 L4236,1551 Q4239,1556 4246,1566 Q4249,1572 4249,1580 Q4249,1586 4247,1590 Q4249,1596 4249,1604 L4249,1650 Q4249,1657 4241,1658 Q4229,1663 4217,1658 Q4209,1657 4209,1650 L4209,1604 Q4209,1596 4211,1590 Q4209,1586 4209,1580 Q4209,1572 4212,1566 Q4219,1556 4222,1551 Z"/></clipPath>
<path d="M4222,1547 L4236,1547 L4236,1551 Q4239,1556 4246,1566 Q4249,1572 4249,1580 Q4249,1586 4247,1590 Q4249,1596 4249,1604 L4249,1650 Q4249,1657 4241,1658 Q4229,1663 4217,1658 Q4209,1657 4209,1650 L4209,1604 Q4209,1596 4211,1590 Q4209,1586 4209,1580 Q4209,1572 4212,1566 Q4219,1556 4222,1551 Z" fill="#f4f7f7" opacity="0.55"/>
<g clip-path="url(#bc1)"><path d="M4205,1614.5 Q4217,1605.5 4229,1613.5 T4253,1610.5 L4253,1670 L4205,1670 Z" fill="url(#bottleG)" opacity="0.95"/>
<circle cx="4219.2" cy="1639.5" r="3.9" fill="#e27a12" opacity="0.7"/><circle cx="4218.3" cy="1638.5" r="1.6" fill="#ffe080" opacity="0.8"/>
<circle cx="4227.9" cy="1653.0" r="3.2" fill="#e27a12" opacity="0.7"/><circle cx="4227.2" cy="1652.2" r="1.3" fill="#ffe080" opacity="0.8"/>
<circle cx="4220.1" cy="1625.0" r="2.2" fill="#e27a12" opacity="0.7"/><circle cx="4219.5" cy="1624.4" r="0.9" fill="#ffe080" opacity="0.8"/>
<circle cx="4219.8" cy="1643.9" r="3.9" fill="#e27a12" opacity="0.7"/><circle cx="4218.8" cy="1642.9" r="1.6" fill="#ffe080" opacity="0.8"/>
<circle cx="4219.2" cy="1619.3" r="1.7" fill="#e27a12" opacity="0.7"/><circle cx="4218.8" cy="1618.8" r="0.7" fill="#ffe080" opacity="0.8"/>
<circle cx="4224.7" cy="1646.9" r="2.7" fill="#e27a12" opacity="0.7"/><circle cx="4224.1" cy="1646.2" r="1.1" fill="#ffe080" opacity="0.8"/>
<circle cx="4233.4" cy="1629.4" r="2.5" fill="#e27a12" opacity="0.7"/><circle cx="4232.8" cy="1628.8" r="1.0" fill="#ffe080" opacity="0.8"/>
<circle cx="4226.8" cy="1624.7" r="2.3" fill="#e27a12" opacity="0.7"/><circle cx="4226.2" cy="1624.2" r="0.9" fill="#ffe080" opacity="0.8"/>
<circle cx="4239.3" cy="1620.9" r="3.2" fill="#e27a12" opacity="0.7"/><circle cx="4238.5" cy="1620.1" r="1.3" fill="#ffe080" opacity="0.8"/>
<circle cx="4241.2" cy="1642.8" r="2.5" fill="#e27a12" opacity="0.7"/><circle cx="4240.6" cy="1642.1" r="1.0" fill="#ffe080" opacity="0.8"/>
<circle cx="4226.5" cy="1631.5" r="2.5" fill="#e27a12" opacity="0.7"/><circle cx="4225.9" cy="1630.9" r="1.0" fill="#ffe080" opacity="0.8"/>
<circle cx="4213.2" cy="1642.9" r="2.7" fill="#e27a12" opacity="0.7"/><circle cx="4212.5" cy="1642.3" r="1.1" fill="#ffe080" opacity="0.8"/>
</g>
<path d="M4222,1547 L4236,1547 L4236,1551 Q4239,1556 4246,1566 Q4249,1572 4249,1580 Q4249,1586 4247,1590 Q4249,1596 4249,1604 L4249,1650 Q4249,1657 4241,1658 Q4229,1663 4217,1658 Q4209,1657 4209,1650 L4209,1604 Q4209,1596 4211,1590 Q4209,1586 4209,1580 Q4209,1572 4212,1566 Q4219,1556 4222,1551 Z" fill="none" stroke="#b4c0c0" stroke-width="1.5" opacity="0.9"/>
<rect x="4220" y="1545" width="18" height="4" rx="2" fill="#dfe6e6" stroke="#a8b4b4" stroke-width="1"/>
<rect x="4226" y="1549" width="6" height="69.5" fill="#f2c23e" opacity="0.9"/>
<rect x="4268" y="1659" width="24" height="14" rx="3" fill="url(#cylH)"/>
<rect x="4261" y="1500" width="38" height="19" rx="2" fill="url(#cylH)" stroke="#8a9898" stroke-width="1"/>
<rect x="4267" y="1519" width="26" height="8" fill="url(#cylH)"/>
<path d="M4267,1527 L4293,1527 L4286,1543 L4274,1543 Z" fill="url(#cylH)"/>
<clipPath id="bc2"><path d="M4273,1547 L4287,1547 L4287,1551 Q4290,1556 4297,1566 Q4300,1572 4300,1580 Q4300,1586 4298,1590 Q4300,1596 4300,1604 L4300,1650 Q4300,1657 4292,1658 Q4280,1663 4268,1658 Q4260,1657 4260,1650 L4260,1604 Q4260,1596 4262,1590 Q4260,1586 4260,1580 Q4260,1572 4263,1566 Q4270,1556 4273,1551 Z"/></clipPath>
<path d="M4273,1547 L4287,1547 L4287,1551 Q4290,1556 4297,1566 Q4300,1572 4300,1580 Q4300,1586 4298,1590 Q4300,1596 4300,1604 L4300,1650 Q4300,1657 4292,1658 Q4280,1663 4268,1658 Q4260,1657 4260,1650 L4260,1604 Q4260,1596 4262,1590 Q4260,1586 4260,1580 Q4260,1572 4263,1566 Q4270,1556 4273,1551 Z" fill="#f4f7f7" opacity="0.55"/>
<g clip-path="url(#bc2)"><path d="M4256,1589.2 Q4268,1580.2 4280,1588.2 T4304,1585.2 L4304,1670 L4256,1670 Z" fill="url(#bottleG)" opacity="0.95"/>
<circle cx="4283.7" cy="1600.8" r="1.9" fill="#e27a12" opacity="0.7"/><circle cx="4283.2" cy="1600.3" r="0.8" fill="#ffe080" opacity="0.8"/>
<circle cx="4283.5" cy="1637.4" r="2.5" fill="#e27a12" opacity="0.7"/><circle cx="4282.8" cy="1636.8" r="1.0" fill="#ffe080" opacity="0.8"/>
<circle cx="4282.1" cy="1631.2" r="1.6" fill="#e27a12" opacity="0.7"/><circle cx="4281.7" cy="1630.8" r="0.6" fill="#ffe080" opacity="0.8"/>
<circle cx="4283.8" cy="1625.6" r="2.8" fill="#e27a12" opacity="0.7"/><circle cx="4283.1" cy="1624.9" r="1.1" fill="#ffe080" opacity="0.8"/>
<circle cx="4287.5" cy="1648.2" r="2.4" fill="#e27a12" opacity="0.7"/><circle cx="4286.9" cy="1647.6" r="1.0" fill="#ffe080" opacity="0.8"/>
<circle cx="4268.1" cy="1605.9" r="3.5" fill="#e27a12" opacity="0.7"/><circle cx="4267.2" cy="1605.0" r="1.4" fill="#ffe080" opacity="0.8"/>
<circle cx="4283.5" cy="1635.9" r="2.6" fill="#e27a12" opacity="0.7"/><circle cx="4282.8" cy="1635.2" r="1.0" fill="#ffe080" opacity="0.8"/>
<circle cx="4271.1" cy="1623.7" r="2.8" fill="#e27a12" opacity="0.7"/><circle cx="4270.4" cy="1623.0" r="1.1" fill="#ffe080" opacity="0.8"/>
<circle cx="4283.9" cy="1600.6" r="3.1" fill="#e27a12" opacity="0.7"/><circle cx="4283.1" cy="1599.8" r="1.2" fill="#ffe080" opacity="0.8"/>
<circle cx="4271.9" cy="1634.6" r="1.7" fill="#e27a12" opacity="0.7"/><circle cx="4271.5" cy="1634.2" r="0.7" fill="#ffe080" opacity="0.8"/>
<circle cx="4286.0" cy="1612.8" r="2.8" fill="#e27a12" opacity="0.7"/><circle cx="4285.3" cy="1612.1" r="1.1" fill="#ffe080" opacity="0.8"/>
<circle cx="4277.8" cy="1639.6" r="2.5" fill="#e27a12" opacity="0.7"/><circle cx="4277.2" cy="1639.0" r="1.0" fill="#ffe080" opacity="0.8"/>
<circle cx="4269.3" cy="1650.0" r="2.0" fill="#e27a12" opacity="0.7"/><circle cx="4268.8" cy="1649.5" r="0.8" fill="#ffe080" opacity="0.8"/>
<circle cx="4284.2" cy="1629.4" r="2.6" fill="#e27a12" opacity="0.7"/><circle cx="4283.6" cy="1628.7" r="1.0" fill="#ffe080" opacity="0.8"/>
<circle cx="4278.1" cy="1627.4" r="3.2" fill="#e27a12" opacity="0.7"/><circle cx="4277.3" cy="1626.6" r="1.3" fill="#ffe080" opacity="0.8"/>
<circle cx="4290.4" cy="1648.8" r="3.1" fill="#e27a12" opacity="0.7"/><circle cx="4289.6" cy="1648.0" r="1.2" fill="#ffe080" opacity="0.8"/>
<circle cx="4294.3" cy="1621.7" r="2.6" fill="#e27a12" opacity="0.7"/><circle cx="4293.7" cy="1621.0" r="1.0" fill="#ffe080" opacity="0.8"/>
</g>
<path d="M4273,1547 L4287,1547 L4287,1551 Q4290,1556 4297,1566 Q4300,1572 4300,1580 Q4300,1586 4298,1590 Q4300,1596 4300,1604 L4300,1650 Q4300,1657 4292,1658 Q4280,1663 4268,1658 Q4260,1657 4260,1650 L4260,1604 Q4260,1596 4262,1590 Q4260,1586 4260,1580 Q4260,1572 4263,1566 Q4270,1556 4273,1551 Z" fill="none" stroke="#b4c0c0" stroke-width="1.5" opacity="0.9"/>
<rect x="4271" y="1545" width="18" height="4" rx="2" fill="#dfe6e6" stroke="#a8b4b4" stroke-width="1"/>
<rect x="4277" y="1549" width="6" height="44.2" fill="#f2c23e" opacity="0.9"/>
<rect x="4329" y="1659" width="24" height="14" rx="3" fill="url(#cylH)"/>
<rect x="4322" y="1500" width="38" height="19" rx="2" fill="url(#cylH)" stroke="#8a9898" stroke-width="1"/>
<rect x="4328" y="1519" width="26" height="8" fill="url(#cylH)"/>
<path d="M4328,1527 L4354,1527 L4347,1543 L4335,1543 Z" fill="url(#cylH)"/>
<clipPath id="bc3"><path d="M4334,1547 L4348,1547 L4348,1551 Q4351,1556 4358,1566 Q4361,1572 4361,1580 Q4361,1586 4359,1590 Q4361,1596 4361,1604 L4361,1650 Q4361,1657 4353,1658 Q4341,1663 4329,1658 Q4321,1657 4321,1650 L4321,1604 Q4321,1596 4323,1590 Q4321,1586 4321,1580 Q4321,1572 4324,1566 Q4331,1556 4334,1551 Z"/></clipPath>
<path d="M4334,1547 L4348,1547 L4348,1551 Q4351,1556 4358,1566 Q4361,1572 4361,1580 Q4361,1586 4359,1590 Q4361,1596 4361,1604 L4361,1650 Q4361,1657 4353,1658 Q4341,1663 4329,1658 Q4321,1657 4321,1650 L4321,1604 Q4321,1596 4323,1590 Q4321,1586 4321,1580 Q4321,1572 4324,1566 Q4331,1556 4334,1551 Z" fill="#f4f7f7" opacity="0.55"/>
<g clip-path="url(#bc3)"><path d="M4317,1565 Q4329,1556 4341,1564 T4365,1561 L4365,1670 L4317,1670 Z" fill="url(#bottleG)" opacity="0.95"/>
<circle cx="4339.6" cy="1654.1" r="3.3" fill="#e27a12" opacity="0.7"/><circle cx="4338.8" cy="1653.3" r="1.3" fill="#ffe080" opacity="0.8"/>
<circle cx="4331.9" cy="1632.4" r="1.7" fill="#e27a12" opacity="0.7"/><circle cx="4331.5" cy="1632.0" r="0.7" fill="#ffe080" opacity="0.8"/>
<circle cx="4328.9" cy="1620.6" r="2.5" fill="#e27a12" opacity="0.7"/><circle cx="4328.3" cy="1620.0" r="1.0" fill="#ffe080" opacity="0.8"/>
<circle cx="4352.9" cy="1646.2" r="1.8" fill="#e27a12" opacity="0.7"/><circle cx="4352.5" cy="1645.7" r="0.7" fill="#ffe080" opacity="0.8"/>
<circle cx="4332.1" cy="1574.3" r="3.6" fill="#e27a12" opacity="0.7"/><circle cx="4331.2" cy="1573.4" r="1.4" fill="#ffe080" opacity="0.8"/>
<circle cx="4332.2" cy="1569.2" r="1.8" fill="#e27a12" opacity="0.7"/><circle cx="4331.8" cy="1568.8" r="0.7" fill="#ffe080" opacity="0.8"/>
<circle cx="4341.7" cy="1578.4" r="2.0" fill="#e27a12" opacity="0.7"/><circle cx="4341.3" cy="1577.9" r="0.8" fill="#ffe080" opacity="0.8"/>
<circle cx="4348.5" cy="1603.4" r="3.3" fill="#e27a12" opacity="0.7"/><circle cx="4347.6" cy="1602.6" r="1.3" fill="#ffe080" opacity="0.8"/>
<circle cx="4350.2" cy="1603.9" r="2.9" fill="#e27a12" opacity="0.7"/><circle cx="4349.4" cy="1603.2" r="1.2" fill="#ffe080" opacity="0.8"/>
<circle cx="4333.0" cy="1640.6" r="2.4" fill="#e27a12" opacity="0.7"/><circle cx="4332.4" cy="1640.0" r="1.0" fill="#ffe080" opacity="0.8"/>
<circle cx="4355.3" cy="1618.6" r="3.0" fill="#e27a12" opacity="0.7"/><circle cx="4354.5" cy="1617.9" r="1.2" fill="#ffe080" opacity="0.8"/>
<circle cx="4333.0" cy="1609.2" r="2.2" fill="#e27a12" opacity="0.7"/><circle cx="4332.5" cy="1608.7" r="0.9" fill="#ffe080" opacity="0.8"/>
<circle cx="4356.6" cy="1586.2" r="3.7" fill="#e27a12" opacity="0.7"/><circle cx="4355.6" cy="1585.3" r="1.5" fill="#ffe080" opacity="0.8"/>
<circle cx="4341.9" cy="1646.6" r="3.3" fill="#e27a12" opacity="0.7"/><circle cx="4341.1" cy="1645.8" r="1.3" fill="#ffe080" opacity="0.8"/>
<circle cx="4340.4" cy="1593.4" r="1.9" fill="#e27a12" opacity="0.7"/><circle cx="4339.9" cy="1592.9" r="0.7" fill="#ffe080" opacity="0.8"/>
<circle cx="4333.1" cy="1604.4" r="1.7" fill="#e27a12" opacity="0.7"/><circle cx="4332.6" cy="1604.0" r="0.7" fill="#ffe080" opacity="0.8"/>
<circle cx="4328.1" cy="1648.8" r="3.5" fill="#e27a12" opacity="0.7"/><circle cx="4327.2" cy="1647.9" r="1.4" fill="#ffe080" opacity="0.8"/>
<circle cx="4327.9" cy="1629.3" r="2.7" fill="#e27a12" opacity="0.7"/><circle cx="4327.2" cy="1628.6" r="1.1" fill="#ffe080" opacity="0.8"/>
<circle cx="4356.6" cy="1655.6" r="2.9" fill="#e27a12" opacity="0.7"/><circle cx="4355.9" cy="1654.9" r="1.2" fill="#ffe080" opacity="0.8"/>
<circle cx="4347.7" cy="1635.7" r="2.2" fill="#e27a12" opacity="0.7"/><circle cx="4347.1" cy="1635.1" r="0.9" fill="#ffe080" opacity="0.8"/>
<circle cx="4344.1" cy="1615.9" r="2.5" fill="#e27a12" opacity="0.7"/><circle cx="4343.5" cy="1615.3" r="1.0" fill="#ffe080" opacity="0.8"/>
<circle cx="4339.2" cy="1639.9" r="3.4" fill="#e27a12" opacity="0.7"/><circle cx="4338.4" cy="1639.0" r="1.3" fill="#ffe080" opacity="0.8"/>
</g>
<path d="M4334,1547 L4348,1547 L4348,1551 Q4351,1556 4358,1566 Q4361,1572 4361,1580 Q4361,1586 4359,1590 Q4361,1596 4361,1604 L4361,1650 Q4361,1657 4353,1658 Q4341,1663 4329,1658 Q4321,1657 4321,1650 L4321,1604 Q4321,1596 4323,1590 Q4321,1586 4321,1580 Q4321,1572 4324,1566 Q4331,1556 4334,1551 Z" fill="none" stroke="#b4c0c0" stroke-width="1.5" opacity="0.9"/>
<rect x="4332" y="1545" width="18" height="4" rx="2" fill="#dfe6e6" stroke="#a8b4b4" stroke-width="1"/>
<rect x="4338" y="1549" width="6" height="20" fill="#f2c23e" opacity="0.9"/>
<rect x="4392" y="1659" width="24" height="14" rx="3" fill="url(#cylH)"/>
<rect x="4385" y="1500" width="38" height="19" rx="2" fill="url(#cylH)" stroke="#8a9898" stroke-width="1"/>
<rect x="4391" y="1519" width="26" height="8" fill="url(#cylH)"/>
<path d="M4391,1527 L4417,1527 L4410,1543 L4398,1543 Z" fill="url(#cylH)"/>
<clipPath id="bc4"><path d="M4397,1547 L4411,1547 L4411,1551 Q4414,1556 4421,1566 Q4424,1572 4424,1580 Q4424,1586 4422,1590 Q4424,1596 4424,1604 L4424,1650 Q4424,1657 4416,1658 Q4404,1663 4392,1658 Q4384,1657 4384,1650 L4384,1604 Q4384,1596 4386,1590 Q4384,1586 4384,1580 Q4384,1572 4387,1566 Q4394,1556 4397,1551 Z"/></clipPath>
<path d="M4397,1547 L4411,1547 L4411,1551 Q4414,1556 4421,1566 Q4424,1572 4424,1580 Q4424,1586 4422,1590 Q4424,1596 4424,1604 L4424,1650 Q4424,1657 4416,1658 Q4404,1663 4392,1658 Q4384,1657 4384,1650 L4384,1604 Q4384,1596 4386,1590 Q4384,1586 4384,1580 Q4384,1572 4387,1566 Q4394,1556 4397,1551 Z" fill="#f4f7f7" opacity="0.55"/>
<g clip-path="url(#bc4)"><path d="M4380,1567.2 Q4392,1558.2 4404,1566.2 T4428,1563.2 L4428,1670 L4380,1670 Z" fill="url(#bottleG)" opacity="0.95"/>
<circle cx="4415.9" cy="1652.5" r="3.3" fill="#e27a12" opacity="0.7"/><circle cx="4415.1" cy="1651.7" r="1.3" fill="#ffe080" opacity="0.8"/>
<circle cx="4398.6" cy="1589.0" r="3.3" fill="#e27a12" opacity="0.7"/><circle cx="4397.8" cy="1588.1" r="1.3" fill="#ffe080" opacity="0.8"/>
<circle cx="4388.5" cy="1639.2" r="1.9" fill="#e27a12" opacity="0.7"/><circle cx="4388.1" cy="1638.7" r="0.8" fill="#ffe080" opacity="0.8"/>
<circle cx="4391.8" cy="1646.9" r="3.1" fill="#e27a12" opacity="0.7"/><circle cx="4391.0" cy="1646.1" r="1.3" fill="#ffe080" opacity="0.8"/>
<circle cx="4408.7" cy="1597.8" r="3.7" fill="#e27a12" opacity="0.7"/><circle cx="4407.7" cy="1596.9" r="1.5" fill="#ffe080" opacity="0.8"/>
<circle cx="4400.5" cy="1619.7" r="2.3" fill="#e27a12" opacity="0.7"/><circle cx="4399.9" cy="1619.1" r="0.9" fill="#ffe080" opacity="0.8"/>
<circle cx="4408.1" cy="1623.1" r="2.5" fill="#e27a12" opacity="0.7"/><circle cx="4407.5" cy="1622.5" r="1.0" fill="#ffe080" opacity="0.8"/>
<circle cx="4405.2" cy="1609.7" r="2.1" fill="#e27a12" opacity="0.7"/><circle cx="4404.6" cy="1609.1" r="0.9" fill="#ffe080" opacity="0.8"/>
<circle cx="4406.2" cy="1584.8" r="1.8" fill="#e27a12" opacity="0.7"/><circle cx="4405.8" cy="1584.4" r="0.7" fill="#ffe080" opacity="0.8"/>
<circle cx="4413.7" cy="1621.1" r="3.6" fill="#e27a12" opacity="0.7"/><circle cx="4412.8" cy="1620.2" r="1.4" fill="#ffe080" opacity="0.8"/>
<circle cx="4401.3" cy="1591.1" r="3.8" fill="#e27a12" opacity="0.7"/><circle cx="4400.3" cy="1590.1" r="1.5" fill="#ffe080" opacity="0.8"/>
<circle cx="4419.7" cy="1599.6" r="2.0" fill="#e27a12" opacity="0.7"/><circle cx="4419.2" cy="1599.1" r="0.8" fill="#ffe080" opacity="0.8"/>
<circle cx="4389.3" cy="1642.2" r="3.2" fill="#e27a12" opacity="0.7"/><circle cx="4388.5" cy="1641.4" r="1.3" fill="#ffe080" opacity="0.8"/>
<circle cx="4405.5" cy="1639.1" r="3.1" fill="#e27a12" opacity="0.7"/><circle cx="4404.8" cy="1638.4" r="1.2" fill="#ffe080" opacity="0.8"/>
<circle cx="4419.9" cy="1648.5" r="1.9" fill="#e27a12" opacity="0.7"/><circle cx="4419.4" cy="1648.0" r="0.8" fill="#ffe080" opacity="0.8"/>
<circle cx="4389.3" cy="1614.6" r="2.4" fill="#e27a12" opacity="0.7"/><circle cx="4388.7" cy="1614.0" r="1.0" fill="#ffe080" opacity="0.8"/>
<circle cx="4393.1" cy="1581.8" r="3.1" fill="#e27a12" opacity="0.7"/><circle cx="4392.4" cy="1581.0" r="1.2" fill="#ffe080" opacity="0.8"/>
<circle cx="4392.9" cy="1576.5" r="1.5" fill="#e27a12" opacity="0.7"/><circle cx="4392.5" cy="1576.2" r="0.6" fill="#ffe080" opacity="0.8"/>
<circle cx="4395.8" cy="1639.8" r="1.7" fill="#e27a12" opacity="0.7"/><circle cx="4395.4" cy="1639.4" r="0.7" fill="#ffe080" opacity="0.8"/>
<circle cx="4411.0" cy="1623.1" r="3.1" fill="#e27a12" opacity="0.7"/><circle cx="4410.2" cy="1622.3" r="1.2" fill="#ffe080" opacity="0.8"/>
<circle cx="4405.1" cy="1616.7" r="3.3" fill="#e27a12" opacity="0.7"/><circle cx="4404.3" cy="1615.9" r="1.3" fill="#ffe080" opacity="0.8"/>
<circle cx="4415.0" cy="1596.1" r="3.2" fill="#e27a12" opacity="0.7"/><circle cx="4414.2" cy="1595.3" r="1.3" fill="#ffe080" opacity="0.8"/>
</g>
<path d="M4397,1547 L4411,1547 L4411,1551 Q4414,1556 4421,1566 Q4424,1572 4424,1580 Q4424,1586 4422,1590 Q4424,1596 4424,1604 L4424,1650 Q4424,1657 4416,1658 Q4404,1663 4392,1658 Q4384,1657 4384,1650 L4384,1604 Q4384,1596 4386,1590 Q4384,1586 4384,1580 Q4384,1572 4387,1566 Q4394,1556 4397,1551 Z" fill="none" stroke="#b4c0c0" stroke-width="1.5" opacity="0.9"/>
<rect x="4395" y="1545" width="18" height="4" rx="2" fill="#dfe6e6" stroke="#a8b4b4" stroke-width="1"/>
<rect x="4401" y="1549" width="6" height="22.2" fill="#f2c23e" opacity="0.9"/>
<rect x="4448" y="1659" width="24" height="14" rx="3" fill="url(#cylH)"/>
<rect x="4441" y="1500" width="38" height="19" rx="2" fill="url(#cylH)" stroke="#8a9898" stroke-width="1"/>
<rect x="4447" y="1519" width="26" height="8" fill="url(#cylH)"/>
<path d="M4447,1527 L4473,1527 L4466,1543 L4454,1543 Z" fill="url(#cylH)"/>
<clipPath id="bc5"><path d="M4453,1547 L4467,1547 L4467,1551 Q4470,1556 4477,1566 Q4480,1572 4480,1580 Q4480,1586 4478,1590 Q4480,1596 4480,1604 L4480,1650 Q4480,1657 4472,1658 Q4460,1663 4448,1658 Q4440,1657 4440,1650 L4440,1604 Q4440,1596 4442,1590 Q4440,1586 4440,1580 Q4440,1572 4443,1566 Q4450,1556 4453,1551 Z"/></clipPath>
<path d="M4453,1547 L4467,1547 L4467,1551 Q4470,1556 4477,1566 Q4480,1572 4480,1580 Q4480,1586 4478,1590 Q4480,1596 4480,1604 L4480,1650 Q4480,1657 4472,1658 Q4460,1663 4448,1658 Q4440,1657 4440,1650 L4440,1604 Q4440,1596 4442,1590 Q4440,1586 4440,1580 Q4440,1572 4443,1566 Q4450,1556 4453,1551 Z" fill="#f4f7f7" opacity="0.55"/>
<g clip-path="url(#bc5)"><path d="M4436,1569.4 Q4448,1560.4 4460,1568.4 T4484,1565.4 L4484,1670 L4436,1670 Z" fill="url(#bottleG)" opacity="0.95"/>
<circle cx="4455.2" cy="1645.7" r="3.5" fill="#e27a12" opacity="0.7"/><circle cx="4454.3" cy="1644.8" r="1.4" fill="#ffe080" opacity="0.8"/>
<circle cx="4454.0" cy="1651.9" r="3.4" fill="#e27a12" opacity="0.7"/><circle cx="4453.1" cy="1651.0" r="1.4" fill="#ffe080" opacity="0.8"/>
<circle cx="4449.2" cy="1599.7" r="2.4" fill="#e27a12" opacity="0.7"/><circle cx="4448.6" cy="1599.1" r="0.9" fill="#ffe080" opacity="0.8"/>
<circle cx="4448.7" cy="1635.0" r="3.1" fill="#e27a12" opacity="0.7"/><circle cx="4447.9" cy="1634.2" r="1.3" fill="#ffe080" opacity="0.8"/>
<circle cx="4449.4" cy="1601.1" r="2.6" fill="#e27a12" opacity="0.7"/><circle cx="4448.8" cy="1600.5" r="1.0" fill="#ffe080" opacity="0.8"/>
<circle cx="4458.7" cy="1604.1" r="3.7" fill="#e27a12" opacity="0.7"/><circle cx="4457.8" cy="1603.2" r="1.5" fill="#ffe080" opacity="0.8"/>
<circle cx="4451.3" cy="1649.3" r="4.0" fill="#e27a12" opacity="0.7"/><circle cx="4450.3" cy="1648.3" r="1.6" fill="#ffe080" opacity="0.8"/>
<circle cx="4474.7" cy="1623.2" r="3.5" fill="#e27a12" opacity="0.7"/><circle cx="4473.8" cy="1622.3" r="1.4" fill="#ffe080" opacity="0.8"/>
<circle cx="4452.0" cy="1615.9" r="3.8" fill="#e27a12" opacity="0.7"/><circle cx="4451.1" cy="1614.9" r="1.5" fill="#ffe080" opacity="0.8"/>
<circle cx="4464.0" cy="1655.9" r="1.8" fill="#e27a12" opacity="0.7"/><circle cx="4463.5" cy="1655.5" r="0.7" fill="#ffe080" opacity="0.8"/>
<circle cx="4468.5" cy="1641.0" r="3.7" fill="#e27a12" opacity="0.7"/><circle cx="4467.6" cy="1640.1" r="1.5" fill="#ffe080" opacity="0.8"/>
<circle cx="4475.2" cy="1654.0" r="3.3" fill="#e27a12" opacity="0.7"/><circle cx="4474.4" cy="1653.2" r="1.3" fill="#ffe080" opacity="0.8"/>
<circle cx="4461.0" cy="1604.6" r="2.8" fill="#e27a12" opacity="0.7"/><circle cx="4460.3" cy="1603.9" r="1.1" fill="#ffe080" opacity="0.8"/>
<circle cx="4464.0" cy="1635.7" r="3.6" fill="#e27a12" opacity="0.7"/><circle cx="4463.1" cy="1634.8" r="1.4" fill="#ffe080" opacity="0.8"/>
<circle cx="4462.9" cy="1615.0" r="3.9" fill="#e27a12" opacity="0.7"/><circle cx="4461.9" cy="1614.0" r="1.6" fill="#ffe080" opacity="0.8"/>
<circle cx="4473.8" cy="1638.4" r="3.2" fill="#e27a12" opacity="0.7"/><circle cx="4473.0" cy="1637.6" r="1.3" fill="#ffe080" opacity="0.8"/>
<circle cx="4457.4" cy="1581.9" r="2.2" fill="#e27a12" opacity="0.7"/><circle cx="4456.8" cy="1581.4" r="0.9" fill="#ffe080" opacity="0.8"/>
<circle cx="4448.1" cy="1593.6" r="1.8" fill="#e27a12" opacity="0.7"/><circle cx="4447.6" cy="1593.2" r="0.7" fill="#ffe080" opacity="0.8"/>
<circle cx="4469.1" cy="1612.1" r="3.7" fill="#e27a12" opacity="0.7"/><circle cx="4468.1" cy="1611.2" r="1.5" fill="#ffe080" opacity="0.8"/>
<circle cx="4462.6" cy="1653.3" r="1.5" fill="#e27a12" opacity="0.7"/><circle cx="4462.2" cy="1652.9" r="0.6" fill="#ffe080" opacity="0.8"/>
<circle cx="4445.8" cy="1587.6" r="3.7" fill="#e27a12" opacity="0.7"/><circle cx="4444.9" cy="1586.7" r="1.5" fill="#ffe080" opacity="0.8"/>
</g>
<path d="M4453,1547 L4467,1547 L4467,1551 Q4470,1556 4477,1566 Q4480,1572 4480,1580 Q4480,1586 4478,1590 Q4480,1596 4480,1604 L4480,1650 Q4480,1657 4472,1658 Q4460,1663 4448,1658 Q4440,1657 4440,1650 L4440,1604 Q4440,1596 4442,1590 Q4440,1586 4440,1580 Q4440,1572 4443,1566 Q4450,1556 4453,1551 Z" fill="none" stroke="#b4c0c0" stroke-width="1.5" opacity="0.9"/>
<rect x="4451" y="1545" width="18" height="4" rx="2" fill="#dfe6e6" stroke="#a8b4b4" stroke-width="1"/>
<rect x="4457" y="1549" width="6" height="24.4" fill="#f2c23e" opacity="0.9"/>
<path d="M4170,1320 L4170,1304 Q4172,1295 4200,1294 L4450,1294 Q4478,1295 4478,1304 L4478,1320 Z" fill="url(#capG)" stroke="#95a2a2" stroke-width="1.5"/>
<path d="M4143,1335 Q4143,1326 4160,1325 L4490,1325 Q4506,1326 4506,1335 L4506,1502 L4143,1502 Z" fill="url(#drumH)" stroke="#8a9898" stroke-width="1.5"/>
<rect x="4144" y="1478" width="361" height="24" fill="#000" opacity="0.05"/>
<path d="M4145,1350 L4133,1353 Q4123,1371 4133,1389 L4145,1392 Z" fill="#c4cece" stroke="#95a2a2" stroke-width="1.5"/>
<path d="M4145,1425 L4133,1428 Q4123,1445 4133,1462 L4145,1465 Z" fill="#c4cece" stroke="#95a2a2" stroke-width="1.5"/>
<path d="M4143,1678 Q4143,1668 4170,1667 L4480,1667 Q4508,1668 4508,1678 L4508,1926 Q4500,1938 4470,1939 L4180,1939 Q4145,1938 4143,1926 Z" fill="url(#drumH)" stroke="#8a9898" stroke-width="1.5"/>
<path d="M4144,1678 Q4144,1668 4170,1667 L4480,1667 Q4507,1668 4507,1678 Q4325,1688 4144,1678 Z" fill="#cfd8d8"/>
<rect x="4144" y="1896" width="363" height="38" fill="#fff" opacity="0.06"/><path d="M4144,1897 H4507 M4144,1702 H4507" stroke="#8a9898" stroke-width="2" opacity="0.6"/>
<!-- front -->
<path d="M669,1740 L703,1747 L714,2066 L664,2063 L659,1824 Z" fill="#bfcbc9" stroke="#a9b6b4" stroke-width="1.5"/>
<path d="M669,1740 L688,1744 L691,2065 L664,2063 L659,1824 Z" fill="#c8d3d1"/>
<path d="M957,1750 L998,1744 L1007,2064 L957,2069 L950,1860 Z" fill="#bfcbc9" stroke="#a9b6b4" stroke-width="1.5"/>
<path d="M957,1750 L970,1749 L982,2067 L957,2069 L950,1860 Z" fill="#c8d3d1"/>
<rect x="1280" y="1855" width="19" height="217" rx="2" fill="url(#legG)" stroke="#7f8c8c" stroke-width="1.5" filter="url(#galv)"/>
<rect x="1487" y="1855" width="18" height="217" rx="2" fill="url(#legG)" stroke="#7f8c8c" stroke-width="1.5" filter="url(#galv)"/>
<rect x="1964" y="1641" width="22" height="426" rx="2" fill="url(#legG)" stroke="#7f8c8c" stroke-width="1.5" filter="url(#galv)"/>
<rect x="2227" y="1641" width="21" height="425" rx="2" fill="url(#legG)" stroke="#7f8c8c" stroke-width="1.5" filter="url(#galv)"/>
<rect x="2575" y="1640" width="22" height="426" rx="2" fill="url(#legG)" stroke="#7f8c8c" stroke-width="1.5" filter="url(#galv)"/>
<rect x="2830" y="1640" width="22" height="426" rx="2" fill="url(#legG)" stroke="#7f8c8c" stroke-width="1.5" filter="url(#galv)"/>
<rect x="3517" y="1640" width="22" height="426" rx="2" fill="url(#legG)" stroke="#7f8c8c" stroke-width="1.5" filter="url(#galv)"/>
<rect x="3770" y="1640" width="22" height="426" rx="2" fill="url(#legG)" stroke="#7f8c8c" stroke-width="1.5" filter="url(#galv)"/>
<!-- top -->
<path d="M291,2007.75 L411,2007.75 L405,2024 L452,1999 L405,1974 L411,1990.25 L291,1990.25 Z" fill="url(#ag5)"/>
<path d="M1573.5,937 L1573.5,849 L1585,853 L1567,818 L1549,853 L1560.5,849 L1560.5,937 Z" fill="url(#ag6)"/>
<path d="M1675,1401.5 L1764,1401.5 L1760,1413 L1795,1395 L1760,1377 L1764,1388.5 L1675,1388.5 Z" fill="url(#ag7)"/>
<path d="M2784,482 L2784,553 L2772,549 L2791,585 L2810,549 L2798,553 L2798,482 Z" fill="url(#ag8)"/>
<path d="M3320,482 L3320,553 L3308,549 L3327,585 L3346,549 L3334,553 L3334,482 Z" fill="url(#ag9)"/>
<path d="M3728,482 L3728,553 L3716,549 L3735,585 L3754,549 L3742,553 L3742,482 Z" fill="url(#ag10)"/>
<path d="M4045,819 L4045,908 L4033,904 L4052,940 L4071,904 L4059,908 L4059,819 Z" fill="url(#ag11)"/>
<path d="M2356,1936.5 L2443,1936.5 L2439,1948.5 L2475,1930 L2439,1911.5 L2443,1923.5 L2356,1923.5 Z" fill="url(#ag12)"/>
<path d="M3233,1935.5 L3319,1935.5 L3315,1947 L3350,1929 L3315,1911 L3319,1922.5 L3233,1922.5 Z" fill="url(#ag13)"/>
<path d="M4057.5,1733 L4057.5,1647 L4069,1651 L4051,1616 L4033,1651 L4044.5,1647 L4044.5,1733 Z" fill="url(#ag14)"/>
<text x="2349" y="355" font-family="Liberation Sans" font-weight="bold" font-size="60" fill="#0a3ade" textLength="105" lengthAdjust="spacingAndGlyphs">Luft</text>
<text x="277" y="2174" font-family="Liberation Sans" font-weight="bold" font-size="59" fill="#0a3ade" textLength="201" lengthAdjust="spacingAndGlyphs">Wasser</text>
<text x="1247" y="2174" font-family="Liberation Sans" font-weight="bold" font-size="59" fill="#0a3ade" textLength="320" lengthAdjust="spacingAndGlyphs">Verdampfer</text>
<text x="2025" y="2174" font-family="Liberation Sans" font-weight="bold" font-size="59" fill="#0a3ade" textLength="199" lengthAdjust="spacingAndGlyphs">Wasser</text>
<text x="2658" y="2174" font-family="Liberation Sans" font-weight="bold" font-size="59" fill="#0a3ade" textLength="145" lengthAdjust="spacingAndGlyphs">Sirup</text>
<text x="3481" y="2174" font-family="Liberation Sans" font-weight="bold" font-size="59" fill="#0a3ade" textLength="389" lengthAdjust="spacingAndGlyphs">karbonisiertes</text>
<text x="3565" y="2235" font-family="Liberation Sans" font-weight="bold" font-size="59" fill="#0a3ade" textLength="221" lengthAdjust="spacingAndGlyphs">Getränk</text>
<text x="4169" y="2174" font-family="Liberation Sans" font-weight="bold" font-size="59" fill="#0a3ade" textLength="348" lengthAdjust="spacingAndGlyphs">Abfüllanlage</text>
</svg>
</body></html>
